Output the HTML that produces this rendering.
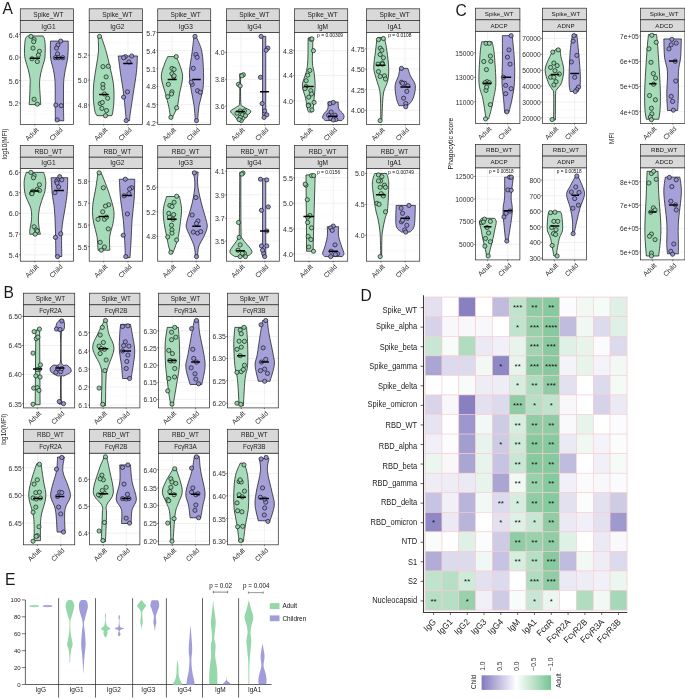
<!DOCTYPE html><html><head><meta charset="utf-8"><style>html,body{margin:0;padding:0;background:#fff;overflow:hidden}svg{display:block}</style></head><body>
<svg width="685" height="699" viewBox="0 0 685 699" font-family='"Liberation Sans", Arial, sans-serif'>
<rect width="685" height="699" fill="#fff"/>
<clipPath id="a1"><rect x="20.3" y="32.5" width="53.3" height="91.9"/></clipPath>
<rect x="20.3" y="32.5" width="53.3" height="91.9" fill="#fff"/>
<g clip-path="url(#a1)">
<line x1="20.3" x2="73.6" y1="45.98" y2="45.98" stroke="#f5f5f5" stroke-width="0.5"/>
<line x1="20.3" x2="73.6" y1="68.9" y2="68.9" stroke="#f5f5f5" stroke-width="0.5"/>
<line x1="20.3" x2="73.6" y1="91.81" y2="91.81" stroke="#f5f5f5" stroke-width="0.5"/>
<line x1="20.3" x2="73.6" y1="114.4" y2="114.4" stroke="#f5f5f5" stroke-width="0.5"/>
<line x1="20.3" x2="73.6" y1="34.69" y2="34.69" stroke="#ebebeb" stroke-width="0.7"/>
<line x1="20.3" x2="73.6" y1="57.28" y2="57.28" stroke="#ebebeb" stroke-width="0.7"/>
<line x1="20.3" x2="73.6" y1="80.51" y2="80.51" stroke="#ebebeb" stroke-width="0.7"/>
<line x1="20.3" x2="73.6" y1="103.1" y2="103.1" stroke="#ebebeb" stroke-width="0.7"/>
<line x1="34.84" x2="34.84" y1="32.5" y2="124.4" stroke="#ebebeb" stroke-width="0.7"/>
<line x1="59.06" x2="59.06" y1="32.5" y2="124.4" stroke="#ebebeb" stroke-width="0.7"/>
<path d="M43.05,35.97C43.27,36.39 43.98,37.1 44.33,38.53C44.69,39.95 45.04,42.01 45.18,44.49C45.33,46.98 45.29,50.85 45.18,53.44C45.08,56.04 45.11,57.42 44.54,60.05C43.98,62.68 42.55,66.13 41.77,69.22C40.99,72.31 40.21,75.79 39.86,78.59C39.5,81.4 39.57,82.96 39.64,86.05C39.71,89.14 40.1,94.05 40.28,97.14C40.46,100.23 40.64,103.35 40.71,104.6L29.2,104.6C29.27,103.35 29.48,100.23 29.62,97.14C29.77,94.05 29.98,89.14 30.05,86.05C30.12,82.96 30.37,81.4 30.05,78.59C29.73,75.79 28.91,72.31 28.13,69.22C27.35,66.13 25.97,62.68 25.36,60.05C24.76,57.42 24.62,56.04 24.51,53.44C24.4,50.85 24.55,46.98 24.72,44.49C24.9,42.01 25.11,39.95 25.58,38.53C26.04,37.1 27.17,36.39 27.49,35.97Z" fill="#a6dcb9" stroke="#1a1a1a" stroke-width="0.75"/>
<path d="M68.2,41.08C68.2,42.79 68.34,48.15 68.2,51.31C68.06,54.47 67.81,57.07 67.35,60.05C66.89,63.03 66,66.13 65.43,69.22C64.86,72.31 64.26,75.47 63.94,78.59C63.62,81.72 63.58,83.32 63.51,87.97C63.44,92.62 63.48,101.04 63.51,106.51C63.55,111.98 63.69,118.41 63.73,120.79L55.41,120.79C55.38,118.41 55.24,111.98 55.2,106.51C55.16,101.04 55.27,92.62 55.2,87.97C55.13,83.32 55.09,81.72 54.77,78.59C54.45,75.47 53.92,72.31 53.28,69.22C52.64,66.13 51.44,63.03 50.94,60.05C50.44,57.07 50.37,54.47 50.3,51.31C50.23,48.15 50.48,42.79 50.51,41.08Z" fill="#a5a1d8" stroke="#1a1a1a" stroke-width="0.75"/>
<circle cx="30.9" cy="36.39" r="2.1" fill="#8ed3a4" stroke="#1a1a1a" stroke-width="0.7"/>
<circle cx="34.1" cy="39.59" r="2.1" fill="#8ed3a4" stroke="#1a1a1a" stroke-width="0.7"/>
<circle cx="33.67" cy="41.72" r="2.1" fill="#8ed3a4" stroke="#1a1a1a" stroke-width="0.7"/>
<circle cx="33.03" cy="48.12" r="2.1" fill="#8ed3a4" stroke="#1a1a1a" stroke-width="0.7"/>
<circle cx="39.43" cy="51.31" r="2.1" fill="#8ed3a4" stroke="#1a1a1a" stroke-width="0.7"/>
<circle cx="38.36" cy="55.15" r="2.1" fill="#8ed3a4" stroke="#1a1a1a" stroke-width="0.7"/>
<circle cx="31.97" cy="58.77" r="2.1" fill="#8ed3a4" stroke="#1a1a1a" stroke-width="0.7"/>
<circle cx="37.3" cy="61.54" r="2.1" fill="#8ed3a4" stroke="#1a1a1a" stroke-width="0.7"/>
<circle cx="34.1" cy="99.27" r="2.1" fill="#8ed3a4" stroke="#1a1a1a" stroke-width="0.7"/>
<circle cx="37.3" cy="104.17" r="2.1" fill="#8ed3a4" stroke="#1a1a1a" stroke-width="0.7"/>
<circle cx="60.74" cy="41.08" r="2.1" fill="#9690d4" stroke="#1a1a1a" stroke-width="0.7"/>
<circle cx="57.97" cy="44.92" r="2.1" fill="#9690d4" stroke="#1a1a1a" stroke-width="0.7"/>
<circle cx="56.48" cy="48.12" r="2.1" fill="#9690d4" stroke="#1a1a1a" stroke-width="0.7"/>
<circle cx="57.54" cy="53.87" r="2.1" fill="#9690d4" stroke="#1a1a1a" stroke-width="0.7"/>
<circle cx="55.41" cy="57.71" r="2.1" fill="#9690d4" stroke="#1a1a1a" stroke-width="0.7"/>
<circle cx="58.61" cy="57.71" r="2.1" fill="#9690d4" stroke="#1a1a1a" stroke-width="0.7"/>
<circle cx="62.87" cy="57.71" r="2.1" fill="#9690d4" stroke="#1a1a1a" stroke-width="0.7"/>
<circle cx="55.84" cy="105.02" r="2.1" fill="#9690d4" stroke="#1a1a1a" stroke-width="0.7"/>
<circle cx="61.17" cy="105.66" r="2.1" fill="#9690d4" stroke="#1a1a1a" stroke-width="0.7"/>
<circle cx="57.12" cy="119.94" r="2.1" fill="#9690d4" stroke="#1a1a1a" stroke-width="0.7"/>
<line x1="29.84" x2="40.07" y1="58.13" y2="58.13" stroke="#000" stroke-width="1.5"/>
<line x1="54.35" x2="63.94" y1="57.71" y2="57.71" stroke="#000" stroke-width="1.5"/>
</g>
<rect x="20.3" y="32.5" width="53.3" height="91.9" fill="none" stroke="#333333" stroke-width="0.75"/>
<rect x="20.3" y="8.8" width="53.3" height="11.7" fill="#d9d9d9" stroke="#333333" stroke-width="0.75"/>
<text x="48.45" y="16.85" font-size="6.55" fill="#1a1a1a" text-anchor="middle">Spike_WT</text>
<rect x="20.3" y="20.5" width="53.3" height="12" fill="#d9d9d9" stroke="#333333" stroke-width="0.75"/>
<text x="48.45" y="28.7" font-size="6.55" fill="#1a1a1a" text-anchor="middle">IgG1</text>
<line x1="19" x2="20.3" y1="34.69" y2="34.69" stroke="#333333" stroke-width="0.6"/>
<text x="18.6" y="37.69" font-size="7.5" fill="#2e2e2e" text-anchor="end" textLength="9.73" lengthAdjust="spacingAndGlyphs">6.4</text>
<line x1="19" x2="20.3" y1="57.28" y2="57.28" stroke="#333333" stroke-width="0.6"/>
<text x="18.6" y="60.28" font-size="7.5" fill="#2e2e2e" text-anchor="end" textLength="9.73" lengthAdjust="spacingAndGlyphs">6.0</text>
<line x1="19" x2="20.3" y1="80.51" y2="80.51" stroke="#333333" stroke-width="0.6"/>
<text x="18.6" y="83.51" font-size="7.5" fill="#2e2e2e" text-anchor="end" textLength="9.73" lengthAdjust="spacingAndGlyphs">5.6</text>
<line x1="19" x2="20.3" y1="103.1" y2="103.1" stroke="#333333" stroke-width="0.6"/>
<text x="18.6" y="106.1" font-size="7.5" fill="#2e2e2e" text-anchor="end" textLength="9.73" lengthAdjust="spacingAndGlyphs">5.2</text>
<line x1="34.84" x2="34.84" y1="124.4" y2="125.7" stroke="#333333" stroke-width="0.6"/>
<text x="35.64" y="127" font-size="6.8" fill="#2e2e2e" text-anchor="end" dominant-baseline="hanging" transform="rotate(-45 35.64 127)">Adult</text>
<line x1="59.06" x2="59.06" y1="124.4" y2="125.7" stroke="#333333" stroke-width="0.6"/>
<text x="59.86" y="127" font-size="6.8" fill="#2e2e2e" text-anchor="end" dominant-baseline="hanging" transform="rotate(-45 59.86 127)">Child</text>
<clipPath id="a2"><rect x="89.2" y="32.5" width="53.3" height="91.9"/></clipPath>
<rect x="89.2" y="32.5" width="53.3" height="91.9" fill="#fff"/>
<g clip-path="url(#a2)">
<line x1="89.2" x2="142.5" y1="42.68" y2="42.68" stroke="#f5f5f5" stroke-width="0.5"/>
<line x1="89.2" x2="142.5" y1="67.62" y2="67.62" stroke="#f5f5f5" stroke-width="0.5"/>
<line x1="89.2" x2="142.5" y1="92.55" y2="92.55" stroke="#f5f5f5" stroke-width="0.5"/>
<line x1="89.2" x2="142.5" y1="117.49" y2="117.49" stroke="#f5f5f5" stroke-width="0.5"/>
<line x1="89.2" x2="142.5" y1="55.15" y2="55.15" stroke="#ebebeb" stroke-width="0.7"/>
<line x1="89.2" x2="142.5" y1="80.09" y2="80.09" stroke="#ebebeb" stroke-width="0.7"/>
<line x1="89.2" x2="142.5" y1="105.02" y2="105.02" stroke="#ebebeb" stroke-width="0.7"/>
<line x1="103.74" x2="103.74" y1="32.5" y2="124.4" stroke="#ebebeb" stroke-width="0.7"/>
<line x1="127.96" x2="127.96" y1="32.5" y2="124.4" stroke="#ebebeb" stroke-width="0.7"/>
<path d="M101.02,35.97C101.88,38.53 104.68,46.27 106.14,51.31C107.59,56.36 108.55,60.9 109.76,66.23C110.97,71.56 112.67,77.95 113.38,83.28C114.09,88.61 114.09,93.58 114.02,98.2C113.95,102.82 113.31,108.08 112.96,110.99C112.6,113.9 112.07,114.9 111.89,115.68L96.97,115.68C96.62,114.9 95.45,113.9 94.84,110.99C94.24,108.08 93.53,102.82 93.35,98.2C93.17,93.58 93.28,88.61 93.78,83.28C94.27,77.95 95.55,71.56 96.33,66.23C97.12,60.9 98.18,56.36 98.47,51.31C98.75,46.27 98.11,38.53 98.04,35.97Z" fill="#a6dcb9" stroke="#1a1a1a" stroke-width="0.75"/>
<path d="M137.47,56C137.29,58.77 137.11,66.3 136.4,72.63C135.69,78.95 134.27,86.83 133.21,93.94C132.14,101.04 130.61,110.81 130.01,115.25C129.4,119.69 129.65,119.69 129.58,120.58L126.17,120.58C126.1,119.69 126.17,119.69 125.75,115.25C125.32,110.81 124.5,101.04 123.61,93.94C122.73,86.83 121.31,78.95 120.42,72.63C119.53,66.3 118.64,58.77 118.29,56Z" fill="#a5a1d8" stroke="#1a1a1a" stroke-width="0.75"/>
<circle cx="99.53" cy="36.39" r="2.1" fill="#8ed3a4" stroke="#1a1a1a" stroke-width="0.7"/>
<circle cx="102.94" cy="66.66" r="2.1" fill="#8ed3a4" stroke="#1a1a1a" stroke-width="0.7"/>
<circle cx="108.27" cy="66.23" r="2.1" fill="#8ed3a4" stroke="#1a1a1a" stroke-width="0.7"/>
<circle cx="106.14" cy="76.89" r="2.1" fill="#8ed3a4" stroke="#1a1a1a" stroke-width="0.7"/>
<circle cx="102.94" cy="84.35" r="2.1" fill="#8ed3a4" stroke="#1a1a1a" stroke-width="0.7"/>
<circle cx="102.94" cy="87.97" r="2.1" fill="#8ed3a4" stroke="#1a1a1a" stroke-width="0.7"/>
<circle cx="104.43" cy="93.94" r="2.1" fill="#8ed3a4" stroke="#1a1a1a" stroke-width="0.7"/>
<circle cx="107.63" cy="98.2" r="2.1" fill="#8ed3a4" stroke="#1a1a1a" stroke-width="0.7"/>
<circle cx="100.17" cy="103.53" r="2.1" fill="#8ed3a4" stroke="#1a1a1a" stroke-width="0.7"/>
<circle cx="101.88" cy="108.43" r="2.1" fill="#8ed3a4" stroke="#1a1a1a" stroke-width="0.7"/>
<circle cx="106.56" cy="110.56" r="2.1" fill="#8ed3a4" stroke="#1a1a1a" stroke-width="0.7"/>
<circle cx="105.5" cy="115.68" r="2.1" fill="#8ed3a4" stroke="#1a1a1a" stroke-width="0.7"/>
<circle cx="102.3" cy="102.46" r="2.1" fill="#8ed3a4" stroke="#1a1a1a" stroke-width="0.7"/>
<circle cx="125.32" cy="56.64" r="2.1" fill="#9690d4" stroke="#1a1a1a" stroke-width="0.7"/>
<circle cx="131.71" cy="56" r="2.1" fill="#9690d4" stroke="#1a1a1a" stroke-width="0.7"/>
<circle cx="123.61" cy="57.71" r="2.1" fill="#9690d4" stroke="#1a1a1a" stroke-width="0.7"/>
<circle cx="128.94" cy="61.97" r="2.1" fill="#9690d4" stroke="#1a1a1a" stroke-width="0.7"/>
<circle cx="127.45" cy="91.81" r="2.1" fill="#9690d4" stroke="#1a1a1a" stroke-width="0.7"/>
<circle cx="123.61" cy="97.14" r="2.1" fill="#9690d4" stroke="#1a1a1a" stroke-width="0.7"/>
<circle cx="126.17" cy="120.58" r="2.1" fill="#9690d4" stroke="#1a1a1a" stroke-width="0.7"/>
<line x1="99.1" x2="108.7" y1="94.58" y2="94.58" stroke="#000" stroke-width="1.5"/>
<line x1="123.19" x2="132.57" y1="63.46" y2="63.46" stroke="#000" stroke-width="1.5"/>
</g>
<rect x="89.2" y="32.5" width="53.3" height="91.9" fill="none" stroke="#333333" stroke-width="0.75"/>
<rect x="89.2" y="8.8" width="53.3" height="11.7" fill="#d9d9d9" stroke="#333333" stroke-width="0.75"/>
<text x="117.35" y="16.85" font-size="6.55" fill="#1a1a1a" text-anchor="middle">Spike_WT</text>
<rect x="89.2" y="20.5" width="53.3" height="12" fill="#d9d9d9" stroke="#333333" stroke-width="0.75"/>
<text x="117.35" y="28.7" font-size="6.55" fill="#1a1a1a" text-anchor="middle">IgG2</text>
<line x1="87.9" x2="89.2" y1="55.15" y2="55.15" stroke="#333333" stroke-width="0.6"/>
<text x="87.5" y="58.15" font-size="7.5" fill="#2e2e2e" text-anchor="end" textLength="9.73" lengthAdjust="spacingAndGlyphs">5.2</text>
<line x1="87.9" x2="89.2" y1="80.09" y2="80.09" stroke="#333333" stroke-width="0.6"/>
<text x="87.5" y="83.09" font-size="7.5" fill="#2e2e2e" text-anchor="end" textLength="9.73" lengthAdjust="spacingAndGlyphs">5.0</text>
<line x1="87.9" x2="89.2" y1="105.02" y2="105.02" stroke="#333333" stroke-width="0.6"/>
<text x="87.5" y="108.02" font-size="7.5" fill="#2e2e2e" text-anchor="end" textLength="9.73" lengthAdjust="spacingAndGlyphs">4.8</text>
<line x1="103.74" x2="103.74" y1="124.4" y2="125.7" stroke="#333333" stroke-width="0.6"/>
<text x="104.54" y="127" font-size="6.8" fill="#2e2e2e" text-anchor="end" dominant-baseline="hanging" transform="rotate(-45 104.54 127)">Adult</text>
<line x1="127.96" x2="127.96" y1="124.4" y2="125.7" stroke="#333333" stroke-width="0.6"/>
<text x="128.76" y="127" font-size="6.8" fill="#2e2e2e" text-anchor="end" dominant-baseline="hanging" transform="rotate(-45 128.76 127)">Child</text>
<clipPath id="a3"><rect x="157.7" y="32.5" width="53" height="91.9"/></clipPath>
<rect x="157.7" y="32.5" width="53" height="91.9" fill="#fff"/>
<g clip-path="url(#a3)">
<line x1="157.7" x2="210.7" y1="41.62" y2="41.62" stroke="#f5f5f5" stroke-width="0.5"/>
<line x1="157.7" x2="210.7" y1="59.73" y2="59.73" stroke="#f5f5f5" stroke-width="0.5"/>
<line x1="157.7" x2="210.7" y1="77.63" y2="77.63" stroke="#f5f5f5" stroke-width="0.5"/>
<line x1="157.7" x2="210.7" y1="95.54" y2="95.54" stroke="#f5f5f5" stroke-width="0.5"/>
<line x1="157.7" x2="210.7" y1="113.65" y2="113.65" stroke="#f5f5f5" stroke-width="0.5"/>
<line x1="157.7" x2="210.7" y1="32.56" y2="32.56" stroke="#ebebeb" stroke-width="0.7"/>
<line x1="157.7" x2="210.7" y1="50.67" y2="50.67" stroke="#ebebeb" stroke-width="0.7"/>
<line x1="157.7" x2="210.7" y1="68.79" y2="68.79" stroke="#ebebeb" stroke-width="0.7"/>
<line x1="157.7" x2="210.7" y1="86.48" y2="86.48" stroke="#ebebeb" stroke-width="0.7"/>
<line x1="157.7" x2="210.7" y1="104.6" y2="104.6" stroke="#ebebeb" stroke-width="0.7"/>
<line x1="157.7" x2="210.7" y1="122.71" y2="122.71" stroke="#ebebeb" stroke-width="0.7"/>
<line x1="172.15" x2="172.15" y1="32.5" y2="124.4" stroke="#ebebeb" stroke-width="0.7"/>
<line x1="196.25" x2="196.25" y1="32.5" y2="124.4" stroke="#ebebeb" stroke-width="0.7"/>
<path d="M175.81,56.64C176.41,57.88 178.29,60.73 179.43,64.1C180.57,67.48 182.63,71.92 182.63,76.89C182.63,81.86 180.32,88.97 179.43,93.94C178.54,98.91 178.47,102.82 177.3,106.73C176.13,110.63 173.21,115.61 172.4,117.38L170.48,117.38C170.19,115.61 169.59,110.63 168.77,106.73C167.96,102.82 166.82,98.91 165.58,93.94C164.33,88.97 161.49,81.86 161.31,76.89C161.14,71.92 163.44,67.48 164.51,64.1C165.58,60.73 167.17,57.88 167.71,56.64Z" fill="#a6dcb9" stroke="#1a1a1a" stroke-width="0.75"/>
<path d="M196.05,36.39C197.01,38.88 200.56,45.27 201.81,51.31C203.05,57.35 203.33,66.23 203.51,72.63C203.69,79.02 203.58,84.35 202.87,89.68C202.16,95 200.14,99.44 199.25,104.6C198.36,109.75 197.83,117.92 197.54,120.58L195.41,120.58C195.16,117.92 194.63,109.75 193.92,104.6C193.21,99.44 191.9,95 191.15,89.68C190.4,84.35 189.27,79.02 189.45,72.63C189.62,66.23 191.47,57.35 192.22,51.31C192.96,45.27 193.64,38.88 193.92,36.39Z" fill="#a5a1d8" stroke="#1a1a1a" stroke-width="0.75"/>
<circle cx="176.23" cy="56.64" r="2.1" fill="#8ed3a4" stroke="#1a1a1a" stroke-width="0.7"/>
<circle cx="171.97" cy="68.36" r="2.1" fill="#8ed3a4" stroke="#1a1a1a" stroke-width="0.7"/>
<circle cx="174.1" cy="69.43" r="2.1" fill="#8ed3a4" stroke="#1a1a1a" stroke-width="0.7"/>
<circle cx="171.97" cy="73.69" r="2.1" fill="#8ed3a4" stroke="#1a1a1a" stroke-width="0.7"/>
<circle cx="173.67" cy="76.89" r="2.1" fill="#8ed3a4" stroke="#1a1a1a" stroke-width="0.7"/>
<circle cx="168.35" cy="84.35" r="2.1" fill="#8ed3a4" stroke="#1a1a1a" stroke-width="0.7"/>
<circle cx="171.97" cy="91.81" r="2.1" fill="#8ed3a4" stroke="#1a1a1a" stroke-width="0.7"/>
<circle cx="171.54" cy="93.94" r="2.1" fill="#8ed3a4" stroke="#1a1a1a" stroke-width="0.7"/>
<circle cx="167.71" cy="96.71" r="2.1" fill="#8ed3a4" stroke="#1a1a1a" stroke-width="0.7"/>
<circle cx="176.66" cy="107.79" r="2.1" fill="#8ed3a4" stroke="#1a1a1a" stroke-width="0.7"/>
<circle cx="170.9" cy="117.38" r="2.1" fill="#8ed3a4" stroke="#1a1a1a" stroke-width="0.7"/>
<circle cx="174.1" cy="75.82" r="2.1" fill="#8ed3a4" stroke="#1a1a1a" stroke-width="0.7"/>
<circle cx="194.99" cy="36.39" r="2.1" fill="#9690d4" stroke="#1a1a1a" stroke-width="0.7"/>
<circle cx="195.84" cy="54.51" r="2.1" fill="#9690d4" stroke="#1a1a1a" stroke-width="0.7"/>
<circle cx="197.12" cy="57.28" r="2.1" fill="#9690d4" stroke="#1a1a1a" stroke-width="0.7"/>
<circle cx="193.28" cy="68.36" r="2.1" fill="#9690d4" stroke="#1a1a1a" stroke-width="0.7"/>
<circle cx="192.22" cy="84.35" r="2.1" fill="#9690d4" stroke="#1a1a1a" stroke-width="0.7"/>
<circle cx="197.54" cy="90.74" r="2.1" fill="#9690d4" stroke="#1a1a1a" stroke-width="0.7"/>
<circle cx="200.32" cy="92.23" r="2.1" fill="#9690d4" stroke="#1a1a1a" stroke-width="0.7"/>
<circle cx="196.48" cy="120.58" r="2.1" fill="#9690d4" stroke="#1a1a1a" stroke-width="0.7"/>
<circle cx="191.15" cy="82.22" r="2.1" fill="#9690d4" stroke="#1a1a1a" stroke-width="0.7"/>
<line x1="167.71" x2="176.66" y1="79.45" y2="79.45" stroke="#000" stroke-width="1.5"/>
<line x1="192.22" x2="200.74" y1="79.45" y2="79.45" stroke="#000" stroke-width="1.5"/>
</g>
<rect x="157.7" y="32.5" width="53" height="91.9" fill="none" stroke="#333333" stroke-width="0.75"/>
<rect x="157.7" y="8.8" width="53" height="11.7" fill="#d9d9d9" stroke="#333333" stroke-width="0.75"/>
<text x="185.7" y="16.85" font-size="6.55" fill="#1a1a1a" text-anchor="middle">Spike_WT</text>
<rect x="157.7" y="20.5" width="53" height="12" fill="#d9d9d9" stroke="#333333" stroke-width="0.75"/>
<text x="185.7" y="28.7" font-size="6.55" fill="#1a1a1a" text-anchor="middle">IgG3</text>
<line x1="156.4" x2="157.7" y1="32.56" y2="32.56" stroke="#333333" stroke-width="0.6"/>
<text x="156" y="35.56" font-size="7.5" fill="#2e2e2e" text-anchor="end" textLength="9.73" lengthAdjust="spacingAndGlyphs">5.7</text>
<line x1="156.4" x2="157.7" y1="50.67" y2="50.67" stroke="#333333" stroke-width="0.6"/>
<text x="156" y="53.67" font-size="7.5" fill="#2e2e2e" text-anchor="end" textLength="9.73" lengthAdjust="spacingAndGlyphs">5.4</text>
<line x1="156.4" x2="157.7" y1="68.79" y2="68.79" stroke="#333333" stroke-width="0.6"/>
<text x="156" y="71.79" font-size="7.5" fill="#2e2e2e" text-anchor="end" textLength="9.73" lengthAdjust="spacingAndGlyphs">5.1</text>
<line x1="156.4" x2="157.7" y1="86.48" y2="86.48" stroke="#333333" stroke-width="0.6"/>
<text x="156" y="89.48" font-size="7.5" fill="#2e2e2e" text-anchor="end" textLength="9.73" lengthAdjust="spacingAndGlyphs">4.8</text>
<line x1="156.4" x2="157.7" y1="104.6" y2="104.6" stroke="#333333" stroke-width="0.6"/>
<text x="156" y="107.6" font-size="7.5" fill="#2e2e2e" text-anchor="end" textLength="9.73" lengthAdjust="spacingAndGlyphs">4.5</text>
<line x1="156.4" x2="157.7" y1="122.71" y2="122.71" stroke="#333333" stroke-width="0.6"/>
<text x="156" y="125.71" font-size="7.5" fill="#2e2e2e" text-anchor="end" textLength="9.73" lengthAdjust="spacingAndGlyphs">4.2</text>
<line x1="172.15" x2="172.15" y1="124.4" y2="125.7" stroke="#333333" stroke-width="0.6"/>
<text x="172.95" y="127" font-size="6.8" fill="#2e2e2e" text-anchor="end" dominant-baseline="hanging" transform="rotate(-45 172.95 127)">Adult</text>
<line x1="196.25" x2="196.25" y1="124.4" y2="125.7" stroke="#333333" stroke-width="0.6"/>
<text x="197.05" y="127" font-size="6.8" fill="#2e2e2e" text-anchor="end" dominant-baseline="hanging" transform="rotate(-45 197.05 127)">Child</text>
<clipPath id="a4"><rect x="226.4" y="32.5" width="52.9" height="91.9"/></clipPath>
<rect x="226.4" y="32.5" width="52.9" height="91.9" fill="#fff"/>
<g clip-path="url(#a4)">
<line x1="226.4" x2="279.3" y1="38.84" y2="38.84" stroke="#f5f5f5" stroke-width="0.5"/>
<line x1="226.4" x2="279.3" y1="65.91" y2="65.91" stroke="#f5f5f5" stroke-width="0.5"/>
<line x1="226.4" x2="279.3" y1="92.77" y2="92.77" stroke="#f5f5f5" stroke-width="0.5"/>
<line x1="226.4" x2="279.3" y1="119.62" y2="119.62" stroke="#f5f5f5" stroke-width="0.5"/>
<line x1="226.4" x2="279.3" y1="52.38" y2="52.38" stroke="#ebebeb" stroke-width="0.7"/>
<line x1="226.4" x2="279.3" y1="79.45" y2="79.45" stroke="#ebebeb" stroke-width="0.7"/>
<line x1="226.4" x2="279.3" y1="106.09" y2="106.09" stroke="#ebebeb" stroke-width="0.7"/>
<line x1="240.83" x2="240.83" y1="32.5" y2="124.4" stroke="#ebebeb" stroke-width="0.7"/>
<line x1="264.87" x2="264.87" y1="32.5" y2="124.4" stroke="#ebebeb" stroke-width="0.7"/>
<path d="M240.6,73.69C240.63,78.49 240.35,96.96 240.81,102.46C241.27,107.97 241.7,105.31 243.37,106.73C245.04,108.15 250.12,109.57 250.83,110.99C251.54,112.41 248.87,113.65 247.63,115.25C246.39,116.85 244.08,119.69 243.37,120.58L238.04,120.58C237.33,119.69 235.02,116.85 233.78,115.25C232.53,113.65 230.05,112.41 230.58,110.99C231.11,109.57 235.48,108.15 236.97,106.73C238.47,105.31 239.07,107.97 239.53,102.46C239.99,96.96 239.71,78.49 239.74,73.69Z" fill="#a6dcb9" stroke="#1a1a1a" stroke-width="0.75"/>
<path d="M265.75,36.39L265.75,115.25L262.55,115.25L262.55,36.39Z" fill="#a5a1d8" stroke="#1a1a1a" stroke-width="0.75"/>
<circle cx="243.37" cy="74.76" r="2.1" fill="#8ed3a4" stroke="#1a1a1a" stroke-width="0.7"/>
<circle cx="241.88" cy="75.82" r="2.1" fill="#8ed3a4" stroke="#1a1a1a" stroke-width="0.7"/>
<circle cx="238.47" cy="84.35" r="2.1" fill="#8ed3a4" stroke="#1a1a1a" stroke-width="0.7"/>
<circle cx="240.17" cy="85.84" r="2.1" fill="#8ed3a4" stroke="#1a1a1a" stroke-width="0.7"/>
<circle cx="240.17" cy="110.99" r="2.1" fill="#8ed3a4" stroke="#1a1a1a" stroke-width="0.7"/>
<circle cx="244.43" cy="110.99" r="2.1" fill="#8ed3a4" stroke="#1a1a1a" stroke-width="0.7"/>
<circle cx="236.97" cy="113.12" r="2.1" fill="#8ed3a4" stroke="#1a1a1a" stroke-width="0.7"/>
<circle cx="242.3" cy="114.83" r="2.1" fill="#8ed3a4" stroke="#1a1a1a" stroke-width="0.7"/>
<circle cx="245.5" cy="115.68" r="2.1" fill="#8ed3a4" stroke="#1a1a1a" stroke-width="0.7"/>
<circle cx="240.17" cy="117.38" r="2.1" fill="#8ed3a4" stroke="#1a1a1a" stroke-width="0.7"/>
<circle cx="241.24" cy="120.58" r="2.1" fill="#8ed3a4" stroke="#1a1a1a" stroke-width="0.7"/>
<circle cx="239.1" cy="119.51" r="2.1" fill="#8ed3a4" stroke="#1a1a1a" stroke-width="0.7"/>
<circle cx="261.06" cy="36.39" r="2.1" fill="#9690d4" stroke="#1a1a1a" stroke-width="0.7"/>
<circle cx="267.88" cy="48.12" r="2.1" fill="#9690d4" stroke="#1a1a1a" stroke-width="0.7"/>
<circle cx="266.17" cy="50.25" r="2.1" fill="#9690d4" stroke="#1a1a1a" stroke-width="0.7"/>
<circle cx="260.42" cy="77.31" r="2.1" fill="#9690d4" stroke="#1a1a1a" stroke-width="0.7"/>
<circle cx="262.12" cy="103.53" r="2.1" fill="#9690d4" stroke="#1a1a1a" stroke-width="0.7"/>
<circle cx="264.68" cy="110.99" r="2.1" fill="#9690d4" stroke="#1a1a1a" stroke-width="0.7"/>
<circle cx="266.81" cy="114.83" r="2.1" fill="#9690d4" stroke="#1a1a1a" stroke-width="0.7"/>
<circle cx="264.04" cy="117.38" r="2.1" fill="#9690d4" stroke="#1a1a1a" stroke-width="0.7"/>
<line x1="235.91" x2="244.86" y1="111.42" y2="111.42" stroke="#000" stroke-width="1.5"/>
<line x1="259.99" x2="268.94" y1="91.81" y2="91.81" stroke="#000" stroke-width="1.5"/>
</g>
<rect x="226.4" y="32.5" width="52.9" height="91.9" fill="none" stroke="#333333" stroke-width="0.75"/>
<rect x="226.4" y="8.8" width="52.9" height="11.7" fill="#d9d9d9" stroke="#333333" stroke-width="0.75"/>
<text x="254.35" y="16.85" font-size="6.55" fill="#1a1a1a" text-anchor="middle">Spike_WT</text>
<rect x="226.4" y="20.5" width="52.9" height="12" fill="#d9d9d9" stroke="#333333" stroke-width="0.75"/>
<text x="254.35" y="28.7" font-size="6.55" fill="#1a1a1a" text-anchor="middle">IgG4</text>
<line x1="225.1" x2="226.4" y1="52.38" y2="52.38" stroke="#333333" stroke-width="0.6"/>
<text x="224.7" y="55.38" font-size="7.5" fill="#2e2e2e" text-anchor="end" textLength="9.73" lengthAdjust="spacingAndGlyphs">4.0</text>
<line x1="225.1" x2="226.4" y1="79.45" y2="79.45" stroke="#333333" stroke-width="0.6"/>
<text x="224.7" y="82.45" font-size="7.5" fill="#2e2e2e" text-anchor="end" textLength="9.73" lengthAdjust="spacingAndGlyphs">3.8</text>
<line x1="225.1" x2="226.4" y1="106.09" y2="106.09" stroke="#333333" stroke-width="0.6"/>
<text x="224.7" y="109.09" font-size="7.5" fill="#2e2e2e" text-anchor="end" textLength="9.73" lengthAdjust="spacingAndGlyphs">3.6</text>
<line x1="240.83" x2="240.83" y1="124.4" y2="125.7" stroke="#333333" stroke-width="0.6"/>
<text x="241.63" y="127" font-size="6.8" fill="#2e2e2e" text-anchor="end" dominant-baseline="hanging" transform="rotate(-45 241.63 127)">Adult</text>
<line x1="264.87" x2="264.87" y1="124.4" y2="125.7" stroke="#333333" stroke-width="0.6"/>
<text x="265.67" y="127" font-size="6.8" fill="#2e2e2e" text-anchor="end" dominant-baseline="hanging" transform="rotate(-45 265.67 127)">Child</text>
<clipPath id="a5"><rect x="294.5" y="32.5" width="53.2" height="91.9"/></clipPath>
<rect x="294.5" y="32.5" width="53.2" height="91.9" fill="#fff"/>
<g clip-path="url(#a5)">
<line x1="294.5" x2="347.7" y1="38.31" y2="38.31" stroke="#f5f5f5" stroke-width="0.5"/>
<line x1="294.5" x2="347.7" y1="63.03" y2="63.03" stroke="#f5f5f5" stroke-width="0.5"/>
<line x1="294.5" x2="347.7" y1="88.18" y2="88.18" stroke="#f5f5f5" stroke-width="0.5"/>
<line x1="294.5" x2="347.7" y1="113.33" y2="113.33" stroke="#f5f5f5" stroke-width="0.5"/>
<line x1="294.5" x2="347.7" y1="50.67" y2="50.67" stroke="#ebebeb" stroke-width="0.7"/>
<line x1="294.5" x2="347.7" y1="75.4" y2="75.4" stroke="#ebebeb" stroke-width="0.7"/>
<line x1="294.5" x2="347.7" y1="100.97" y2="100.97" stroke="#ebebeb" stroke-width="0.7"/>
<line x1="309.01" x2="309.01" y1="32.5" y2="124.4" stroke="#ebebeb" stroke-width="0.7"/>
<line x1="333.19" x2="333.19" y1="32.5" y2="124.4" stroke="#ebebeb" stroke-width="0.7"/>
<path d="M313.03,38.1C312.93,42.08 312.22,56.21 312.4,61.97C312.57,67.72 313.64,68.72 314.1,72.63C314.56,76.53 315.17,81.15 315.17,85.41C315.17,89.68 314.46,94.12 314.1,98.2C313.75,102.29 313.39,107.61 313.03,109.92C312.68,112.23 312.15,111.7 311.97,112.05L308.77,112.05C308.59,111.7 308.24,112.23 307.71,109.92C307.17,107.61 306.46,102.29 305.58,98.2C304.69,94.12 302.31,89.68 302.38,85.41C302.45,81.15 305.11,76.53 306,72.63C306.89,68.72 307.35,67.72 307.71,61.97C308.06,56.21 308.06,42.08 308.13,38.1Z" fill="#a6dcb9" stroke="#1a1a1a" stroke-width="0.75"/>
<path d="M338.18,102.04C338.29,103.17 337.97,106.83 338.82,108.86C339.68,110.88 342.45,112.69 343.3,114.19C344.15,115.68 344.19,116.74 343.94,117.81C343.69,118.87 342.16,120.12 341.81,120.58L325.18,120.58C324.76,120.12 322.87,118.87 322.63,117.81C322.38,116.74 322.84,115.68 323.69,114.19C324.54,112.69 327.03,110.88 327.74,108.86C328.45,106.83 327.92,103.17 327.95,102.04Z" fill="#a5a1d8" stroke="#1a1a1a" stroke-width="0.75"/>
<circle cx="310.9" cy="39.16" r="2.1" fill="#8ed3a4" stroke="#1a1a1a" stroke-width="0.7"/>
<circle cx="311.97" cy="38.95" r="2.1" fill="#8ed3a4" stroke="#1a1a1a" stroke-width="0.7"/>
<circle cx="313.46" cy="50.67" r="2.1" fill="#8ed3a4" stroke="#1a1a1a" stroke-width="0.7"/>
<circle cx="309.84" cy="70.49" r="2.1" fill="#8ed3a4" stroke="#1a1a1a" stroke-width="0.7"/>
<circle cx="307.71" cy="75.18" r="2.1" fill="#8ed3a4" stroke="#1a1a1a" stroke-width="0.7"/>
<circle cx="306.21" cy="80.72" r="2.1" fill="#8ed3a4" stroke="#1a1a1a" stroke-width="0.7"/>
<circle cx="306" cy="86.48" r="2.1" fill="#8ed3a4" stroke="#1a1a1a" stroke-width="0.7"/>
<circle cx="304.94" cy="88.61" r="2.1" fill="#8ed3a4" stroke="#1a1a1a" stroke-width="0.7"/>
<circle cx="310.9" cy="90.74" r="2.1" fill="#8ed3a4" stroke="#1a1a1a" stroke-width="0.7"/>
<circle cx="308.77" cy="97.14" r="2.1" fill="#8ed3a4" stroke="#1a1a1a" stroke-width="0.7"/>
<circle cx="311.54" cy="93.94" r="2.1" fill="#8ed3a4" stroke="#1a1a1a" stroke-width="0.7"/>
<circle cx="314.1" cy="102.46" r="2.1" fill="#8ed3a4" stroke="#1a1a1a" stroke-width="0.7"/>
<circle cx="308.77" cy="105.02" r="2.1" fill="#8ed3a4" stroke="#1a1a1a" stroke-width="0.7"/>
<circle cx="311.97" cy="109.92" r="2.1" fill="#8ed3a4" stroke="#1a1a1a" stroke-width="0.7"/>
<circle cx="308.35" cy="105.66" r="2.1" fill="#8ed3a4" stroke="#1a1a1a" stroke-width="0.7"/>
<circle cx="330.09" cy="103.53" r="2.1" fill="#9690d4" stroke="#1a1a1a" stroke-width="0.7"/>
<circle cx="333.28" cy="102.46" r="2.1" fill="#9690d4" stroke="#1a1a1a" stroke-width="0.7"/>
<circle cx="331.15" cy="112.05" r="2.1" fill="#9690d4" stroke="#1a1a1a" stroke-width="0.7"/>
<circle cx="328.59" cy="115.25" r="2.1" fill="#9690d4" stroke="#1a1a1a" stroke-width="0.7"/>
<circle cx="334.99" cy="115.25" r="2.1" fill="#9690d4" stroke="#1a1a1a" stroke-width="0.7"/>
<circle cx="330.72" cy="118.45" r="2.1" fill="#9690d4" stroke="#1a1a1a" stroke-width="0.7"/>
<circle cx="335.84" cy="119.51" r="2.1" fill="#9690d4" stroke="#1a1a1a" stroke-width="0.7"/>
<circle cx="333.28" cy="119.94" r="2.1" fill="#9690d4" stroke="#1a1a1a" stroke-width="0.7"/>
<line x1="304.08" x2="313.67" y1="86.48" y2="86.48" stroke="#000" stroke-width="1.5"/>
<line x1="327.95" x2="337.54" y1="116.32" y2="116.32" stroke="#000" stroke-width="1.5"/>
</g>
<text x="330.09" y="37.03" font-size="4.9" fill="#111" text-anchor="middle">p = 0.00309</text>
<rect x="294.5" y="32.5" width="53.2" height="91.9" fill="none" stroke="#333333" stroke-width="0.75"/>
<rect x="294.5" y="8.8" width="53.2" height="11.7" fill="#d9d9d9" stroke="#333333" stroke-width="0.75"/>
<text x="322.6" y="16.85" font-size="6.55" fill="#1a1a1a" text-anchor="middle">Spike_WT</text>
<rect x="294.5" y="20.5" width="53.2" height="12" fill="#d9d9d9" stroke="#333333" stroke-width="0.75"/>
<text x="322.6" y="28.7" font-size="6.55" fill="#1a1a1a" text-anchor="middle">IgM</text>
<line x1="293.2" x2="294.5" y1="50.67" y2="50.67" stroke="#333333" stroke-width="0.6"/>
<text x="292.8" y="53.67" font-size="7.5" fill="#2e2e2e" text-anchor="end" textLength="9.73" lengthAdjust="spacingAndGlyphs">4.8</text>
<line x1="293.2" x2="294.5" y1="75.4" y2="75.4" stroke="#333333" stroke-width="0.6"/>
<text x="292.8" y="78.4" font-size="7.5" fill="#2e2e2e" text-anchor="end" textLength="9.73" lengthAdjust="spacingAndGlyphs">4.4</text>
<line x1="293.2" x2="294.5" y1="100.97" y2="100.97" stroke="#333333" stroke-width="0.6"/>
<text x="292.8" y="103.97" font-size="7.5" fill="#2e2e2e" text-anchor="end" textLength="9.73" lengthAdjust="spacingAndGlyphs">4.0</text>
<line x1="309.01" x2="309.01" y1="124.4" y2="125.7" stroke="#333333" stroke-width="0.6"/>
<text x="309.81" y="127" font-size="6.8" fill="#2e2e2e" text-anchor="end" dominant-baseline="hanging" transform="rotate(-45 309.81 127)">Adult</text>
<line x1="333.19" x2="333.19" y1="124.4" y2="125.7" stroke="#333333" stroke-width="0.6"/>
<text x="333.99" y="127" font-size="6.8" fill="#2e2e2e" text-anchor="end" dominant-baseline="hanging" transform="rotate(-45 333.99 127)">Child</text>
<clipPath id="a6"><rect x="366.4" y="32.5" width="53.3" height="91.9"/></clipPath>
<rect x="366.4" y="32.5" width="53.3" height="91.9" fill="#fff"/>
<g clip-path="url(#a6)">
<line x1="366.4" x2="419.7" y1="38.63" y2="38.63" stroke="#f5f5f5" stroke-width="0.5"/>
<line x1="366.4" x2="419.7" y1="58.88" y2="58.88" stroke="#f5f5f5" stroke-width="0.5"/>
<line x1="366.4" x2="419.7" y1="79.34" y2="79.34" stroke="#f5f5f5" stroke-width="0.5"/>
<line x1="366.4" x2="419.7" y1="100.01" y2="100.01" stroke="#f5f5f5" stroke-width="0.5"/>
<line x1="366.4" x2="419.7" y1="120.47" y2="120.47" stroke="#f5f5f5" stroke-width="0.5"/>
<line x1="366.4" x2="419.7" y1="48.76" y2="48.76" stroke="#ebebeb" stroke-width="0.7"/>
<line x1="366.4" x2="419.7" y1="69" y2="69" stroke="#ebebeb" stroke-width="0.7"/>
<line x1="366.4" x2="419.7" y1="89.68" y2="89.68" stroke="#ebebeb" stroke-width="0.7"/>
<line x1="366.4" x2="419.7" y1="110.35" y2="110.35" stroke="#ebebeb" stroke-width="0.7"/>
<line x1="380.94" x2="380.94" y1="32.5" y2="124.4" stroke="#ebebeb" stroke-width="0.7"/>
<line x1="405.16" x2="405.16" y1="32.5" y2="124.4" stroke="#ebebeb" stroke-width="0.7"/>
<path d="M384.43,37.46C384.5,37.81 384.43,37.28 384.86,39.59C385.29,41.9 386.35,46.52 386.99,51.31C387.63,56.11 388.59,63.39 388.7,68.36C388.8,73.34 388.52,76.89 387.63,81.15C386.74,85.41 384.33,87.54 383.37,93.94C382.41,100.33 382.12,115.25 381.88,119.51L380.81,119.51C380.7,115.25 380.81,100.33 380.17,93.94C379.53,87.54 378.04,85.41 376.97,81.15C375.91,76.89 374.03,73.34 373.78,68.36C373.53,63.39 374.95,56.11 375.48,51.31C376.01,46.52 376.55,41.9 376.97,39.59C377.4,37.28 377.86,37.81 378.04,37.46Z" fill="#a6dcb9" stroke="#1a1a1a" stroke-width="0.75"/>
<path d="M407.88,68.36C408.3,69.61 409.19,72.98 410.43,75.82C411.68,78.66 414.87,81.68 415.34,85.41C415.8,89.14 414.45,94.83 413.21,98.2C411.96,101.58 408.77,104.42 407.88,105.66L398.93,105.66C398.5,104.42 397.01,101.58 396.37,98.2C395.73,94.83 394.73,89.14 395.09,85.41C395.44,81.68 397.72,78.66 398.5,75.82C399.28,72.98 399.57,69.61 399.78,68.36Z" fill="#a5a1d8" stroke="#1a1a1a" stroke-width="0.75"/>
<circle cx="378.47" cy="39.59" r="2.1" fill="#8ed3a4" stroke="#1a1a1a" stroke-width="0.7"/>
<circle cx="383.37" cy="38.53" r="2.1" fill="#8ed3a4" stroke="#1a1a1a" stroke-width="0.7"/>
<circle cx="380.17" cy="48.12" r="2.1" fill="#8ed3a4" stroke="#1a1a1a" stroke-width="0.7"/>
<circle cx="381.88" cy="50.25" r="2.1" fill="#8ed3a4" stroke="#1a1a1a" stroke-width="0.7"/>
<circle cx="380.17" cy="54.51" r="2.1" fill="#8ed3a4" stroke="#1a1a1a" stroke-width="0.7"/>
<circle cx="383.37" cy="57.71" r="2.1" fill="#8ed3a4" stroke="#1a1a1a" stroke-width="0.7"/>
<circle cx="382.3" cy="63.03" r="2.1" fill="#8ed3a4" stroke="#1a1a1a" stroke-width="0.7"/>
<circle cx="378.04" cy="64.1" r="2.1" fill="#8ed3a4" stroke="#1a1a1a" stroke-width="0.7"/>
<circle cx="382.3" cy="64.1" r="2.1" fill="#8ed3a4" stroke="#1a1a1a" stroke-width="0.7"/>
<circle cx="378.47" cy="71.56" r="2.1" fill="#8ed3a4" stroke="#1a1a1a" stroke-width="0.7"/>
<circle cx="384.43" cy="75.82" r="2.1" fill="#8ed3a4" stroke="#1a1a1a" stroke-width="0.7"/>
<circle cx="380.17" cy="76.46" r="2.1" fill="#8ed3a4" stroke="#1a1a1a" stroke-width="0.7"/>
<circle cx="385.5" cy="79.02" r="2.1" fill="#8ed3a4" stroke="#1a1a1a" stroke-width="0.7"/>
<circle cx="380.17" cy="120.58" r="2.1" fill="#8ed3a4" stroke="#1a1a1a" stroke-width="0.7"/>
<circle cx="401.48" cy="68.36" r="2.1" fill="#9690d4" stroke="#1a1a1a" stroke-width="0.7"/>
<circle cx="401.48" cy="82.22" r="2.1" fill="#9690d4" stroke="#1a1a1a" stroke-width="0.7"/>
<circle cx="404.68" cy="83.28" r="2.1" fill="#9690d4" stroke="#1a1a1a" stroke-width="0.7"/>
<circle cx="407.88" cy="85.84" r="2.1" fill="#9690d4" stroke="#1a1a1a" stroke-width="0.7"/>
<circle cx="406.81" cy="91.38" r="2.1" fill="#9690d4" stroke="#1a1a1a" stroke-width="0.7"/>
<circle cx="403.61" cy="98.2" r="2.1" fill="#9690d4" stroke="#1a1a1a" stroke-width="0.7"/>
<circle cx="405.75" cy="103.53" r="2.1" fill="#9690d4" stroke="#1a1a1a" stroke-width="0.7"/>
<circle cx="405.75" cy="106.73" r="2.1" fill="#9690d4" stroke="#1a1a1a" stroke-width="0.7"/>
<circle cx="402.55" cy="83.28" r="2.1" fill="#9690d4" stroke="#1a1a1a" stroke-width="0.7"/>
<line x1="375.91" x2="385.5" y1="65.17" y2="65.17" stroke="#000" stroke-width="1.5"/>
<line x1="400.42" x2="410.43" y1="87.12" y2="87.12" stroke="#000" stroke-width="1.5"/>
</g>
<text x="399.78" y="37.03" font-size="4.9" fill="#111" text-anchor="middle">p = 0.0108</text>
<rect x="366.4" y="32.5" width="53.3" height="91.9" fill="none" stroke="#333333" stroke-width="0.75"/>
<rect x="366.4" y="8.8" width="53.3" height="11.7" fill="#d9d9d9" stroke="#333333" stroke-width="0.75"/>
<text x="394.55" y="16.85" font-size="6.55" fill="#1a1a1a" text-anchor="middle">Spike_WT</text>
<rect x="366.4" y="20.5" width="53.3" height="12" fill="#d9d9d9" stroke="#333333" stroke-width="0.75"/>
<text x="394.55" y="28.7" font-size="6.55" fill="#1a1a1a" text-anchor="middle">IgA1</text>
<line x1="365.1" x2="366.4" y1="48.76" y2="48.76" stroke="#333333" stroke-width="0.6"/>
<text x="364.7" y="51.76" font-size="7.5" fill="#2e2e2e" text-anchor="end" textLength="13.62" lengthAdjust="spacingAndGlyphs">4.75</text>
<line x1="365.1" x2="366.4" y1="69" y2="69" stroke="#333333" stroke-width="0.6"/>
<text x="364.7" y="72" font-size="7.5" fill="#2e2e2e" text-anchor="end" textLength="13.62" lengthAdjust="spacingAndGlyphs">4.50</text>
<line x1="365.1" x2="366.4" y1="89.68" y2="89.68" stroke="#333333" stroke-width="0.6"/>
<text x="364.7" y="92.68" font-size="7.5" fill="#2e2e2e" text-anchor="end" textLength="13.62" lengthAdjust="spacingAndGlyphs">4.25</text>
<line x1="365.1" x2="366.4" y1="110.35" y2="110.35" stroke="#333333" stroke-width="0.6"/>
<text x="364.7" y="113.35" font-size="7.5" fill="#2e2e2e" text-anchor="end" textLength="13.62" lengthAdjust="spacingAndGlyphs">4.00</text>
<line x1="380.94" x2="380.94" y1="124.4" y2="125.7" stroke="#333333" stroke-width="0.6"/>
<text x="381.74" y="127" font-size="6.8" fill="#2e2e2e" text-anchor="end" dominant-baseline="hanging" transform="rotate(-45 381.74 127)">Adult</text>
<line x1="405.16" x2="405.16" y1="124.4" y2="125.7" stroke="#333333" stroke-width="0.6"/>
<text x="405.96" y="127" font-size="6.8" fill="#2e2e2e" text-anchor="end" dominant-baseline="hanging" transform="rotate(-45 405.96 127)">Child</text>
<clipPath id="a7"><rect x="20.3" y="168.6" width="53.3" height="92.6"/></clipPath>
<rect x="20.3" y="168.6" width="53.3" height="92.6" fill="#fff"/>
<g clip-path="url(#a7)">
<line x1="20.3" x2="73.6" y1="182.52" y2="182.52" stroke="#f5f5f5" stroke-width="0.5"/>
<line x1="20.3" x2="73.6" y1="202.98" y2="202.98" stroke="#f5f5f5" stroke-width="0.5"/>
<line x1="20.3" x2="73.6" y1="223.76" y2="223.76" stroke="#f5f5f5" stroke-width="0.5"/>
<line x1="20.3" x2="73.6" y1="244.54" y2="244.54" stroke="#f5f5f5" stroke-width="0.5"/>
<line x1="20.3" x2="73.6" y1="172.39" y2="172.39" stroke="#ebebeb" stroke-width="0.7"/>
<line x1="20.3" x2="73.6" y1="192.64" y2="192.64" stroke="#ebebeb" stroke-width="0.7"/>
<line x1="20.3" x2="73.6" y1="213.31" y2="213.31" stroke="#ebebeb" stroke-width="0.7"/>
<line x1="20.3" x2="73.6" y1="234.2" y2="234.2" stroke="#ebebeb" stroke-width="0.7"/>
<line x1="20.3" x2="73.6" y1="254.87" y2="254.87" stroke="#ebebeb" stroke-width="0.7"/>
<line x1="34.84" x2="34.84" y1="168.6" y2="261.2" stroke="#ebebeb" stroke-width="0.7"/>
<line x1="59.06" x2="59.06" y1="168.6" y2="261.2" stroke="#ebebeb" stroke-width="0.7"/>
<path d="M43.69,172.39C43.94,173.25 44.83,175.66 45.18,177.51C45.54,179.36 45.89,181.06 45.82,183.48C45.75,185.89 45.29,189.59 44.76,192C44.22,194.42 43.51,195.2 42.63,197.97C41.74,200.74 40.14,205.07 39.43,208.63C38.72,212.18 38.36,215.73 38.36,219.28C38.36,222.83 39.07,227.45 39.43,229.94C39.78,232.43 40.32,233.49 40.49,234.2L29.84,234.2C29.84,233.49 29.55,232.43 29.84,229.94C30.12,227.45 31.37,222.83 31.54,219.28C31.72,215.73 31.76,212.18 30.9,208.63C30.05,205.07 27.46,200.74 26.43,197.97C25.4,195.2 25.11,194.42 24.72,192C24.33,189.59 24.08,185.89 24.08,183.48C24.08,181.06 24.37,179.36 24.72,177.51C25.08,175.66 25.97,173.25 26.21,172.39Z" fill="#a6dcb9" stroke="#1a1a1a" stroke-width="0.75"/>
<path d="M67.77,177.72C67.67,180.39 67.6,188.56 67.14,193.71C66.67,198.86 65.89,202.59 65,208.63C64.12,214.66 62.34,221.95 61.81,229.94C61.27,237.93 61.81,252.14 61.81,256.58L55.84,256.58C55.77,252.14 55.66,237.93 55.41,229.94C55.16,221.95 54.88,214.66 54.35,208.63C53.82,202.59 52.75,198.86 52.22,193.71C51.68,188.56 51.33,180.39 51.15,177.72Z" fill="#a5a1d8" stroke="#1a1a1a" stroke-width="0.75"/>
<circle cx="30.9" cy="172.39" r="2.1" fill="#8ed3a4" stroke="#1a1a1a" stroke-width="0.7"/>
<circle cx="34.1" cy="175.59" r="2.1" fill="#8ed3a4" stroke="#1a1a1a" stroke-width="0.7"/>
<circle cx="33.46" cy="177.72" r="2.1" fill="#8ed3a4" stroke="#1a1a1a" stroke-width="0.7"/>
<circle cx="39.43" cy="184.76" r="2.1" fill="#8ed3a4" stroke="#1a1a1a" stroke-width="0.7"/>
<circle cx="37.3" cy="189.44" r="2.1" fill="#8ed3a4" stroke="#1a1a1a" stroke-width="0.7"/>
<circle cx="31.54" cy="193.28" r="2.1" fill="#8ed3a4" stroke="#1a1a1a" stroke-width="0.7"/>
<circle cx="33.03" cy="191.15" r="2.1" fill="#8ed3a4" stroke="#1a1a1a" stroke-width="0.7"/>
<circle cx="39.43" cy="190.51" r="2.1" fill="#8ed3a4" stroke="#1a1a1a" stroke-width="0.7"/>
<circle cx="34.1" cy="226.74" r="2.1" fill="#8ed3a4" stroke="#1a1a1a" stroke-width="0.7"/>
<circle cx="36.23" cy="229.94" r="2.1" fill="#8ed3a4" stroke="#1a1a1a" stroke-width="0.7"/>
<circle cx="37.3" cy="231" r="2.1" fill="#8ed3a4" stroke="#1a1a1a" stroke-width="0.7"/>
<circle cx="35.17" cy="234.2" r="2.1" fill="#8ed3a4" stroke="#1a1a1a" stroke-width="0.7"/>
<circle cx="31.97" cy="193.71" r="2.1" fill="#8ed3a4" stroke="#1a1a1a" stroke-width="0.7"/>
<circle cx="59.68" cy="176.66" r="2.1" fill="#9690d4" stroke="#1a1a1a" stroke-width="0.7"/>
<circle cx="57.54" cy="179.85" r="2.1" fill="#9690d4" stroke="#1a1a1a" stroke-width="0.7"/>
<circle cx="61.81" cy="179.85" r="2.1" fill="#9690d4" stroke="#1a1a1a" stroke-width="0.7"/>
<circle cx="56.48" cy="181.35" r="2.1" fill="#9690d4" stroke="#1a1a1a" stroke-width="0.7"/>
<circle cx="58.61" cy="186.89" r="2.1" fill="#9690d4" stroke="#1a1a1a" stroke-width="0.7"/>
<circle cx="54.99" cy="192.64" r="2.1" fill="#9690d4" stroke="#1a1a1a" stroke-width="0.7"/>
<circle cx="55.41" cy="237.4" r="2.1" fill="#9690d4" stroke="#1a1a1a" stroke-width="0.7"/>
<circle cx="60.74" cy="233.77" r="2.1" fill="#9690d4" stroke="#1a1a1a" stroke-width="0.7"/>
<circle cx="57.54" cy="256.58" r="2.1" fill="#9690d4" stroke="#1a1a1a" stroke-width="0.7"/>
<circle cx="57.12" cy="183.05" r="2.1" fill="#9690d4" stroke="#1a1a1a" stroke-width="0.7"/>
<line x1="30.26" x2="39.43" y1="190.94" y2="190.94" stroke="#000" stroke-width="1.5"/>
<line x1="54.35" x2="63.94" y1="190.51" y2="190.51" stroke="#000" stroke-width="1.5"/>
</g>
<rect x="20.3" y="168.6" width="53.3" height="92.6" fill="none" stroke="#333333" stroke-width="0.75"/>
<rect x="20.3" y="145.5" width="53.3" height="11.7" fill="#d9d9d9" stroke="#333333" stroke-width="0.75"/>
<text x="48.45" y="153.55" font-size="6.55" fill="#1a1a1a" text-anchor="middle">RBD_WT</text>
<rect x="20.3" y="157.2" width="53.3" height="11.4" fill="#d9d9d9" stroke="#333333" stroke-width="0.75"/>
<text x="48.45" y="165.1" font-size="6.55" fill="#1a1a1a" text-anchor="middle">IgG1</text>
<line x1="19" x2="20.3" y1="172.39" y2="172.39" stroke="#333333" stroke-width="0.6"/>
<text x="18.6" y="175.39" font-size="7.5" fill="#2e2e2e" text-anchor="end" textLength="9.73" lengthAdjust="spacingAndGlyphs">6.6</text>
<line x1="19" x2="20.3" y1="192.64" y2="192.64" stroke="#333333" stroke-width="0.6"/>
<text x="18.6" y="195.64" font-size="7.5" fill="#2e2e2e" text-anchor="end" textLength="9.73" lengthAdjust="spacingAndGlyphs">6.3</text>
<line x1="19" x2="20.3" y1="213.31" y2="213.31" stroke="#333333" stroke-width="0.6"/>
<text x="18.6" y="216.31" font-size="7.5" fill="#2e2e2e" text-anchor="end" textLength="9.73" lengthAdjust="spacingAndGlyphs">6.0</text>
<line x1="19" x2="20.3" y1="234.2" y2="234.2" stroke="#333333" stroke-width="0.6"/>
<text x="18.6" y="237.2" font-size="7.5" fill="#2e2e2e" text-anchor="end" textLength="9.73" lengthAdjust="spacingAndGlyphs">5.7</text>
<line x1="19" x2="20.3" y1="254.87" y2="254.87" stroke="#333333" stroke-width="0.6"/>
<text x="18.6" y="257.87" font-size="7.5" fill="#2e2e2e" text-anchor="end" textLength="9.73" lengthAdjust="spacingAndGlyphs">5.4</text>
<line x1="34.84" x2="34.84" y1="261.2" y2="262.5" stroke="#333333" stroke-width="0.6"/>
<text x="35.64" y="263.8" font-size="6.8" fill="#2e2e2e" text-anchor="end" dominant-baseline="hanging" transform="rotate(-45 35.64 263.8)">Adult</text>
<line x1="59.06" x2="59.06" y1="261.2" y2="262.5" stroke="#333333" stroke-width="0.6"/>
<text x="59.86" y="263.8" font-size="6.8" fill="#2e2e2e" text-anchor="end" dominant-baseline="hanging" transform="rotate(-45 59.86 263.8)">Child</text>
<clipPath id="a8"><rect x="89.2" y="168.6" width="53.3" height="92.6"/></clipPath>
<rect x="89.2" y="168.6" width="53.3" height="92.6" fill="#fff"/>
<g clip-path="url(#a8)">
<line x1="89.2" x2="142.5" y1="170.37" y2="170.37" stroke="#f5f5f5" stroke-width="0.5"/>
<line x1="89.2" x2="142.5" y1="192.32" y2="192.32" stroke="#f5f5f5" stroke-width="0.5"/>
<line x1="89.2" x2="142.5" y1="214.17" y2="214.17" stroke="#f5f5f5" stroke-width="0.5"/>
<line x1="89.2" x2="142.5" y1="235.8" y2="235.8" stroke="#f5f5f5" stroke-width="0.5"/>
<line x1="89.2" x2="142.5" y1="257.54" y2="257.54" stroke="#f5f5f5" stroke-width="0.5"/>
<line x1="89.2" x2="142.5" y1="181.35" y2="181.35" stroke="#ebebeb" stroke-width="0.7"/>
<line x1="89.2" x2="142.5" y1="203.3" y2="203.3" stroke="#ebebeb" stroke-width="0.7"/>
<line x1="89.2" x2="142.5" y1="225.04" y2="225.04" stroke="#ebebeb" stroke-width="0.7"/>
<line x1="89.2" x2="142.5" y1="246.56" y2="246.56" stroke="#ebebeb" stroke-width="0.7"/>
<line x1="103.74" x2="103.74" y1="168.6" y2="261.2" stroke="#ebebeb" stroke-width="0.7"/>
<line x1="127.96" x2="127.96" y1="168.6" y2="261.2" stroke="#ebebeb" stroke-width="0.7"/>
<path d="M101.02,172.39C102.02,174.88 105.18,182.34 106.99,187.31C108.8,192.29 110.72,197.97 111.89,202.23C113.06,206.49 113.85,209.34 114.02,212.89C114.2,216.44 113.67,219.64 112.96,223.54C112.25,227.45 110.29,231.89 109.76,236.33C109.23,240.77 109.76,247.88 109.76,250.19L98.04,250.19C97.86,247.88 97.68,240.77 96.97,236.33C96.26,231.89 94.52,227.45 93.78,223.54C93.03,219.64 92.6,216.44 92.5,212.89C92.39,209.34 92.57,206.49 93.14,202.23C93.71,197.97 95.09,192.29 95.91,187.31C96.72,182.34 97.68,174.88 98.04,172.39Z" fill="#a6dcb9" stroke="#1a1a1a" stroke-width="0.75"/>
<path d="M134.7,179.21C134.63,182.34 134.7,191.29 134.27,197.97C133.84,204.65 132.67,212.18 132.14,219.28C131.61,226.39 131.43,234.2 131.07,240.6C130.72,246.99 130.19,254.8 130.01,257.65L125.32,257.65C125.21,254.8 125.04,246.99 124.68,240.6C124.33,234.2 123.9,226.39 123.19,219.28C122.48,212.18 121.06,204.65 120.42,197.97C119.78,191.29 119.53,182.34 119.35,179.21Z" fill="#a5a1d8" stroke="#1a1a1a" stroke-width="0.75"/>
<circle cx="99.1" cy="172.82" r="2.1" fill="#8ed3a4" stroke="#1a1a1a" stroke-width="0.7"/>
<circle cx="103.37" cy="187.74" r="2.1" fill="#8ed3a4" stroke="#1a1a1a" stroke-width="0.7"/>
<circle cx="108.7" cy="204.79" r="2.1" fill="#8ed3a4" stroke="#1a1a1a" stroke-width="0.7"/>
<circle cx="105.5" cy="206.07" r="2.1" fill="#8ed3a4" stroke="#1a1a1a" stroke-width="0.7"/>
<circle cx="102.73" cy="211.82" r="2.1" fill="#8ed3a4" stroke="#1a1a1a" stroke-width="0.7"/>
<circle cx="104.43" cy="219.28" r="2.1" fill="#8ed3a4" stroke="#1a1a1a" stroke-width="0.7"/>
<circle cx="98.04" cy="219.28" r="2.1" fill="#8ed3a4" stroke="#1a1a1a" stroke-width="0.7"/>
<circle cx="108.27" cy="228.87" r="2.1" fill="#8ed3a4" stroke="#1a1a1a" stroke-width="0.7"/>
<circle cx="100.17" cy="242.3" r="2.1" fill="#8ed3a4" stroke="#1a1a1a" stroke-width="0.7"/>
<circle cx="104.43" cy="246.99" r="2.1" fill="#8ed3a4" stroke="#1a1a1a" stroke-width="0.7"/>
<circle cx="101.24" cy="250.19" r="2.1" fill="#8ed3a4" stroke="#1a1a1a" stroke-width="0.7"/>
<circle cx="106.56" cy="217.15" r="2.1" fill="#8ed3a4" stroke="#1a1a1a" stroke-width="0.7"/>
<circle cx="125.32" cy="179.21" r="2.1" fill="#9690d4" stroke="#1a1a1a" stroke-width="0.7"/>
<circle cx="131.71" cy="187.74" r="2.1" fill="#9690d4" stroke="#1a1a1a" stroke-width="0.7"/>
<circle cx="129.58" cy="189.02" r="2.1" fill="#9690d4" stroke="#1a1a1a" stroke-width="0.7"/>
<circle cx="124.04" cy="195.84" r="2.1" fill="#9690d4" stroke="#1a1a1a" stroke-width="0.7"/>
<circle cx="127.45" cy="213.95" r="2.1" fill="#9690d4" stroke="#1a1a1a" stroke-width="0.7"/>
<circle cx="123.19" cy="235.27" r="2.1" fill="#9690d4" stroke="#1a1a1a" stroke-width="0.7"/>
<circle cx="125.75" cy="256.58" r="2.1" fill="#9690d4" stroke="#1a1a1a" stroke-width="0.7"/>
<circle cx="128.94" cy="193.71" r="2.1" fill="#9690d4" stroke="#1a1a1a" stroke-width="0.7"/>
<line x1="98.47" x2="108.27" y1="216.51" y2="216.51" stroke="#000" stroke-width="1.5"/>
<line x1="122.55" x2="132.14" y1="195.41" y2="195.41" stroke="#000" stroke-width="1.5"/>
</g>
<rect x="89.2" y="168.6" width="53.3" height="92.6" fill="none" stroke="#333333" stroke-width="0.75"/>
<rect x="89.2" y="145.5" width="53.3" height="11.7" fill="#d9d9d9" stroke="#333333" stroke-width="0.75"/>
<text x="117.35" y="153.55" font-size="6.55" fill="#1a1a1a" text-anchor="middle">RBD_WT</text>
<rect x="89.2" y="157.2" width="53.3" height="11.4" fill="#d9d9d9" stroke="#333333" stroke-width="0.75"/>
<text x="117.35" y="165.1" font-size="6.55" fill="#1a1a1a" text-anchor="middle">IgG2</text>
<line x1="87.9" x2="89.2" y1="181.35" y2="181.35" stroke="#333333" stroke-width="0.6"/>
<text x="87.5" y="184.35" font-size="7.5" fill="#2e2e2e" text-anchor="end" textLength="9.73" lengthAdjust="spacingAndGlyphs">5.8</text>
<line x1="87.9" x2="89.2" y1="203.3" y2="203.3" stroke="#333333" stroke-width="0.6"/>
<text x="87.5" y="206.3" font-size="7.5" fill="#2e2e2e" text-anchor="end" textLength="9.73" lengthAdjust="spacingAndGlyphs">5.7</text>
<line x1="87.9" x2="89.2" y1="225.04" y2="225.04" stroke="#333333" stroke-width="0.6"/>
<text x="87.5" y="228.04" font-size="7.5" fill="#2e2e2e" text-anchor="end" textLength="9.73" lengthAdjust="spacingAndGlyphs">5.6</text>
<line x1="87.9" x2="89.2" y1="246.56" y2="246.56" stroke="#333333" stroke-width="0.6"/>
<text x="87.5" y="249.56" font-size="7.5" fill="#2e2e2e" text-anchor="end" textLength="9.73" lengthAdjust="spacingAndGlyphs">5.5</text>
<line x1="103.74" x2="103.74" y1="261.2" y2="262.5" stroke="#333333" stroke-width="0.6"/>
<text x="104.54" y="263.8" font-size="6.8" fill="#2e2e2e" text-anchor="end" dominant-baseline="hanging" transform="rotate(-45 104.54 263.8)">Adult</text>
<line x1="127.96" x2="127.96" y1="261.2" y2="262.5" stroke="#333333" stroke-width="0.6"/>
<text x="128.76" y="263.8" font-size="6.8" fill="#2e2e2e" text-anchor="end" dominant-baseline="hanging" transform="rotate(-45 128.76 263.8)">Child</text>
<clipPath id="a9"><rect x="157.7" y="168.6" width="53" height="92.6"/></clipPath>
<rect x="157.7" y="168.6" width="53" height="92.6" fill="#fff"/>
<g clip-path="url(#a9)">
<line x1="157.7" x2="210.7" y1="175.06" y2="175.06" stroke="#f5f5f5" stroke-width="0.5"/>
<line x1="157.7" x2="210.7" y1="199.57" y2="199.57" stroke="#f5f5f5" stroke-width="0.5"/>
<line x1="157.7" x2="210.7" y1="224.08" y2="224.08" stroke="#f5f5f5" stroke-width="0.5"/>
<line x1="157.7" x2="210.7" y1="248.59" y2="248.59" stroke="#f5f5f5" stroke-width="0.5"/>
<line x1="157.7" x2="210.7" y1="187.31" y2="187.31" stroke="#ebebeb" stroke-width="0.7"/>
<line x1="157.7" x2="210.7" y1="211.82" y2="211.82" stroke="#ebebeb" stroke-width="0.7"/>
<line x1="157.7" x2="210.7" y1="236.33" y2="236.33" stroke="#ebebeb" stroke-width="0.7"/>
<line x1="172.15" x2="172.15" y1="168.6" y2="261.2" stroke="#ebebeb" stroke-width="0.7"/>
<line x1="196.25" x2="196.25" y1="168.6" y2="261.2" stroke="#ebebeb" stroke-width="0.7"/>
<path d="M179.43,196.48C179.78,198.5 181.38,204.47 181.56,208.63C181.74,212.78 181.03,216.8 180.49,221.41C179.96,226.03 179.25,232.07 178.36,236.33C177.48,240.6 176.16,244.15 175.17,246.99C174.17,249.83 172.86,252.32 172.4,253.38L170.9,253.38C170.55,252.32 169.48,249.83 168.77,246.99C168.06,244.15 167.46,240.6 166.64,236.33C165.82,232.07 164.4,226.03 163.87,221.41C163.34,216.8 162.98,212.78 163.44,208.63C163.91,204.47 166.11,198.5 166.64,196.48Z" fill="#a6dcb9" stroke="#1a1a1a" stroke-width="0.75"/>
<path d="M198.18,171.97C198.08,173.1 197.58,176.23 197.54,178.79C197.51,181.35 197.54,184.12 197.97,187.31C198.4,190.51 199.29,194.42 200.1,197.97C200.92,201.52 201.81,204.72 202.87,208.63C203.94,212.53 205.79,218.22 206.5,221.41C207.21,224.61 207.56,225.32 207.14,227.81C206.71,230.29 205.36,233.14 203.94,236.33C202.52,239.53 199.68,243.44 198.61,246.99C197.54,250.54 197.72,255.87 197.54,257.65L195.41,257.65C195.24,255.87 195.24,250.54 194.35,246.99C193.46,243.44 191.4,239.53 190.09,236.33C188.77,233.14 186.99,230.29 186.46,227.81C185.93,225.32 186.18,224.61 186.89,221.41C187.6,218.22 189.66,212.53 190.72,208.63C191.79,204.72 192.61,201.52 193.28,197.97C193.96,194.42 194.56,190.51 194.77,187.31C194.99,184.12 194.88,181.35 194.56,178.79C194.24,176.23 193.14,173.1 192.86,171.97Z" fill="#a5a1d8" stroke="#1a1a1a" stroke-width="0.75"/>
<circle cx="176.66" cy="196.26" r="2.1" fill="#8ed3a4" stroke="#1a1a1a" stroke-width="0.7"/>
<circle cx="174.1" cy="202.23" r="2.1" fill="#8ed3a4" stroke="#1a1a1a" stroke-width="0.7"/>
<circle cx="169.84" cy="205.43" r="2.1" fill="#8ed3a4" stroke="#1a1a1a" stroke-width="0.7"/>
<circle cx="171.97" cy="206.49" r="2.1" fill="#8ed3a4" stroke="#1a1a1a" stroke-width="0.7"/>
<circle cx="173.67" cy="214.59" r="2.1" fill="#8ed3a4" stroke="#1a1a1a" stroke-width="0.7"/>
<circle cx="169.41" cy="217.15" r="2.1" fill="#8ed3a4" stroke="#1a1a1a" stroke-width="0.7"/>
<circle cx="173.03" cy="219.28" r="2.1" fill="#8ed3a4" stroke="#1a1a1a" stroke-width="0.7"/>
<circle cx="171.54" cy="225.25" r="2.1" fill="#8ed3a4" stroke="#1a1a1a" stroke-width="0.7"/>
<circle cx="171.97" cy="229.94" r="2.1" fill="#8ed3a4" stroke="#1a1a1a" stroke-width="0.7"/>
<circle cx="171.97" cy="233.14" r="2.1" fill="#8ed3a4" stroke="#1a1a1a" stroke-width="0.7"/>
<circle cx="167.71" cy="236.97" r="2.1" fill="#8ed3a4" stroke="#1a1a1a" stroke-width="0.7"/>
<circle cx="176.66" cy="239.96" r="2.1" fill="#8ed3a4" stroke="#1a1a1a" stroke-width="0.7"/>
<circle cx="170.9" cy="252.32" r="2.1" fill="#8ed3a4" stroke="#1a1a1a" stroke-width="0.7"/>
<circle cx="168.77" cy="213.31" r="2.1" fill="#8ed3a4" stroke="#1a1a1a" stroke-width="0.7"/>
<circle cx="194.35" cy="172.82" r="2.1" fill="#9690d4" stroke="#1a1a1a" stroke-width="0.7"/>
<circle cx="195.84" cy="197.54" r="2.1" fill="#9690d4" stroke="#1a1a1a" stroke-width="0.7"/>
<circle cx="192.22" cy="215.02" r="2.1" fill="#9690d4" stroke="#1a1a1a" stroke-width="0.7"/>
<circle cx="197.97" cy="220.99" r="2.1" fill="#9690d4" stroke="#1a1a1a" stroke-width="0.7"/>
<circle cx="196.48" cy="223.54" r="2.1" fill="#9690d4" stroke="#1a1a1a" stroke-width="0.7"/>
<circle cx="193.28" cy="232.07" r="2.1" fill="#9690d4" stroke="#1a1a1a" stroke-width="0.7"/>
<circle cx="197.54" cy="233.14" r="2.1" fill="#9690d4" stroke="#1a1a1a" stroke-width="0.7"/>
<circle cx="200.74" cy="231.64" r="2.1" fill="#9690d4" stroke="#1a1a1a" stroke-width="0.7"/>
<circle cx="196.48" cy="256.58" r="2.1" fill="#9690d4" stroke="#1a1a1a" stroke-width="0.7"/>
<line x1="167.28" x2="176.66" y1="219.28" y2="219.28" stroke="#000" stroke-width="1.5"/>
<line x1="192.22" x2="200.74" y1="226.32" y2="226.32" stroke="#000" stroke-width="1.5"/>
</g>
<rect x="157.7" y="168.6" width="53" height="92.6" fill="none" stroke="#333333" stroke-width="0.75"/>
<rect x="157.7" y="145.5" width="53" height="11.7" fill="#d9d9d9" stroke="#333333" stroke-width="0.75"/>
<text x="185.7" y="153.55" font-size="6.55" fill="#1a1a1a" text-anchor="middle">RBD_WT</text>
<rect x="157.7" y="157.2" width="53" height="11.4" fill="#d9d9d9" stroke="#333333" stroke-width="0.75"/>
<text x="185.7" y="165.1" font-size="6.55" fill="#1a1a1a" text-anchor="middle">IgG3</text>
<line x1="156.4" x2="157.7" y1="187.31" y2="187.31" stroke="#333333" stroke-width="0.6"/>
<text x="156" y="190.31" font-size="7.5" fill="#2e2e2e" text-anchor="end" textLength="9.73" lengthAdjust="spacingAndGlyphs">5.6</text>
<line x1="156.4" x2="157.7" y1="211.82" y2="211.82" stroke="#333333" stroke-width="0.6"/>
<text x="156" y="214.82" font-size="7.5" fill="#2e2e2e" text-anchor="end" textLength="9.73" lengthAdjust="spacingAndGlyphs">5.2</text>
<line x1="156.4" x2="157.7" y1="236.33" y2="236.33" stroke="#333333" stroke-width="0.6"/>
<text x="156" y="239.33" font-size="7.5" fill="#2e2e2e" text-anchor="end" textLength="9.73" lengthAdjust="spacingAndGlyphs">4.8</text>
<line x1="172.15" x2="172.15" y1="261.2" y2="262.5" stroke="#333333" stroke-width="0.6"/>
<text x="172.95" y="263.8" font-size="6.8" fill="#2e2e2e" text-anchor="end" dominant-baseline="hanging" transform="rotate(-45 172.95 263.8)">Adult</text>
<line x1="196.25" x2="196.25" y1="261.2" y2="262.5" stroke="#333333" stroke-width="0.6"/>
<text x="197.05" y="263.8" font-size="6.8" fill="#2e2e2e" text-anchor="end" dominant-baseline="hanging" transform="rotate(-45 197.05 263.8)">Child</text>
<clipPath id="a10"><rect x="226.4" y="168.6" width="52.9" height="92.6"/></clipPath>
<rect x="226.4" y="168.6" width="52.9" height="92.6" fill="#fff"/>
<g clip-path="url(#a10)">
<line x1="226.4" x2="279.3" y1="183.05" y2="183.05" stroke="#f5f5f5" stroke-width="0.5"/>
<line x1="226.4" x2="279.3" y1="206.49" y2="206.49" stroke="#f5f5f5" stroke-width="0.5"/>
<line x1="226.4" x2="279.3" y1="229.62" y2="229.62" stroke="#f5f5f5" stroke-width="0.5"/>
<line x1="226.4" x2="279.3" y1="252.74" y2="252.74" stroke="#f5f5f5" stroke-width="0.5"/>
<line x1="226.4" x2="279.3" y1="171.33" y2="171.33" stroke="#ebebeb" stroke-width="0.7"/>
<line x1="226.4" x2="279.3" y1="194.77" y2="194.77" stroke="#ebebeb" stroke-width="0.7"/>
<line x1="226.4" x2="279.3" y1="218.22" y2="218.22" stroke="#ebebeb" stroke-width="0.7"/>
<line x1="226.4" x2="279.3" y1="241.02" y2="241.02" stroke="#ebebeb" stroke-width="0.7"/>
<line x1="240.83" x2="240.83" y1="168.6" y2="261.2" stroke="#ebebeb" stroke-width="0.7"/>
<line x1="264.87" x2="264.87" y1="168.6" y2="261.2" stroke="#ebebeb" stroke-width="0.7"/>
<path d="M240.81,172.39C240.85,181.98 240.77,218.93 241.02,229.94C241.27,240.95 240.49,234.91 242.3,238.46C244.11,242.02 251.18,248.23 251.89,251.25C252.6,254.27 247.45,255.69 246.56,256.58L234.84,256.58C234.03,255.69 229.41,254.27 229.94,251.25C230.47,248.23 236.48,242.02 238.04,238.46C239.6,234.91 239.03,240.95 239.32,229.94C239.6,218.93 239.67,181.98 239.74,172.39Z" fill="#a6dcb9" stroke="#1a1a1a" stroke-width="0.75"/>
<path d="M265.75,178.79L265.75,256.58L262.55,256.58L262.55,178.79Z" fill="#a5a1d8" stroke="#1a1a1a" stroke-width="0.75"/>
<circle cx="242.94" cy="173.03" r="2.1" fill="#8ed3a4" stroke="#1a1a1a" stroke-width="0.7"/>
<circle cx="241.88" cy="174.1" r="2.1" fill="#8ed3a4" stroke="#1a1a1a" stroke-width="0.7"/>
<circle cx="238.47" cy="222.48" r="2.1" fill="#8ed3a4" stroke="#1a1a1a" stroke-width="0.7"/>
<circle cx="239.1" cy="237.4" r="2.1" fill="#8ed3a4" stroke="#1a1a1a" stroke-width="0.7"/>
<circle cx="240.17" cy="244.86" r="2.1" fill="#8ed3a4" stroke="#1a1a1a" stroke-width="0.7"/>
<circle cx="238.04" cy="250.19" r="2.1" fill="#8ed3a4" stroke="#1a1a1a" stroke-width="0.7"/>
<circle cx="244.43" cy="253.38" r="2.1" fill="#8ed3a4" stroke="#1a1a1a" stroke-width="0.7"/>
<circle cx="240.17" cy="256.58" r="2.1" fill="#8ed3a4" stroke="#1a1a1a" stroke-width="0.7"/>
<circle cx="245.5" cy="256.58" r="2.1" fill="#8ed3a4" stroke="#1a1a1a" stroke-width="0.7"/>
<circle cx="242.3" cy="253.38" r="2.1" fill="#8ed3a4" stroke="#1a1a1a" stroke-width="0.7"/>
<circle cx="260.42" cy="179.21" r="2.1" fill="#9690d4" stroke="#1a1a1a" stroke-width="0.7"/>
<circle cx="266.81" cy="179.85" r="2.1" fill="#9690d4" stroke="#1a1a1a" stroke-width="0.7"/>
<circle cx="261.48" cy="210.33" r="2.1" fill="#9690d4" stroke="#1a1a1a" stroke-width="0.7"/>
<circle cx="268.3" cy="206.92" r="2.1" fill="#9690d4" stroke="#1a1a1a" stroke-width="0.7"/>
<circle cx="266.81" cy="231" r="2.1" fill="#9690d4" stroke="#1a1a1a" stroke-width="0.7"/>
<circle cx="261.48" cy="245.92" r="2.1" fill="#9690d4" stroke="#1a1a1a" stroke-width="0.7"/>
<circle cx="266.81" cy="245.92" r="2.1" fill="#9690d4" stroke="#1a1a1a" stroke-width="0.7"/>
<circle cx="263.61" cy="253.38" r="2.1" fill="#9690d4" stroke="#1a1a1a" stroke-width="0.7"/>
<circle cx="264.68" cy="256.58" r="2.1" fill="#9690d4" stroke="#1a1a1a" stroke-width="0.7"/>
<circle cx="262.55" cy="250.19" r="2.1" fill="#9690d4" stroke="#1a1a1a" stroke-width="0.7"/>
<line x1="235.91" x2="244.86" y1="250.83" y2="250.83" stroke="#000" stroke-width="1.5"/>
<line x1="259.99" x2="268.94" y1="231" y2="231" stroke="#000" stroke-width="1.5"/>
</g>
<rect x="226.4" y="168.6" width="52.9" height="92.6" fill="none" stroke="#333333" stroke-width="0.75"/>
<rect x="226.4" y="145.5" width="52.9" height="11.7" fill="#d9d9d9" stroke="#333333" stroke-width="0.75"/>
<text x="254.35" y="153.55" font-size="6.55" fill="#1a1a1a" text-anchor="middle">RBD_WT</text>
<rect x="226.4" y="157.2" width="52.9" height="11.4" fill="#d9d9d9" stroke="#333333" stroke-width="0.75"/>
<text x="254.35" y="165.1" font-size="6.55" fill="#1a1a1a" text-anchor="middle">IgG4</text>
<line x1="225.1" x2="226.4" y1="171.33" y2="171.33" stroke="#333333" stroke-width="0.6"/>
<text x="224.7" y="174.33" font-size="7.5" fill="#2e2e2e" text-anchor="end" textLength="9.73" lengthAdjust="spacingAndGlyphs">4.1</text>
<line x1="225.1" x2="226.4" y1="194.77" y2="194.77" stroke="#333333" stroke-width="0.6"/>
<text x="224.7" y="197.77" font-size="7.5" fill="#2e2e2e" text-anchor="end" textLength="9.73" lengthAdjust="spacingAndGlyphs">3.9</text>
<line x1="225.1" x2="226.4" y1="218.22" y2="218.22" stroke="#333333" stroke-width="0.6"/>
<text x="224.7" y="221.22" font-size="7.5" fill="#2e2e2e" text-anchor="end" textLength="9.73" lengthAdjust="spacingAndGlyphs">3.7</text>
<line x1="225.1" x2="226.4" y1="241.02" y2="241.02" stroke="#333333" stroke-width="0.6"/>
<text x="224.7" y="244.02" font-size="7.5" fill="#2e2e2e" text-anchor="end" textLength="9.73" lengthAdjust="spacingAndGlyphs">3.5</text>
<line x1="240.83" x2="240.83" y1="261.2" y2="262.5" stroke="#333333" stroke-width="0.6"/>
<text x="241.63" y="263.8" font-size="6.8" fill="#2e2e2e" text-anchor="end" dominant-baseline="hanging" transform="rotate(-45 241.63 263.8)">Adult</text>
<line x1="264.87" x2="264.87" y1="261.2" y2="262.5" stroke="#333333" stroke-width="0.6"/>
<text x="265.67" y="263.8" font-size="6.8" fill="#2e2e2e" text-anchor="end" dominant-baseline="hanging" transform="rotate(-45 265.67 263.8)">Child</text>
<clipPath id="a11"><rect x="294.5" y="168.6" width="53.2" height="92.6"/></clipPath>
<rect x="294.5" y="168.6" width="53.2" height="92.6" fill="#fff"/>
<g clip-path="url(#a11)">
<line x1="294.5" x2="347.7" y1="190.51" y2="190.51" stroke="#f5f5f5" stroke-width="0.5"/>
<line x1="294.5" x2="347.7" y1="216.09" y2="216.09" stroke="#f5f5f5" stroke-width="0.5"/>
<line x1="294.5" x2="347.7" y1="241.45" y2="241.45" stroke="#f5f5f5" stroke-width="0.5"/>
<line x1="294.5" x2="347.7" y1="177.72" y2="177.72" stroke="#ebebeb" stroke-width="0.7"/>
<line x1="294.5" x2="347.7" y1="203.3" y2="203.3" stroke="#ebebeb" stroke-width="0.7"/>
<line x1="294.5" x2="347.7" y1="228.87" y2="228.87" stroke="#ebebeb" stroke-width="0.7"/>
<line x1="294.5" x2="347.7" y1="254.02" y2="254.02" stroke="#ebebeb" stroke-width="0.7"/>
<line x1="309.01" x2="309.01" y1="168.6" y2="261.2" stroke="#ebebeb" stroke-width="0.7"/>
<line x1="333.19" x2="333.19" y1="168.6" y2="261.2" stroke="#ebebeb" stroke-width="0.7"/>
<path d="M315.17,174.95L313.03,251.25L306.64,251.25L306,174.95Z" fill="#a6dcb9" stroke="#1a1a1a" stroke-width="0.75"/>
<path d="M338.61,226.74C338.61,228.34 338.08,232.96 338.61,236.33C339.14,239.71 340.92,244.15 341.81,246.99C342.7,249.83 343.87,251.78 343.94,253.38C344.01,254.98 342.52,256.05 342.23,256.58L324.76,256.58C324.4,256.05 322.63,254.98 322.63,253.38C322.63,251.78 323.98,249.83 324.76,246.99C325.54,244.15 326.89,239.71 327.31,236.33C327.74,232.96 327.31,228.34 327.31,226.74Z" fill="#a5a1d8" stroke="#1a1a1a" stroke-width="0.75"/>
<circle cx="311.54" cy="175.59" r="2.1" fill="#8ed3a4" stroke="#1a1a1a" stroke-width="0.7"/>
<circle cx="313.67" cy="175.59" r="2.1" fill="#8ed3a4" stroke="#1a1a1a" stroke-width="0.7"/>
<circle cx="306" cy="185.18" r="2.1" fill="#8ed3a4" stroke="#1a1a1a" stroke-width="0.7"/>
<circle cx="305.15" cy="184.12" r="2.1" fill="#8ed3a4" stroke="#1a1a1a" stroke-width="0.7"/>
<circle cx="307.28" cy="199.67" r="2.1" fill="#8ed3a4" stroke="#1a1a1a" stroke-width="0.7"/>
<circle cx="309.84" cy="215.45" r="2.1" fill="#8ed3a4" stroke="#1a1a1a" stroke-width="0.7"/>
<circle cx="307.71" cy="217.15" r="2.1" fill="#8ed3a4" stroke="#1a1a1a" stroke-width="0.7"/>
<circle cx="311.54" cy="227.81" r="2.1" fill="#8ed3a4" stroke="#1a1a1a" stroke-width="0.7"/>
<circle cx="308.13" cy="236.33" r="2.1" fill="#8ed3a4" stroke="#1a1a1a" stroke-width="0.7"/>
<circle cx="310.9" cy="239.53" r="2.1" fill="#8ed3a4" stroke="#1a1a1a" stroke-width="0.7"/>
<circle cx="308.77" cy="246.99" r="2.1" fill="#8ed3a4" stroke="#1a1a1a" stroke-width="0.7"/>
<circle cx="313.46" cy="251.25" r="2.1" fill="#8ed3a4" stroke="#1a1a1a" stroke-width="0.7"/>
<circle cx="307.71" cy="222.48" r="2.1" fill="#8ed3a4" stroke="#1a1a1a" stroke-width="0.7"/>
<circle cx="333.28" cy="226.1" r="2.1" fill="#9690d4" stroke="#1a1a1a" stroke-width="0.7"/>
<circle cx="330.72" cy="227.81" r="2.1" fill="#9690d4" stroke="#1a1a1a" stroke-width="0.7"/>
<circle cx="332.22" cy="230.36" r="2.1" fill="#9690d4" stroke="#1a1a1a" stroke-width="0.7"/>
<circle cx="334.99" cy="244.86" r="2.1" fill="#9690d4" stroke="#1a1a1a" stroke-width="0.7"/>
<circle cx="331.15" cy="251.25" r="2.1" fill="#9690d4" stroke="#1a1a1a" stroke-width="0.7"/>
<circle cx="337.54" cy="253.81" r="2.1" fill="#9690d4" stroke="#1a1a1a" stroke-width="0.7"/>
<circle cx="330.72" cy="256.58" r="2.1" fill="#9690d4" stroke="#1a1a1a" stroke-width="0.7"/>
<circle cx="335.41" cy="254.45" r="2.1" fill="#9690d4" stroke="#1a1a1a" stroke-width="0.7"/>
<line x1="303.44" x2="314.1" y1="216.51" y2="216.51" stroke="#000" stroke-width="1.5"/>
<line x1="328.59" x2="337.97" y1="251.25" y2="251.25" stroke="#000" stroke-width="1.5"/>
</g>
<text x="328.59" y="173.67" font-size="4.9" fill="#111" text-anchor="middle">p = 0.0156</text>
<rect x="294.5" y="168.6" width="53.2" height="92.6" fill="none" stroke="#333333" stroke-width="0.75"/>
<rect x="294.5" y="145.5" width="53.2" height="11.7" fill="#d9d9d9" stroke="#333333" stroke-width="0.75"/>
<text x="322.6" y="153.55" font-size="6.55" fill="#1a1a1a" text-anchor="middle">RBD_WT</text>
<rect x="294.5" y="157.2" width="53.2" height="11.4" fill="#d9d9d9" stroke="#333333" stroke-width="0.75"/>
<text x="322.6" y="165.1" font-size="6.55" fill="#1a1a1a" text-anchor="middle">IgM</text>
<line x1="293.2" x2="294.5" y1="177.72" y2="177.72" stroke="#333333" stroke-width="0.6"/>
<text x="292.8" y="180.72" font-size="7.5" fill="#2e2e2e" text-anchor="end" textLength="9.73" lengthAdjust="spacingAndGlyphs">5.5</text>
<line x1="293.2" x2="294.5" y1="203.3" y2="203.3" stroke="#333333" stroke-width="0.6"/>
<text x="292.8" y="206.3" font-size="7.5" fill="#2e2e2e" text-anchor="end" textLength="9.73" lengthAdjust="spacingAndGlyphs">5.0</text>
<line x1="293.2" x2="294.5" y1="228.87" y2="228.87" stroke="#333333" stroke-width="0.6"/>
<text x="292.8" y="231.87" font-size="7.5" fill="#2e2e2e" text-anchor="end" textLength="9.73" lengthAdjust="spacingAndGlyphs">4.5</text>
<line x1="293.2" x2="294.5" y1="254.02" y2="254.02" stroke="#333333" stroke-width="0.6"/>
<text x="292.8" y="257.02" font-size="7.5" fill="#2e2e2e" text-anchor="end" textLength="9.73" lengthAdjust="spacingAndGlyphs">4.0</text>
<line x1="309.01" x2="309.01" y1="261.2" y2="262.5" stroke="#333333" stroke-width="0.6"/>
<text x="309.81" y="263.8" font-size="6.8" fill="#2e2e2e" text-anchor="end" dominant-baseline="hanging" transform="rotate(-45 309.81 263.8)">Adult</text>
<line x1="333.19" x2="333.19" y1="261.2" y2="262.5" stroke="#333333" stroke-width="0.6"/>
<text x="333.99" y="263.8" font-size="6.8" fill="#2e2e2e" text-anchor="end" dominant-baseline="hanging" transform="rotate(-45 333.99 263.8)">Child</text>
<clipPath id="a12"><rect x="366.4" y="168.6" width="53.3" height="92.6"/></clipPath>
<rect x="366.4" y="168.6" width="53.3" height="92.6" fill="#fff"/>
<g clip-path="url(#a12)">
<line x1="366.4" x2="419.7" y1="188.91" y2="188.91" stroke="#f5f5f5" stroke-width="0.5"/>
<line x1="366.4" x2="419.7" y1="219.82" y2="219.82" stroke="#f5f5f5" stroke-width="0.5"/>
<line x1="366.4" x2="419.7" y1="250.72" y2="250.72" stroke="#f5f5f5" stroke-width="0.5"/>
<line x1="366.4" x2="419.7" y1="173.46" y2="173.46" stroke="#ebebeb" stroke-width="0.7"/>
<line x1="366.4" x2="419.7" y1="204.36" y2="204.36" stroke="#ebebeb" stroke-width="0.7"/>
<line x1="366.4" x2="419.7" y1="235.27" y2="235.27" stroke="#ebebeb" stroke-width="0.7"/>
<line x1="380.94" x2="380.94" y1="168.6" y2="261.2" stroke="#ebebeb" stroke-width="0.7"/>
<line x1="405.16" x2="405.16" y1="168.6" y2="261.2" stroke="#ebebeb" stroke-width="0.7"/>
<path d="M386.56,173.46C386.85,174.35 387.91,176.48 388.27,178.79C388.62,181.1 388.8,182.34 388.7,187.31C388.59,192.29 388.27,203.3 387.63,208.63C386.99,213.95 385.68,215.73 384.86,219.28C384.04,222.83 383.23,226.74 382.73,229.94C382.23,233.14 382.05,234.02 381.88,238.46C381.7,242.9 381.7,253.56 381.66,256.58L380.81,256.58C380.74,253.56 380.56,242.9 380.38,238.46C380.21,234.02 380.13,233.14 379.74,229.94C379.35,226.74 378.75,222.83 378.04,219.28C377.33,215.73 376.41,213.95 375.48,208.63C374.56,203.3 372.92,192.29 372.5,187.31C372.07,182.34 372.53,181.1 372.92,178.79C373.31,176.48 374.52,174.35 374.84,173.46Z" fill="#a6dcb9" stroke="#1a1a1a" stroke-width="0.75"/>
<path d="M415.34,205.43C415.16,208.8 415.16,221.24 414.27,225.68C413.38,230.12 410.72,231 410.01,232.07L401.48,232.07C400.6,231 397.04,230.12 396.16,225.68C395.27,221.24 396.16,208.8 396.16,205.43Z" fill="#a5a1d8" stroke="#1a1a1a" stroke-width="0.75"/>
<circle cx="378.47" cy="174.95" r="2.1" fill="#8ed3a4" stroke="#1a1a1a" stroke-width="0.7"/>
<circle cx="381.88" cy="176.66" r="2.1" fill="#8ed3a4" stroke="#1a1a1a" stroke-width="0.7"/>
<circle cx="380.6" cy="180.92" r="2.1" fill="#8ed3a4" stroke="#1a1a1a" stroke-width="0.7"/>
<circle cx="384.43" cy="185.18" r="2.1" fill="#8ed3a4" stroke="#1a1a1a" stroke-width="0.7"/>
<circle cx="380.17" cy="187.31" r="2.1" fill="#8ed3a4" stroke="#1a1a1a" stroke-width="0.7"/>
<circle cx="385.5" cy="187.31" r="2.1" fill="#8ed3a4" stroke="#1a1a1a" stroke-width="0.7"/>
<circle cx="381.24" cy="193.71" r="2.1" fill="#8ed3a4" stroke="#1a1a1a" stroke-width="0.7"/>
<circle cx="383.37" cy="195.84" r="2.1" fill="#8ed3a4" stroke="#1a1a1a" stroke-width="0.7"/>
<circle cx="376.97" cy="203.3" r="2.1" fill="#8ed3a4" stroke="#1a1a1a" stroke-width="0.7"/>
<circle cx="379.1" cy="204.36" r="2.1" fill="#8ed3a4" stroke="#1a1a1a" stroke-width="0.7"/>
<circle cx="385.5" cy="211.82" r="2.1" fill="#8ed3a4" stroke="#1a1a1a" stroke-width="0.7"/>
<circle cx="380.17" cy="256.58" r="2.1" fill="#8ed3a4" stroke="#1a1a1a" stroke-width="0.7"/>
<circle cx="378.47" cy="180.92" r="2.1" fill="#8ed3a4" stroke="#1a1a1a" stroke-width="0.7"/>
<circle cx="401.06" cy="208.2" r="2.1" fill="#9690d4" stroke="#1a1a1a" stroke-width="0.7"/>
<circle cx="408.94" cy="205.43" r="2.1" fill="#9690d4" stroke="#1a1a1a" stroke-width="0.7"/>
<circle cx="402.55" cy="213.31" r="2.1" fill="#9690d4" stroke="#1a1a1a" stroke-width="0.7"/>
<circle cx="407.45" cy="218.22" r="2.1" fill="#9690d4" stroke="#1a1a1a" stroke-width="0.7"/>
<circle cx="401.48" cy="221.84" r="2.1" fill="#9690d4" stroke="#1a1a1a" stroke-width="0.7"/>
<circle cx="406.81" cy="225.25" r="2.1" fill="#9690d4" stroke="#1a1a1a" stroke-width="0.7"/>
<circle cx="404.68" cy="229.94" r="2.1" fill="#9690d4" stroke="#1a1a1a" stroke-width="0.7"/>
<circle cx="405.75" cy="232.07" r="2.1" fill="#9690d4" stroke="#1a1a1a" stroke-width="0.7"/>
<circle cx="402.55" cy="220.35" r="2.1" fill="#9690d4" stroke="#1a1a1a" stroke-width="0.7"/>
<line x1="375.91" x2="385.5" y1="194.77" y2="194.77" stroke="#000" stroke-width="1.5"/>
<line x1="400.42" x2="410.01" y1="218.22" y2="218.22" stroke="#000" stroke-width="1.5"/>
</g>
<text x="401.06" y="174.09" font-size="4.9" fill="#111" text-anchor="middle">p = 0.00749</text>
<rect x="366.4" y="168.6" width="53.3" height="92.6" fill="none" stroke="#333333" stroke-width="0.75"/>
<rect x="366.4" y="145.5" width="53.3" height="11.7" fill="#d9d9d9" stroke="#333333" stroke-width="0.75"/>
<text x="394.55" y="153.55" font-size="6.55" fill="#1a1a1a" text-anchor="middle">RBD_WT</text>
<rect x="366.4" y="157.2" width="53.3" height="11.4" fill="#d9d9d9" stroke="#333333" stroke-width="0.75"/>
<text x="394.55" y="165.1" font-size="6.55" fill="#1a1a1a" text-anchor="middle">IgA1</text>
<line x1="365.1" x2="366.4" y1="173.46" y2="173.46" stroke="#333333" stroke-width="0.6"/>
<text x="364.7" y="176.46" font-size="7.5" fill="#2e2e2e" text-anchor="end" textLength="9.73" lengthAdjust="spacingAndGlyphs">5.0</text>
<line x1="365.1" x2="366.4" y1="204.36" y2="204.36" stroke="#333333" stroke-width="0.6"/>
<text x="364.7" y="207.36" font-size="7.5" fill="#2e2e2e" text-anchor="end" textLength="9.73" lengthAdjust="spacingAndGlyphs">4.5</text>
<line x1="365.1" x2="366.4" y1="235.27" y2="235.27" stroke="#333333" stroke-width="0.6"/>
<text x="364.7" y="238.27" font-size="7.5" fill="#2e2e2e" text-anchor="end" textLength="9.73" lengthAdjust="spacingAndGlyphs">4.0</text>
<line x1="380.94" x2="380.94" y1="261.2" y2="262.5" stroke="#333333" stroke-width="0.6"/>
<text x="381.74" y="263.8" font-size="6.8" fill="#2e2e2e" text-anchor="end" dominant-baseline="hanging" transform="rotate(-45 381.74 263.8)">Adult</text>
<line x1="405.16" x2="405.16" y1="261.2" y2="262.5" stroke="#333333" stroke-width="0.6"/>
<text x="405.96" y="263.8" font-size="6.8" fill="#2e2e2e" text-anchor="end" dominant-baseline="hanging" transform="rotate(-45 405.96 263.8)">Child</text>
<clipPath id="b1"><rect x="23.4" y="316.4" width="51.3" height="91.5"/></clipPath>
<rect x="23.4" y="316.4" width="51.3" height="91.5" fill="#fff"/>
<g clip-path="url(#b1)">
<line x1="23.4" x2="74.7" y1="330.86" y2="330.86" stroke="#f5f5f5" stroke-width="0.5"/>
<line x1="23.4" x2="74.7" y1="359.95" y2="359.95" stroke="#f5f5f5" stroke-width="0.5"/>
<line x1="23.4" x2="74.7" y1="389.05" y2="389.05" stroke="#f5f5f5" stroke-width="0.5"/>
<line x1="23.4" x2="74.7" y1="316.26" y2="316.26" stroke="#ebebeb" stroke-width="0.7"/>
<line x1="23.4" x2="74.7" y1="345.46" y2="345.46" stroke="#ebebeb" stroke-width="0.7"/>
<line x1="23.4" x2="74.7" y1="374.45" y2="374.45" stroke="#ebebeb" stroke-width="0.7"/>
<line x1="23.4" x2="74.7" y1="403.65" y2="403.65" stroke="#ebebeb" stroke-width="0.7"/>
<line x1="37.39" x2="37.39" y1="316.4" y2="407.9" stroke="#ebebeb" stroke-width="0.7"/>
<line x1="60.71" x2="60.71" y1="316.4" y2="407.9" stroke="#ebebeb" stroke-width="0.7"/>
<path d="M39.64,330.12L40.07,404.71L35.17,404.71L35.81,330.12Z" fill="#a6dcb9" stroke="#1a1a1a" stroke-width="0.75"/>
<path d="M63.09,319.67C63.3,320.17 64.15,321.27 64.36,322.66C64.58,324.04 64.58,326.63 64.36,327.98C64.15,329.33 63.58,329.87 63.09,330.76C62.59,331.64 61.67,328.09 61.38,333.31C61.1,338.53 60.42,356.76 61.38,362.09C62.34,367.41 65.64,364.29 67.14,365.28C68.63,366.28 69.73,366.92 70.33,368.05C70.94,369.19 71.82,370.79 70.76,372.1C69.69,373.42 65.5,375.09 63.94,375.94C62.38,376.79 61.81,373.13 61.38,377.22C60.95,381.3 61.24,396.11 61.38,400.45C61.52,404.78 61.95,402.62 62.23,403.22C62.52,403.82 62.94,403.93 63.09,404.07L59.25,404.07C59.18,403.93 58.65,403.82 58.82,403.22C59,402.62 60.07,404.78 60.32,400.45C60.56,396.11 60.78,381.3 60.32,377.22C59.85,373.13 59.07,376.79 57.54,375.94C56.02,375.09 52.36,373.42 51.15,372.1C49.94,370.79 49.94,369.19 50.3,368.05C50.65,366.92 51.61,366.28 53.28,365.28C54.95,364.29 59.14,367.41 60.32,362.09C61.49,356.76 60.71,338.53 60.32,333.31C59.92,328.09 58.72,331.64 57.97,330.76C57.23,329.87 55.98,329.33 55.84,327.98C55.7,326.63 56.41,324.04 57.12,322.66C57.83,321.27 59.61,320.17 60.1,319.67Z" fill="#a5a1d8" stroke="#1a1a1a" stroke-width="0.75"/>
<circle cx="34.1" cy="331.61" r="2.1" fill="#8ed3a4" stroke="#1a1a1a" stroke-width="0.7"/>
<circle cx="39.43" cy="329.05" r="2.1" fill="#8ed3a4" stroke="#1a1a1a" stroke-width="0.7"/>
<circle cx="36.23" cy="338.64" r="2.1" fill="#8ed3a4" stroke="#1a1a1a" stroke-width="0.7"/>
<circle cx="37.94" cy="337.15" r="2.1" fill="#8ed3a4" stroke="#1a1a1a" stroke-width="0.7"/>
<circle cx="33.03" cy="353.13" r="2.1" fill="#8ed3a4" stroke="#1a1a1a" stroke-width="0.7"/>
<circle cx="40.49" cy="364.86" r="2.1" fill="#8ed3a4" stroke="#1a1a1a" stroke-width="0.7"/>
<circle cx="39.43" cy="369.12" r="2.1" fill="#8ed3a4" stroke="#1a1a1a" stroke-width="0.7"/>
<circle cx="35.81" cy="375.94" r="2.1" fill="#8ed3a4" stroke="#1a1a1a" stroke-width="0.7"/>
<circle cx="40.07" cy="377" r="2.1" fill="#8ed3a4" stroke="#1a1a1a" stroke-width="0.7"/>
<circle cx="33.67" cy="388.09" r="2.1" fill="#8ed3a4" stroke="#1a1a1a" stroke-width="0.7"/>
<circle cx="37.3" cy="387.66" r="2.1" fill="#8ed3a4" stroke="#1a1a1a" stroke-width="0.7"/>
<circle cx="39" cy="390.43" r="2.1" fill="#8ed3a4" stroke="#1a1a1a" stroke-width="0.7"/>
<circle cx="33.03" cy="404.28" r="2.1" fill="#8ed3a4" stroke="#1a1a1a" stroke-width="0.7"/>
<circle cx="37.3" cy="369.54" r="2.1" fill="#8ed3a4" stroke="#1a1a1a" stroke-width="0.7"/>
<circle cx="61.81" cy="320.95" r="2.1" fill="#9690d4" stroke="#1a1a1a" stroke-width="0.7"/>
<circle cx="56.48" cy="329.05" r="2.1" fill="#9690d4" stroke="#1a1a1a" stroke-width="0.7"/>
<circle cx="60.1" cy="329.48" r="2.1" fill="#9690d4" stroke="#1a1a1a" stroke-width="0.7"/>
<circle cx="55.84" cy="372.32" r="2.1" fill="#9690d4" stroke="#1a1a1a" stroke-width="0.7"/>
<circle cx="60.74" cy="371.68" r="2.1" fill="#9690d4" stroke="#1a1a1a" stroke-width="0.7"/>
<circle cx="61.81" cy="368.48" r="2.1" fill="#9690d4" stroke="#1a1a1a" stroke-width="0.7"/>
<circle cx="57.54" cy="368.48" r="2.1" fill="#9690d4" stroke="#1a1a1a" stroke-width="0.7"/>
<circle cx="59.25" cy="401.51" r="2.1" fill="#9690d4" stroke="#1a1a1a" stroke-width="0.7"/>
<circle cx="63.51" cy="403.65" r="2.1" fill="#9690d4" stroke="#1a1a1a" stroke-width="0.7"/>
<line x1="33.03" x2="42.2" y1="368.91" y2="368.91" stroke="#000" stroke-width="1.5"/>
<line x1="55.84" x2="64.36" y1="368.05" y2="368.05" stroke="#000" stroke-width="1.5"/>
</g>
<rect x="23.4" y="316.4" width="51.3" height="91.5" fill="none" stroke="#333333" stroke-width="0.75"/>
<rect x="23.4" y="293.2" width="51.3" height="11.6" fill="#d9d9d9" stroke="#333333" stroke-width="0.75"/>
<text x="50.5" y="301.13" font-size="6.35" fill="#1a1a1a" text-anchor="middle">Spike_WT</text>
<rect x="23.4" y="304.8" width="51.3" height="11.6" fill="#d9d9d9" stroke="#333333" stroke-width="0.75"/>
<text x="50.5" y="312.73" font-size="6.35" fill="#1a1a1a" text-anchor="middle">FcγR2A</text>
<line x1="22.1" x2="23.4" y1="316.26" y2="316.26" stroke="#333333" stroke-width="0.6"/>
<text x="21.7" y="319.17" font-size="7.27" fill="#2e2e2e" text-anchor="end" textLength="13.22" lengthAdjust="spacingAndGlyphs">6.50</text>
<line x1="22.1" x2="23.4" y1="345.46" y2="345.46" stroke="#333333" stroke-width="0.6"/>
<text x="21.7" y="348.37" font-size="7.27" fill="#2e2e2e" text-anchor="end" textLength="13.22" lengthAdjust="spacingAndGlyphs">6.45</text>
<line x1="22.1" x2="23.4" y1="374.45" y2="374.45" stroke="#333333" stroke-width="0.6"/>
<text x="21.7" y="377.36" font-size="7.27" fill="#2e2e2e" text-anchor="end" textLength="13.22" lengthAdjust="spacingAndGlyphs">6.40</text>
<line x1="22.1" x2="23.4" y1="403.65" y2="403.65" stroke="#333333" stroke-width="0.6"/>
<text x="21.7" y="406.56" font-size="7.27" fill="#2e2e2e" text-anchor="end" textLength="13.22" lengthAdjust="spacingAndGlyphs">6.35</text>
<line x1="37.39" x2="37.39" y1="407.9" y2="409.2" stroke="#333333" stroke-width="0.6"/>
<text x="38.19" y="410.5" font-size="6.8" fill="#2e2e2e" text-anchor="end" dominant-baseline="hanging" transform="rotate(-45 38.19 410.5)">Adult</text>
<line x1="60.71" x2="60.71" y1="407.9" y2="409.2" stroke="#333333" stroke-width="0.6"/>
<text x="61.51" y="410.5" font-size="6.8" fill="#2e2e2e" text-anchor="end" dominant-baseline="hanging" transform="rotate(-45 61.51 410.5)">Child</text>
<clipPath id="b2"><rect x="89.5" y="316.4" width="50.4" height="91.5"/></clipPath>
<rect x="89.5" y="316.4" width="50.4" height="91.5" fill="#fff"/>
<g clip-path="url(#b2)">
<line x1="89.5" x2="139.9" y1="323.51" y2="323.51" stroke="#f5f5f5" stroke-width="0.5"/>
<line x1="89.5" x2="139.9" y1="341.84" y2="341.84" stroke="#f5f5f5" stroke-width="0.5"/>
<line x1="89.5" x2="139.9" y1="360.06" y2="360.06" stroke="#f5f5f5" stroke-width="0.5"/>
<line x1="89.5" x2="139.9" y1="378.07" y2="378.07" stroke="#f5f5f5" stroke-width="0.5"/>
<line x1="89.5" x2="139.9" y1="396.08" y2="396.08" stroke="#f5f5f5" stroke-width="0.5"/>
<line x1="89.5" x2="139.9" y1="332.67" y2="332.67" stroke="#ebebeb" stroke-width="0.7"/>
<line x1="89.5" x2="139.9" y1="351" y2="351" stroke="#ebebeb" stroke-width="0.7"/>
<line x1="89.5" x2="139.9" y1="369.12" y2="369.12" stroke="#ebebeb" stroke-width="0.7"/>
<line x1="89.5" x2="139.9" y1="387.02" y2="387.02" stroke="#ebebeb" stroke-width="0.7"/>
<line x1="89.5" x2="139.9" y1="405.14" y2="405.14" stroke="#ebebeb" stroke-width="0.7"/>
<line x1="103.25" x2="103.25" y1="316.4" y2="407.9" stroke="#ebebeb" stroke-width="0.7"/>
<line x1="126.15" x2="126.15" y1="316.4" y2="407.9" stroke="#ebebeb" stroke-width="0.7"/>
<path d="M106.56,320.53C106.92,322.66 107.45,328.7 108.7,333.31C109.94,337.93 114.02,342.9 114.02,348.23C114.02,353.56 110.01,360.66 108.7,365.28C107.38,369.9 106.67,369.19 106.14,375.94C105.61,382.69 105.61,400.8 105.5,405.78L101.24,405.78C101.34,400.8 102.05,382.69 101.88,375.94C101.7,369.19 101.7,369.9 100.17,365.28C98.64,360.66 93.07,353.56 92.71,348.23C92.36,342.9 96.09,337.93 98.04,333.31C99.99,328.7 103.37,322.66 104.43,320.53Z" fill="#a6dcb9" stroke="#1a1a1a" stroke-width="0.75"/>
<path d="M130.43,324.36C130.72,325.85 131.43,328.98 132.14,333.31C132.85,337.65 134.52,345.03 134.7,350.36C134.87,355.69 133.81,360.59 133.21,365.28C132.6,369.97 131.43,376.29 131.07,378.5L122.55,378.5C122.37,376.29 122.02,369.97 121.48,365.28C120.95,360.59 119.64,355.69 119.35,350.36C119.07,345.03 119.57,337.65 119.78,333.31C119.99,328.98 120.49,325.85 120.63,324.36Z" fill="#a5a1d8" stroke="#1a1a1a" stroke-width="0.75"/>
<circle cx="105.5" cy="320.53" r="2.1" fill="#8ed3a4" stroke="#1a1a1a" stroke-width="0.7"/>
<circle cx="102.3" cy="327.35" r="2.1" fill="#8ed3a4" stroke="#1a1a1a" stroke-width="0.7"/>
<circle cx="100.17" cy="335.02" r="2.1" fill="#8ed3a4" stroke="#1a1a1a" stroke-width="0.7"/>
<circle cx="103.37" cy="342.48" r="2.1" fill="#8ed3a4" stroke="#1a1a1a" stroke-width="0.7"/>
<circle cx="99.1" cy="346.1" r="2.1" fill="#8ed3a4" stroke="#1a1a1a" stroke-width="0.7"/>
<circle cx="100.17" cy="353.56" r="2.1" fill="#8ed3a4" stroke="#1a1a1a" stroke-width="0.7"/>
<circle cx="106.14" cy="359.95" r="2.1" fill="#8ed3a4" stroke="#1a1a1a" stroke-width="0.7"/>
<circle cx="104.86" cy="370.61" r="2.1" fill="#8ed3a4" stroke="#1a1a1a" stroke-width="0.7"/>
<circle cx="99.1" cy="388.09" r="2.1" fill="#8ed3a4" stroke="#1a1a1a" stroke-width="0.7"/>
<circle cx="102.73" cy="404.28" r="2.1" fill="#8ed3a4" stroke="#1a1a1a" stroke-width="0.7"/>
<circle cx="104.43" cy="349.3" r="2.1" fill="#8ed3a4" stroke="#1a1a1a" stroke-width="0.7"/>
<circle cx="101.24" cy="348.66" r="2.1" fill="#8ed3a4" stroke="#1a1a1a" stroke-width="0.7"/>
<circle cx="122.55" cy="326.49" r="2.1" fill="#9690d4" stroke="#1a1a1a" stroke-width="0.7"/>
<circle cx="127.88" cy="325.85" r="2.1" fill="#9690d4" stroke="#1a1a1a" stroke-width="0.7"/>
<circle cx="125.32" cy="341.84" r="2.1" fill="#9690d4" stroke="#1a1a1a" stroke-width="0.7"/>
<circle cx="123.61" cy="345.67" r="2.1" fill="#9690d4" stroke="#1a1a1a" stroke-width="0.7"/>
<circle cx="128.94" cy="346.1" r="2.1" fill="#9690d4" stroke="#1a1a1a" stroke-width="0.7"/>
<circle cx="122.55" cy="351" r="2.1" fill="#9690d4" stroke="#1a1a1a" stroke-width="0.7"/>
<circle cx="127.88" cy="355.05" r="2.1" fill="#9690d4" stroke="#1a1a1a" stroke-width="0.7"/>
<circle cx="126.81" cy="361.45" r="2.1" fill="#9690d4" stroke="#1a1a1a" stroke-width="0.7"/>
<circle cx="126.17" cy="368.48" r="2.1" fill="#9690d4" stroke="#1a1a1a" stroke-width="0.7"/>
<circle cx="129.58" cy="378.5" r="2.1" fill="#9690d4" stroke="#1a1a1a" stroke-width="0.7"/>
<line x1="98.04" x2="108.27" y1="348.66" y2="348.66" stroke="#000" stroke-width="1.5"/>
<line x1="121.48" x2="131.07" y1="351" y2="351" stroke="#000" stroke-width="1.5"/>
</g>
<rect x="89.5" y="316.4" width="50.4" height="91.5" fill="none" stroke="#333333" stroke-width="0.75"/>
<rect x="89.5" y="293.2" width="50.4" height="11.6" fill="#d9d9d9" stroke="#333333" stroke-width="0.75"/>
<text x="116.16" y="301.13" font-size="6.35" fill="#1a1a1a" text-anchor="middle">Spike_WT</text>
<rect x="89.5" y="304.8" width="50.4" height="11.6" fill="#d9d9d9" stroke="#333333" stroke-width="0.75"/>
<text x="116.16" y="312.73" font-size="6.35" fill="#1a1a1a" text-anchor="middle">FcγR2B</text>
<line x1="88.2" x2="89.5" y1="332.67" y2="332.67" stroke="#333333" stroke-width="0.6"/>
<text x="87.8" y="335.58" font-size="7.27" fill="#2e2e2e" text-anchor="end" textLength="9.44" lengthAdjust="spacingAndGlyphs">6.5</text>
<line x1="88.2" x2="89.5" y1="351" y2="351" stroke="#333333" stroke-width="0.6"/>
<text x="87.8" y="353.91" font-size="7.27" fill="#2e2e2e" text-anchor="end" textLength="9.44" lengthAdjust="spacingAndGlyphs">6.4</text>
<line x1="88.2" x2="89.5" y1="369.12" y2="369.12" stroke="#333333" stroke-width="0.6"/>
<text x="87.8" y="372.03" font-size="7.27" fill="#2e2e2e" text-anchor="end" textLength="9.44" lengthAdjust="spacingAndGlyphs">6.3</text>
<line x1="88.2" x2="89.5" y1="387.02" y2="387.02" stroke="#333333" stroke-width="0.6"/>
<text x="87.8" y="389.93" font-size="7.27" fill="#2e2e2e" text-anchor="end" textLength="9.44" lengthAdjust="spacingAndGlyphs">6.2</text>
<line x1="88.2" x2="89.5" y1="405.14" y2="405.14" stroke="#333333" stroke-width="0.6"/>
<text x="87.8" y="408.05" font-size="7.27" fill="#2e2e2e" text-anchor="end" textLength="9.44" lengthAdjust="spacingAndGlyphs">6.1</text>
<line x1="103.25" x2="103.25" y1="407.9" y2="409.2" stroke="#333333" stroke-width="0.6"/>
<text x="104.05" y="410.5" font-size="6.8" fill="#2e2e2e" text-anchor="end" dominant-baseline="hanging" transform="rotate(-45 104.05 410.5)">Adult</text>
<line x1="126.15" x2="126.15" y1="407.9" y2="409.2" stroke="#333333" stroke-width="0.6"/>
<text x="126.95" y="410.5" font-size="6.8" fill="#2e2e2e" text-anchor="end" dominant-baseline="hanging" transform="rotate(-45 126.95 410.5)">Child</text>
<clipPath id="b3"><rect x="158.5" y="316.4" width="50.9" height="91.5"/></clipPath>
<rect x="158.5" y="316.4" width="50.9" height="91.5" fill="#fff"/>
<g clip-path="url(#b3)">
<line x1="158.5" x2="209.4" y1="322.23" y2="322.23" stroke="#f5f5f5" stroke-width="0.5"/>
<line x1="158.5" x2="209.4" y1="339.28" y2="339.28" stroke="#f5f5f5" stroke-width="0.5"/>
<line x1="158.5" x2="209.4" y1="356.54" y2="356.54" stroke="#f5f5f5" stroke-width="0.5"/>
<line x1="158.5" x2="209.4" y1="373.81" y2="373.81" stroke="#f5f5f5" stroke-width="0.5"/>
<line x1="158.5" x2="209.4" y1="390.86" y2="390.86" stroke="#f5f5f5" stroke-width="0.5"/>
<line x1="158.5" x2="209.4" y1="330.76" y2="330.76" stroke="#ebebeb" stroke-width="0.7"/>
<line x1="158.5" x2="209.4" y1="347.81" y2="347.81" stroke="#ebebeb" stroke-width="0.7"/>
<line x1="158.5" x2="209.4" y1="365.28" y2="365.28" stroke="#ebebeb" stroke-width="0.7"/>
<line x1="158.5" x2="209.4" y1="382.33" y2="382.33" stroke="#ebebeb" stroke-width="0.7"/>
<line x1="158.5" x2="209.4" y1="399.38" y2="399.38" stroke="#ebebeb" stroke-width="0.7"/>
<line x1="172.38" x2="172.38" y1="316.4" y2="407.9" stroke="#ebebeb" stroke-width="0.7"/>
<line x1="195.52" x2="195.52" y1="316.4" y2="407.9" stroke="#ebebeb" stroke-width="0.7"/>
<path d="M178.36,327.35C178.54,330.12 179.25,337.65 179.43,343.97C179.61,350.29 179.78,359.24 179.43,365.28C179.07,371.32 178.01,375.58 177.3,380.2C176.59,384.82 175.88,388.73 175.17,392.99C174.46,397.25 173.39,403.65 173.03,405.78L170.9,405.78C170.55,403.65 169.38,397.25 168.77,392.99C168.17,388.73 167.81,384.82 167.28,380.2C166.75,375.58 165.93,371.32 165.58,365.28C165.22,359.24 164.87,350.29 165.15,343.97C165.43,337.65 166.93,330.12 167.28,327.35Z" fill="#a6dcb9" stroke="#1a1a1a" stroke-width="0.75"/>
<path d="M198.61,320.53C198.79,322.66 198.79,327.63 199.68,333.31C200.56,339 203.05,348.94 203.94,354.63C204.83,360.31 205.36,362.44 205,367.41C204.65,372.39 202.34,381.62 201.81,384.46L190.09,384.46C189.37,381.62 186.18,372.39 185.82,367.41C185.47,362.44 186.96,360.31 187.95,354.63C188.95,348.94 190.72,339 191.79,333.31C192.86,327.63 193.92,322.66 194.35,320.53Z" fill="#a5a1d8" stroke="#1a1a1a" stroke-width="0.75"/>
<circle cx="174.74" cy="327.35" r="2.1" fill="#8ed3a4" stroke="#1a1a1a" stroke-width="0.7"/>
<circle cx="171.54" cy="332.25" r="2.1" fill="#8ed3a4" stroke="#1a1a1a" stroke-width="0.7"/>
<circle cx="175.81" cy="337.15" r="2.1" fill="#8ed3a4" stroke="#1a1a1a" stroke-width="0.7"/>
<circle cx="171.54" cy="339.71" r="2.1" fill="#8ed3a4" stroke="#1a1a1a" stroke-width="0.7"/>
<circle cx="168.77" cy="350.36" r="2.1" fill="#8ed3a4" stroke="#1a1a1a" stroke-width="0.7"/>
<circle cx="172.4" cy="353.56" r="2.1" fill="#8ed3a4" stroke="#1a1a1a" stroke-width="0.7"/>
<circle cx="170.9" cy="361.02" r="2.1" fill="#8ed3a4" stroke="#1a1a1a" stroke-width="0.7"/>
<circle cx="174.74" cy="368.48" r="2.1" fill="#8ed3a4" stroke="#1a1a1a" stroke-width="0.7"/>
<circle cx="174.53" cy="377" r="2.1" fill="#8ed3a4" stroke="#1a1a1a" stroke-width="0.7"/>
<circle cx="168.77" cy="378.5" r="2.1" fill="#8ed3a4" stroke="#1a1a1a" stroke-width="0.7"/>
<circle cx="167.71" cy="390.86" r="2.1" fill="#8ed3a4" stroke="#1a1a1a" stroke-width="0.7"/>
<circle cx="171.97" cy="404.07" r="2.1" fill="#8ed3a4" stroke="#1a1a1a" stroke-width="0.7"/>
<circle cx="174.1" cy="361.02" r="2.1" fill="#8ed3a4" stroke="#1a1a1a" stroke-width="0.7"/>
<circle cx="169.84" cy="360.59" r="2.1" fill="#8ed3a4" stroke="#1a1a1a" stroke-width="0.7"/>
<circle cx="196.48" cy="320.53" r="2.1" fill="#9690d4" stroke="#1a1a1a" stroke-width="0.7"/>
<circle cx="191.58" cy="328.62" r="2.1" fill="#9690d4" stroke="#1a1a1a" stroke-width="0.7"/>
<circle cx="192.86" cy="349.3" r="2.1" fill="#9690d4" stroke="#1a1a1a" stroke-width="0.7"/>
<circle cx="193.71" cy="358.46" r="2.1" fill="#9690d4" stroke="#1a1a1a" stroke-width="0.7"/>
<circle cx="196.48" cy="362.09" r="2.1" fill="#9690d4" stroke="#1a1a1a" stroke-width="0.7"/>
<circle cx="191.15" cy="367.84" r="2.1" fill="#9690d4" stroke="#1a1a1a" stroke-width="0.7"/>
<circle cx="194.99" cy="373.81" r="2.1" fill="#9690d4" stroke="#1a1a1a" stroke-width="0.7"/>
<circle cx="195.84" cy="379.14" r="2.1" fill="#9690d4" stroke="#1a1a1a" stroke-width="0.7"/>
<circle cx="198.61" cy="383.82" r="2.1" fill="#9690d4" stroke="#1a1a1a" stroke-width="0.7"/>
<line x1="167.71" x2="176.66" y1="360.59" y2="360.59" stroke="#000" stroke-width="1.5"/>
<line x1="191.15" x2="200.1" y1="362.09" y2="362.09" stroke="#000" stroke-width="1.5"/>
</g>
<rect x="158.5" y="316.4" width="50.9" height="91.5" fill="none" stroke="#333333" stroke-width="0.75"/>
<rect x="158.5" y="293.2" width="50.9" height="11.6" fill="#d9d9d9" stroke="#333333" stroke-width="0.75"/>
<text x="185.41" y="301.13" font-size="6.35" fill="#1a1a1a" text-anchor="middle">Spike_WT</text>
<rect x="158.5" y="304.8" width="50.9" height="11.6" fill="#d9d9d9" stroke="#333333" stroke-width="0.75"/>
<text x="185.41" y="312.73" font-size="6.35" fill="#1a1a1a" text-anchor="middle">FcγR3A</text>
<line x1="157.2" x2="158.5" y1="330.76" y2="330.76" stroke="#333333" stroke-width="0.6"/>
<text x="156.8" y="333.67" font-size="7.27" fill="#2e2e2e" text-anchor="end" textLength="13.22" lengthAdjust="spacingAndGlyphs">6.30</text>
<line x1="157.2" x2="158.5" y1="347.81" y2="347.81" stroke="#333333" stroke-width="0.6"/>
<text x="156.8" y="350.72" font-size="7.27" fill="#2e2e2e" text-anchor="end" textLength="13.22" lengthAdjust="spacingAndGlyphs">6.25</text>
<line x1="157.2" x2="158.5" y1="365.28" y2="365.28" stroke="#333333" stroke-width="0.6"/>
<text x="156.8" y="368.19" font-size="7.27" fill="#2e2e2e" text-anchor="end" textLength="13.22" lengthAdjust="spacingAndGlyphs">6.20</text>
<line x1="157.2" x2="158.5" y1="382.33" y2="382.33" stroke="#333333" stroke-width="0.6"/>
<text x="156.8" y="385.24" font-size="7.27" fill="#2e2e2e" text-anchor="end" textLength="13.22" lengthAdjust="spacingAndGlyphs">6.15</text>
<line x1="157.2" x2="158.5" y1="399.38" y2="399.38" stroke="#333333" stroke-width="0.6"/>
<text x="156.8" y="402.29" font-size="7.27" fill="#2e2e2e" text-anchor="end" textLength="13.22" lengthAdjust="spacingAndGlyphs">6.10</text>
<line x1="172.38" x2="172.38" y1="407.9" y2="409.2" stroke="#333333" stroke-width="0.6"/>
<text x="173.18" y="410.5" font-size="6.8" fill="#2e2e2e" text-anchor="end" dominant-baseline="hanging" transform="rotate(-45 173.18 410.5)">Adult</text>
<line x1="195.52" x2="195.52" y1="407.9" y2="409.2" stroke="#333333" stroke-width="0.6"/>
<text x="196.32" y="410.5" font-size="6.8" fill="#2e2e2e" text-anchor="end" dominant-baseline="hanging" transform="rotate(-45 196.32 410.5)">Child</text>
<clipPath id="b4"><rect x="227.4" y="316.4" width="50.9" height="91.5"/></clipPath>
<rect x="227.4" y="316.4" width="50.9" height="91.5" fill="#fff"/>
<g clip-path="url(#b4)">
<line x1="227.4" x2="278.3" y1="325.53" y2="325.53" stroke="#f5f5f5" stroke-width="0.5"/>
<line x1="227.4" x2="278.3" y1="347.49" y2="347.49" stroke="#f5f5f5" stroke-width="0.5"/>
<line x1="227.4" x2="278.3" y1="369.54" y2="369.54" stroke="#f5f5f5" stroke-width="0.5"/>
<line x1="227.4" x2="278.3" y1="391.92" y2="391.92" stroke="#f5f5f5" stroke-width="0.5"/>
<line x1="227.4" x2="278.3" y1="336.51" y2="336.51" stroke="#ebebeb" stroke-width="0.7"/>
<line x1="227.4" x2="278.3" y1="358.46" y2="358.46" stroke="#ebebeb" stroke-width="0.7"/>
<line x1="227.4" x2="278.3" y1="380.63" y2="380.63" stroke="#ebebeb" stroke-width="0.7"/>
<line x1="227.4" x2="278.3" y1="403.22" y2="403.22" stroke="#ebebeb" stroke-width="0.7"/>
<line x1="241.28" x2="241.28" y1="316.4" y2="407.9" stroke="#ebebeb" stroke-width="0.7"/>
<line x1="264.42" x2="264.42" y1="316.4" y2="407.9" stroke="#ebebeb" stroke-width="0.7"/>
<path d="M246.56,327.35C246.74,330.12 247.45,337.65 247.63,343.97C247.81,350.29 247.99,359.95 247.63,365.28C247.27,370.61 246.03,372.39 245.5,375.94C244.97,379.49 244.79,381.62 244.43,386.6C244.08,391.57 243.55,402.58 243.37,405.78L239.1,405.78C238.93,402.58 238.39,391.57 238.04,386.6C237.68,381.62 237.51,379.49 236.97,375.94C236.44,372.39 235.38,370.61 234.84,365.28C234.31,359.95 233.78,350.29 233.78,343.97C233.78,337.65 234.66,330.12 234.84,327.35Z" fill="#a6dcb9" stroke="#1a1a1a" stroke-width="0.75"/>
<path d="M267.45,320.53C267.7,322.66 267.98,327.63 268.94,333.31C269.9,339 272.32,349.3 273.21,354.63C274.09,359.95 274.8,360.84 274.27,365.28C273.74,369.72 270.72,378.6 270.01,381.27L258.29,381.27C257.75,378.6 255.27,369.72 255.09,365.28C254.91,360.84 256.33,359.95 257.22,354.63C258.11,349.3 259.53,339 260.42,333.31C261.31,327.63 262.19,322.66 262.55,320.53Z" fill="#a5a1d8" stroke="#1a1a1a" stroke-width="0.75"/>
<circle cx="244.01" cy="327.35" r="2.1" fill="#8ed3a4" stroke="#1a1a1a" stroke-width="0.7"/>
<circle cx="240.17" cy="330.12" r="2.1" fill="#8ed3a4" stroke="#1a1a1a" stroke-width="0.7"/>
<circle cx="241.24" cy="333.74" r="2.1" fill="#8ed3a4" stroke="#1a1a1a" stroke-width="0.7"/>
<circle cx="244.43" cy="341.41" r="2.1" fill="#8ed3a4" stroke="#1a1a1a" stroke-width="0.7"/>
<circle cx="239.1" cy="341.2" r="2.1" fill="#8ed3a4" stroke="#1a1a1a" stroke-width="0.7"/>
<circle cx="236.97" cy="349.3" r="2.1" fill="#8ed3a4" stroke="#1a1a1a" stroke-width="0.7"/>
<circle cx="241.24" cy="347.17" r="2.1" fill="#8ed3a4" stroke="#1a1a1a" stroke-width="0.7"/>
<circle cx="240.17" cy="355.69" r="2.1" fill="#8ed3a4" stroke="#1a1a1a" stroke-width="0.7"/>
<circle cx="244.43" cy="365.28" r="2.1" fill="#8ed3a4" stroke="#1a1a1a" stroke-width="0.7"/>
<circle cx="236.97" cy="372.32" r="2.1" fill="#8ed3a4" stroke="#1a1a1a" stroke-width="0.7"/>
<circle cx="241.24" cy="371.68" r="2.1" fill="#8ed3a4" stroke="#1a1a1a" stroke-width="0.7"/>
<circle cx="243.37" cy="369.54" r="2.1" fill="#8ed3a4" stroke="#1a1a1a" stroke-width="0.7"/>
<circle cx="236.97" cy="403.22" r="2.1" fill="#8ed3a4" stroke="#1a1a1a" stroke-width="0.7"/>
<circle cx="240.81" cy="404.28" r="2.1" fill="#8ed3a4" stroke="#1a1a1a" stroke-width="0.7"/>
<circle cx="265.75" cy="320.53" r="2.1" fill="#9690d4" stroke="#1a1a1a" stroke-width="0.7"/>
<circle cx="261.06" cy="324.79" r="2.1" fill="#9690d4" stroke="#1a1a1a" stroke-width="0.7"/>
<circle cx="263.19" cy="347.81" r="2.1" fill="#9690d4" stroke="#1a1a1a" stroke-width="0.7"/>
<circle cx="265.75" cy="359.31" r="2.1" fill="#9690d4" stroke="#1a1a1a" stroke-width="0.7"/>
<circle cx="261.48" cy="362.09" r="2.1" fill="#9690d4" stroke="#1a1a1a" stroke-width="0.7"/>
<circle cx="260.42" cy="370.61" r="2.1" fill="#9690d4" stroke="#1a1a1a" stroke-width="0.7"/>
<circle cx="264.68" cy="369.12" r="2.1" fill="#9690d4" stroke="#1a1a1a" stroke-width="0.7"/>
<circle cx="267.45" cy="373.38" r="2.1" fill="#9690d4" stroke="#1a1a1a" stroke-width="0.7"/>
<circle cx="264.68" cy="381.27" r="2.1" fill="#9690d4" stroke="#1a1a1a" stroke-width="0.7"/>
<line x1="236.97" x2="245.5" y1="355.69" y2="355.69" stroke="#000" stroke-width="1.5"/>
<line x1="260.42" x2="268.94" y1="362.09" y2="362.09" stroke="#000" stroke-width="1.5"/>
</g>
<rect x="227.4" y="316.4" width="50.9" height="91.5" fill="none" stroke="#333333" stroke-width="0.75"/>
<rect x="227.4" y="293.2" width="50.9" height="11.6" fill="#d9d9d9" stroke="#333333" stroke-width="0.75"/>
<text x="254.31" y="301.13" font-size="6.35" fill="#1a1a1a" text-anchor="middle">Spike_WT</text>
<rect x="227.4" y="304.8" width="50.9" height="11.6" fill="#d9d9d9" stroke="#333333" stroke-width="0.75"/>
<text x="254.31" y="312.73" font-size="6.35" fill="#1a1a1a" text-anchor="middle">FcγR3B</text>
<line x1="226.1" x2="227.4" y1="336.51" y2="336.51" stroke="#333333" stroke-width="0.6"/>
<text x="225.7" y="339.42" font-size="7.27" fill="#2e2e2e" text-anchor="end" textLength="13.22" lengthAdjust="spacingAndGlyphs">6.35</text>
<line x1="226.1" x2="227.4" y1="358.46" y2="358.46" stroke="#333333" stroke-width="0.6"/>
<text x="225.7" y="361.37" font-size="7.27" fill="#2e2e2e" text-anchor="end" textLength="13.22" lengthAdjust="spacingAndGlyphs">6.30</text>
<line x1="226.1" x2="227.4" y1="380.63" y2="380.63" stroke="#333333" stroke-width="0.6"/>
<text x="225.7" y="383.54" font-size="7.27" fill="#2e2e2e" text-anchor="end" textLength="13.22" lengthAdjust="spacingAndGlyphs">6.25</text>
<line x1="226.1" x2="227.4" y1="403.22" y2="403.22" stroke="#333333" stroke-width="0.6"/>
<text x="225.7" y="406.13" font-size="7.27" fill="#2e2e2e" text-anchor="end" textLength="13.22" lengthAdjust="spacingAndGlyphs">6.20</text>
<line x1="241.28" x2="241.28" y1="407.9" y2="409.2" stroke="#333333" stroke-width="0.6"/>
<text x="242.08" y="410.5" font-size="6.8" fill="#2e2e2e" text-anchor="end" dominant-baseline="hanging" transform="rotate(-45 242.08 410.5)">Adult</text>
<line x1="264.42" x2="264.42" y1="407.9" y2="409.2" stroke="#333333" stroke-width="0.6"/>
<text x="265.22" y="410.5" font-size="6.8" fill="#2e2e2e" text-anchor="end" dominant-baseline="hanging" transform="rotate(-45 265.22 410.5)">Child</text>
<clipPath id="b5"><rect x="23.4" y="453.2" width="51.3" height="91.6"/></clipPath>
<rect x="23.4" y="453.2" width="51.3" height="91.6" fill="#fff"/>
<g clip-path="url(#b5)">
<line x1="23.4" x2="74.7" y1="453.84" y2="453.84" stroke="#f5f5f5" stroke-width="0.5"/>
<line x1="23.4" x2="74.7" y1="481.54" y2="481.54" stroke="#f5f5f5" stroke-width="0.5"/>
<line x1="23.4" x2="74.7" y1="509.25" y2="509.25" stroke="#f5f5f5" stroke-width="0.5"/>
<line x1="23.4" x2="74.7" y1="536.96" y2="536.96" stroke="#f5f5f5" stroke-width="0.5"/>
<line x1="23.4" x2="74.7" y1="467.69" y2="467.69" stroke="#ebebeb" stroke-width="0.7"/>
<line x1="23.4" x2="74.7" y1="495.4" y2="495.4" stroke="#ebebeb" stroke-width="0.7"/>
<line x1="23.4" x2="74.7" y1="523.1" y2="523.1" stroke="#ebebeb" stroke-width="0.7"/>
<line x1="37.39" x2="37.39" y1="453.2" y2="544.8" stroke="#ebebeb" stroke-width="0.7"/>
<line x1="60.71" x2="60.71" y1="453.2" y2="544.8" stroke="#ebebeb" stroke-width="0.7"/>
<path d="M40.92,463.85C41.38,466.87 42.87,476.46 43.69,481.97C44.51,487.48 46.18,491.56 45.82,496.89C45.47,502.22 42.45,509.32 41.56,513.94C40.67,518.56 40.67,520.15 40.49,524.6C40.32,529.04 40.49,537.92 40.49,540.58L34.1,540.58C34.1,537.92 34.28,529.04 34.1,524.6C33.92,520.15 33.92,518.56 33.03,513.94C32.15,509.32 29.13,502.22 28.77,496.89C28.42,491.56 29.59,487.48 30.9,481.97C32.22,476.46 35.7,466.87 36.66,463.85Z" fill="#a6dcb9" stroke="#1a1a1a" stroke-width="0.75"/>
<path d="M64.36,457.03C64.12,459.41 62.23,466.45 62.87,471.31C63.51,476.18 66.96,481.97 68.2,486.23C69.44,490.49 70.87,492.98 70.33,496.89C69.8,500.8 65.89,503.82 65,509.68C64.12,515.54 65,528.32 65,532.05L57.12,532.05C56.83,528.32 56.48,515.54 55.41,509.68C54.35,503.82 51.26,500.8 50.72,496.89C50.19,492.98 51.26,490.49 52.22,486.23C53.18,481.97 55.59,476.18 56.48,471.31C57.37,466.45 57.37,459.41 57.54,457.03Z" fill="#a5a1d8" stroke="#1a1a1a" stroke-width="0.75"/>
<circle cx="39.43" cy="464.28" r="2.1" fill="#8ed3a4" stroke="#1a1a1a" stroke-width="0.7"/>
<circle cx="37.3" cy="479.84" r="2.1" fill="#8ed3a4" stroke="#1a1a1a" stroke-width="0.7"/>
<circle cx="34.1" cy="484.1" r="2.1" fill="#8ed3a4" stroke="#1a1a1a" stroke-width="0.7"/>
<circle cx="35.81" cy="492.63" r="2.1" fill="#8ed3a4" stroke="#1a1a1a" stroke-width="0.7"/>
<circle cx="39.43" cy="492.2" r="2.1" fill="#8ed3a4" stroke="#1a1a1a" stroke-width="0.7"/>
<circle cx="33.03" cy="497.95" r="2.1" fill="#8ed3a4" stroke="#1a1a1a" stroke-width="0.7"/>
<circle cx="36.23" cy="499.02" r="2.1" fill="#8ed3a4" stroke="#1a1a1a" stroke-width="0.7"/>
<circle cx="40.49" cy="497.95" r="2.1" fill="#8ed3a4" stroke="#1a1a1a" stroke-width="0.7"/>
<circle cx="35.81" cy="507.12" r="2.1" fill="#8ed3a4" stroke="#1a1a1a" stroke-width="0.7"/>
<circle cx="33.03" cy="512.23" r="2.1" fill="#8ed3a4" stroke="#1a1a1a" stroke-width="0.7"/>
<circle cx="39" cy="526.73" r="2.1" fill="#8ed3a4" stroke="#1a1a1a" stroke-width="0.7"/>
<circle cx="37.3" cy="535.68" r="2.1" fill="#8ed3a4" stroke="#1a1a1a" stroke-width="0.7"/>
<circle cx="36.23" cy="536.32" r="2.1" fill="#8ed3a4" stroke="#1a1a1a" stroke-width="0.7"/>
<circle cx="33.03" cy="541.22" r="2.1" fill="#8ed3a4" stroke="#1a1a1a" stroke-width="0.7"/>
<circle cx="61.81" cy="457.46" r="2.1" fill="#9690d4" stroke="#1a1a1a" stroke-width="0.7"/>
<circle cx="56.48" cy="469.18" r="2.1" fill="#9690d4" stroke="#1a1a1a" stroke-width="0.7"/>
<circle cx="59.68" cy="492.2" r="2.1" fill="#9690d4" stroke="#1a1a1a" stroke-width="0.7"/>
<circle cx="61.81" cy="492.63" r="2.1" fill="#9690d4" stroke="#1a1a1a" stroke-width="0.7"/>
<circle cx="57.54" cy="496.46" r="2.1" fill="#9690d4" stroke="#1a1a1a" stroke-width="0.7"/>
<circle cx="58.61" cy="507.12" r="2.1" fill="#9690d4" stroke="#1a1a1a" stroke-width="0.7"/>
<circle cx="60.74" cy="513.94" r="2.1" fill="#9690d4" stroke="#1a1a1a" stroke-width="0.7"/>
<circle cx="63.51" cy="532.05" r="2.1" fill="#9690d4" stroke="#1a1a1a" stroke-width="0.7"/>
<line x1="33.03" x2="42.2" y1="498.59" y2="498.59" stroke="#000" stroke-width="1.5"/>
<line x1="55.84" x2="64.36" y1="496.46" y2="496.46" stroke="#000" stroke-width="1.5"/>
</g>
<rect x="23.4" y="453.2" width="51.3" height="91.6" fill="none" stroke="#333333" stroke-width="0.75"/>
<rect x="23.4" y="429.3" width="51.3" height="12.1" fill="#d9d9d9" stroke="#333333" stroke-width="0.75"/>
<text x="50.5" y="437.48" font-size="6.35" fill="#1a1a1a" text-anchor="middle">RBD_WT</text>
<rect x="23.4" y="441.4" width="51.3" height="11.8" fill="#d9d9d9" stroke="#333333" stroke-width="0.75"/>
<text x="50.5" y="449.43" font-size="6.35" fill="#1a1a1a" text-anchor="middle">FcγR2A</text>
<line x1="22.1" x2="23.4" y1="467.69" y2="467.69" stroke="#333333" stroke-width="0.6"/>
<text x="21.7" y="470.6" font-size="7.27" fill="#2e2e2e" text-anchor="end" textLength="13.22" lengthAdjust="spacingAndGlyphs">6.55</text>
<line x1="22.1" x2="23.4" y1="495.4" y2="495.4" stroke="#333333" stroke-width="0.6"/>
<text x="21.7" y="498.31" font-size="7.27" fill="#2e2e2e" text-anchor="end" textLength="13.22" lengthAdjust="spacingAndGlyphs">6.50</text>
<line x1="22.1" x2="23.4" y1="523.1" y2="523.1" stroke="#333333" stroke-width="0.6"/>
<text x="21.7" y="526.01" font-size="7.27" fill="#2e2e2e" text-anchor="end" textLength="13.22" lengthAdjust="spacingAndGlyphs">6.45</text>
<line x1="37.39" x2="37.39" y1="544.8" y2="546.1" stroke="#333333" stroke-width="0.6"/>
<text x="38.19" y="547.4" font-size="6.8" fill="#2e2e2e" text-anchor="end" dominant-baseline="hanging" transform="rotate(-45 38.19 547.4)">Adult</text>
<line x1="60.71" x2="60.71" y1="544.8" y2="546.1" stroke="#333333" stroke-width="0.6"/>
<text x="61.51" y="547.4" font-size="6.8" fill="#2e2e2e" text-anchor="end" dominant-baseline="hanging" transform="rotate(-45 61.51 547.4)">Child</text>
<clipPath id="b6"><rect x="89.5" y="453.2" width="50.4" height="91.6"/></clipPath>
<rect x="89.5" y="453.2" width="50.4" height="91.6" fill="#fff"/>
<g clip-path="url(#b6)">
<line x1="89.5" x2="139.9" y1="465.88" y2="465.88" stroke="#f5f5f5" stroke-width="0.5"/>
<line x1="89.5" x2="139.9" y1="492.95" y2="492.95" stroke="#f5f5f5" stroke-width="0.5"/>
<line x1="89.5" x2="139.9" y1="519.8" y2="519.8" stroke="#f5f5f5" stroke-width="0.5"/>
<line x1="89.5" x2="139.9" y1="479.41" y2="479.41" stroke="#ebebeb" stroke-width="0.7"/>
<line x1="89.5" x2="139.9" y1="506.48" y2="506.48" stroke="#ebebeb" stroke-width="0.7"/>
<line x1="89.5" x2="139.9" y1="533.12" y2="533.12" stroke="#ebebeb" stroke-width="0.7"/>
<line x1="103.25" x2="103.25" y1="453.2" y2="544.8" stroke="#ebebeb" stroke-width="0.7"/>
<line x1="126.15" x2="126.15" y1="453.2" y2="544.8" stroke="#ebebeb" stroke-width="0.7"/>
<path d="M106.56,456.39C107.1,458.88 108.62,465.27 109.76,471.31C110.9,477.35 113.92,486.94 113.38,492.63C112.85,498.31 107.7,501.86 106.56,505.41C105.43,508.97 106.74,507.9 106.56,513.94C106.39,519.98 105.68,537.03 105.5,541.65L101.24,541.65C101.41,537.03 102.2,519.98 102.3,513.94C102.41,507.9 103.37,508.97 101.88,505.41C100.38,501.86 93.92,498.31 93.35,492.63C92.78,486.94 96.62,477.35 98.47,471.31C100.31,465.27 103.44,458.88 104.43,456.39Z" fill="#a6dcb9" stroke="#1a1a1a" stroke-width="0.75"/>
<path d="M130.43,464.92C130.72,467.76 131.15,476.29 132.14,481.97C133.13,487.65 136.4,494.4 136.4,499.02C136.4,503.64 133.03,505.59 132.14,509.68C131.25,513.76 131.25,521.22 131.07,523.53L121.48,523.53C121.48,521.22 122.37,513.76 121.48,509.68C120.6,505.59 116.44,503.64 116.16,499.02C115.87,494.4 119.17,487.65 119.78,481.97C120.38,476.29 119.78,467.76 119.78,464.92Z" fill="#a5a1d8" stroke="#1a1a1a" stroke-width="0.75"/>
<circle cx="105.5" cy="456.82" r="2.1" fill="#8ed3a4" stroke="#1a1a1a" stroke-width="0.7"/>
<circle cx="101.88" cy="475.15" r="2.1" fill="#8ed3a4" stroke="#1a1a1a" stroke-width="0.7"/>
<circle cx="103.37" cy="479.84" r="2.1" fill="#8ed3a4" stroke="#1a1a1a" stroke-width="0.7"/>
<circle cx="100.17" cy="478.77" r="2.1" fill="#8ed3a4" stroke="#1a1a1a" stroke-width="0.7"/>
<circle cx="106.14" cy="487.3" r="2.1" fill="#8ed3a4" stroke="#1a1a1a" stroke-width="0.7"/>
<circle cx="100.17" cy="495.82" r="2.1" fill="#8ed3a4" stroke="#1a1a1a" stroke-width="0.7"/>
<circle cx="104.01" cy="492.63" r="2.1" fill="#8ed3a4" stroke="#1a1a1a" stroke-width="0.7"/>
<circle cx="98.47" cy="494.76" r="2.1" fill="#8ed3a4" stroke="#1a1a1a" stroke-width="0.7"/>
<circle cx="104.43" cy="522.46" r="2.1" fill="#8ed3a4" stroke="#1a1a1a" stroke-width="0.7"/>
<circle cx="99.1" cy="530.99" r="2.1" fill="#8ed3a4" stroke="#1a1a1a" stroke-width="0.7"/>
<circle cx="102.94" cy="540.58" r="2.1" fill="#8ed3a4" stroke="#1a1a1a" stroke-width="0.7"/>
<circle cx="102.3" cy="490.49" r="2.1" fill="#8ed3a4" stroke="#1a1a1a" stroke-width="0.7"/>
<circle cx="122.55" cy="467.48" r="2.1" fill="#9690d4" stroke="#1a1a1a" stroke-width="0.7"/>
<circle cx="127.88" cy="464.92" r="2.1" fill="#9690d4" stroke="#1a1a1a" stroke-width="0.7"/>
<circle cx="124.04" cy="484.1" r="2.1" fill="#9690d4" stroke="#1a1a1a" stroke-width="0.7"/>
<circle cx="127.45" cy="494.33" r="2.1" fill="#9690d4" stroke="#1a1a1a" stroke-width="0.7"/>
<circle cx="122.55" cy="498.59" r="2.1" fill="#9690d4" stroke="#1a1a1a" stroke-width="0.7"/>
<circle cx="126.17" cy="499.02" r="2.1" fill="#9690d4" stroke="#1a1a1a" stroke-width="0.7"/>
<circle cx="128.94" cy="498.59" r="2.1" fill="#9690d4" stroke="#1a1a1a" stroke-width="0.7"/>
<circle cx="126.17" cy="518.2" r="2.1" fill="#9690d4" stroke="#1a1a1a" stroke-width="0.7"/>
<circle cx="129.58" cy="523.1" r="2.1" fill="#9690d4" stroke="#1a1a1a" stroke-width="0.7"/>
<line x1="98.47" x2="108.27" y1="493.69" y2="493.69" stroke="#000" stroke-width="1.5"/>
<line x1="121.48" x2="130.43" y1="498.59" y2="498.59" stroke="#000" stroke-width="1.5"/>
</g>
<rect x="89.5" y="453.2" width="50.4" height="91.6" fill="none" stroke="#333333" stroke-width="0.75"/>
<rect x="89.5" y="429.3" width="50.4" height="12.1" fill="#d9d9d9" stroke="#333333" stroke-width="0.75"/>
<text x="116.16" y="437.48" font-size="6.35" fill="#1a1a1a" text-anchor="middle">RBD_WT</text>
<rect x="89.5" y="441.4" width="50.4" height="11.8" fill="#d9d9d9" stroke="#333333" stroke-width="0.75"/>
<text x="116.16" y="449.43" font-size="6.35" fill="#1a1a1a" text-anchor="middle">FcγR2B</text>
<line x1="88.2" x2="89.5" y1="479.41" y2="479.41" stroke="#333333" stroke-width="0.6"/>
<text x="87.8" y="482.32" font-size="7.27" fill="#2e2e2e" text-anchor="end" textLength="9.44" lengthAdjust="spacingAndGlyphs">6.6</text>
<line x1="88.2" x2="89.5" y1="506.48" y2="506.48" stroke="#333333" stroke-width="0.6"/>
<text x="87.8" y="509.39" font-size="7.27" fill="#2e2e2e" text-anchor="end" textLength="9.44" lengthAdjust="spacingAndGlyphs">6.5</text>
<line x1="88.2" x2="89.5" y1="533.12" y2="533.12" stroke="#333333" stroke-width="0.6"/>
<text x="87.8" y="536.03" font-size="7.27" fill="#2e2e2e" text-anchor="end" textLength="9.44" lengthAdjust="spacingAndGlyphs">6.4</text>
<line x1="103.25" x2="103.25" y1="544.8" y2="546.1" stroke="#333333" stroke-width="0.6"/>
<text x="104.05" y="547.4" font-size="6.8" fill="#2e2e2e" text-anchor="end" dominant-baseline="hanging" transform="rotate(-45 104.05 547.4)">Adult</text>
<line x1="126.15" x2="126.15" y1="544.8" y2="546.1" stroke="#333333" stroke-width="0.6"/>
<text x="126.95" y="547.4" font-size="6.8" fill="#2e2e2e" text-anchor="end" dominant-baseline="hanging" transform="rotate(-45 126.95 547.4)">Child</text>
<clipPath id="b7"><rect x="158.5" y="453.2" width="50.9" height="91.6"/></clipPath>
<rect x="158.5" y="453.2" width="50.9" height="91.6" fill="#fff"/>
<g clip-path="url(#b7)">
<line x1="158.5" x2="209.4" y1="460.44" y2="460.44" stroke="#f5f5f5" stroke-width="0.5"/>
<line x1="158.5" x2="209.4" y1="478.77" y2="478.77" stroke="#f5f5f5" stroke-width="0.5"/>
<line x1="158.5" x2="209.4" y1="496.68" y2="496.68" stroke="#f5f5f5" stroke-width="0.5"/>
<line x1="158.5" x2="209.4" y1="514.47" y2="514.47" stroke="#f5f5f5" stroke-width="0.5"/>
<line x1="158.5" x2="209.4" y1="532.37" y2="532.37" stroke="#f5f5f5" stroke-width="0.5"/>
<line x1="158.5" x2="209.4" y1="469.61" y2="469.61" stroke="#ebebeb" stroke-width="0.7"/>
<line x1="158.5" x2="209.4" y1="487.94" y2="487.94" stroke="#ebebeb" stroke-width="0.7"/>
<line x1="158.5" x2="209.4" y1="505.41" y2="505.41" stroke="#ebebeb" stroke-width="0.7"/>
<line x1="158.5" x2="209.4" y1="523.53" y2="523.53" stroke="#ebebeb" stroke-width="0.7"/>
<line x1="158.5" x2="209.4" y1="541.22" y2="541.22" stroke="#ebebeb" stroke-width="0.7"/>
<line x1="172.38" x2="172.38" y1="453.2" y2="544.8" stroke="#ebebeb" stroke-width="0.7"/>
<line x1="195.52" x2="195.52" y1="453.2" y2="544.8" stroke="#ebebeb" stroke-width="0.7"/>
<path d="M175.81,468.12C176.59,470.42 179.43,477.88 180.49,481.97C181.56,486.05 182.55,489.07 182.2,492.63C181.84,496.18 179.54,499.73 178.36,503.28C177.19,506.83 176.05,507.54 175.17,513.94C174.28,520.33 173.39,537.03 173.03,541.65L170.9,541.65C170.73,537.03 170.55,520.33 169.84,513.94C169.13,507.54 167.88,506.83 166.64,503.28C165.4,499.73 162.56,496.18 162.38,492.63C162.2,489.07 163.69,486.05 165.58,481.97C167.46,477.88 172.32,470.42 173.67,468.12Z" fill="#a6dcb9" stroke="#1a1a1a" stroke-width="0.75"/>
<path d="M199.25,456.39C199.5,458.88 199.78,465.27 200.74,471.31C201.7,477.35 204.65,486.94 205,492.63C205.36,498.31 203.58,501.22 202.87,505.41C202.16,509.61 201.1,515.71 200.74,517.77L190.09,517.77C189.84,515.71 189.3,509.61 188.59,505.41C187.88,501.22 185.29,498.31 185.82,492.63C186.36,486.94 190.37,477.35 191.79,471.31C193.21,465.27 193.92,458.88 194.35,456.39Z" fill="#a5a1d8" stroke="#1a1a1a" stroke-width="0.75"/>
<circle cx="174.74" cy="468.76" r="2.1" fill="#8ed3a4" stroke="#1a1a1a" stroke-width="0.7"/>
<circle cx="170.9" cy="478.77" r="2.1" fill="#8ed3a4" stroke="#1a1a1a" stroke-width="0.7"/>
<circle cx="171.97" cy="481.97" r="2.1" fill="#8ed3a4" stroke="#1a1a1a" stroke-width="0.7"/>
<circle cx="175.81" cy="483.46" r="2.1" fill="#8ed3a4" stroke="#1a1a1a" stroke-width="0.7"/>
<circle cx="170.9" cy="487.3" r="2.1" fill="#8ed3a4" stroke="#1a1a1a" stroke-width="0.7"/>
<circle cx="169.84" cy="491.56" r="2.1" fill="#8ed3a4" stroke="#1a1a1a" stroke-width="0.7"/>
<circle cx="174.1" cy="494.76" r="2.1" fill="#8ed3a4" stroke="#1a1a1a" stroke-width="0.7"/>
<circle cx="167.71" cy="499.45" r="2.1" fill="#8ed3a4" stroke="#1a1a1a" stroke-width="0.7"/>
<circle cx="168.77" cy="500.72" r="2.1" fill="#8ed3a4" stroke="#1a1a1a" stroke-width="0.7"/>
<circle cx="174.1" cy="518.63" r="2.1" fill="#8ed3a4" stroke="#1a1a1a" stroke-width="0.7"/>
<circle cx="167.71" cy="523.1" r="2.1" fill="#8ed3a4" stroke="#1a1a1a" stroke-width="0.7"/>
<circle cx="171.97" cy="541.22" r="2.1" fill="#8ed3a4" stroke="#1a1a1a" stroke-width="0.7"/>
<circle cx="196.48" cy="456.82" r="2.1" fill="#9690d4" stroke="#1a1a1a" stroke-width="0.7"/>
<circle cx="191.58" cy="468.12" r="2.1" fill="#9690d4" stroke="#1a1a1a" stroke-width="0.7"/>
<circle cx="192.86" cy="487.94" r="2.1" fill="#9690d4" stroke="#1a1a1a" stroke-width="0.7"/>
<circle cx="191.58" cy="492.2" r="2.1" fill="#9690d4" stroke="#1a1a1a" stroke-width="0.7"/>
<circle cx="195.84" cy="494.76" r="2.1" fill="#9690d4" stroke="#1a1a1a" stroke-width="0.7"/>
<circle cx="197.97" cy="493.69" r="2.1" fill="#9690d4" stroke="#1a1a1a" stroke-width="0.7"/>
<circle cx="195.84" cy="504.99" r="2.1" fill="#9690d4" stroke="#1a1a1a" stroke-width="0.7"/>
<circle cx="194.99" cy="510.32" r="2.1" fill="#9690d4" stroke="#1a1a1a" stroke-width="0.7"/>
<circle cx="198.61" cy="517.77" r="2.1" fill="#9690d4" stroke="#1a1a1a" stroke-width="0.7"/>
<line x1="168.77" x2="176.66" y1="494.33" y2="494.33" stroke="#000" stroke-width="1.5"/>
<line x1="191.15" x2="199.68" y1="494.33" y2="494.33" stroke="#000" stroke-width="1.5"/>
</g>
<rect x="158.5" y="453.2" width="50.9" height="91.6" fill="none" stroke="#333333" stroke-width="0.75"/>
<rect x="158.5" y="429.3" width="50.9" height="12.1" fill="#d9d9d9" stroke="#333333" stroke-width="0.75"/>
<text x="185.41" y="437.48" font-size="6.35" fill="#1a1a1a" text-anchor="middle">RBD_WT</text>
<rect x="158.5" y="441.4" width="50.9" height="11.8" fill="#d9d9d9" stroke="#333333" stroke-width="0.75"/>
<text x="185.41" y="449.43" font-size="6.35" fill="#1a1a1a" text-anchor="middle">FcγR3A</text>
<line x1="157.2" x2="158.5" y1="469.61" y2="469.61" stroke="#333333" stroke-width="0.6"/>
<text x="156.8" y="472.52" font-size="7.27" fill="#2e2e2e" text-anchor="end" textLength="13.22" lengthAdjust="spacingAndGlyphs">6.40</text>
<line x1="157.2" x2="158.5" y1="487.94" y2="487.94" stroke="#333333" stroke-width="0.6"/>
<text x="156.8" y="490.85" font-size="7.27" fill="#2e2e2e" text-anchor="end" textLength="13.22" lengthAdjust="spacingAndGlyphs">6.35</text>
<line x1="157.2" x2="158.5" y1="505.41" y2="505.41" stroke="#333333" stroke-width="0.6"/>
<text x="156.8" y="508.32" font-size="7.27" fill="#2e2e2e" text-anchor="end" textLength="13.22" lengthAdjust="spacingAndGlyphs">6.30</text>
<line x1="157.2" x2="158.5" y1="523.53" y2="523.53" stroke="#333333" stroke-width="0.6"/>
<text x="156.8" y="526.44" font-size="7.27" fill="#2e2e2e" text-anchor="end" textLength="13.22" lengthAdjust="spacingAndGlyphs">6.25</text>
<line x1="157.2" x2="158.5" y1="541.22" y2="541.22" stroke="#333333" stroke-width="0.6"/>
<text x="156.8" y="544.13" font-size="7.27" fill="#2e2e2e" text-anchor="end" textLength="13.22" lengthAdjust="spacingAndGlyphs">6.20</text>
<line x1="172.38" x2="172.38" y1="544.8" y2="546.1" stroke="#333333" stroke-width="0.6"/>
<text x="173.18" y="547.4" font-size="6.8" fill="#2e2e2e" text-anchor="end" dominant-baseline="hanging" transform="rotate(-45 173.18 547.4)">Adult</text>
<line x1="195.52" x2="195.52" y1="544.8" y2="546.1" stroke="#333333" stroke-width="0.6"/>
<text x="196.32" y="547.4" font-size="6.8" fill="#2e2e2e" text-anchor="end" dominant-baseline="hanging" transform="rotate(-45 196.32 547.4)">Child</text>
<clipPath id="b8"><rect x="227.4" y="453.2" width="50.9" height="91.6"/></clipPath>
<rect x="227.4" y="453.2" width="50.9" height="91.6" fill="#fff"/>
<g clip-path="url(#b8)">
<line x1="227.4" x2="278.3" y1="462.25" y2="462.25" stroke="#f5f5f5" stroke-width="0.5"/>
<line x1="227.4" x2="278.3" y1="484.63" y2="484.63" stroke="#f5f5f5" stroke-width="0.5"/>
<line x1="227.4" x2="278.3" y1="507.23" y2="507.23" stroke="#f5f5f5" stroke-width="0.5"/>
<line x1="227.4" x2="278.3" y1="529.92" y2="529.92" stroke="#f5f5f5" stroke-width="0.5"/>
<line x1="227.4" x2="278.3" y1="473.44" y2="473.44" stroke="#ebebeb" stroke-width="0.7"/>
<line x1="227.4" x2="278.3" y1="495.82" y2="495.82" stroke="#ebebeb" stroke-width="0.7"/>
<line x1="227.4" x2="278.3" y1="518.63" y2="518.63" stroke="#ebebeb" stroke-width="0.7"/>
<line x1="227.4" x2="278.3" y1="541.22" y2="541.22" stroke="#ebebeb" stroke-width="0.7"/>
<line x1="241.28" x2="241.28" y1="453.2" y2="544.8" stroke="#ebebeb" stroke-width="0.7"/>
<line x1="264.42" x2="264.42" y1="453.2" y2="544.8" stroke="#ebebeb" stroke-width="0.7"/>
<path d="M244.43,463.21C244.97,465.27 246.92,470.67 247.63,475.58C248.34,480.48 248.59,486.94 248.7,492.63C248.8,498.31 248.8,504.35 248.27,509.68C247.74,515 246.32,519.27 245.5,524.6C244.68,529.92 243.72,538.8 243.37,541.65L239.1,541.65C238.75,538.8 237.79,529.92 236.97,524.6C236.16,519.27 234.74,515 234.2,509.68C233.67,504.35 233.56,498.31 233.78,492.63C233.99,486.94 234.42,480.48 235.48,475.58C236.55,470.67 239.39,465.27 240.17,463.21Z" fill="#a6dcb9" stroke="#1a1a1a" stroke-width="0.75"/>
<path d="M268.94,458.53C268.69,460.66 266.92,465.63 267.45,471.31C267.98,477 271,486.94 272.14,492.63C273.28,498.31 274.63,500.72 274.27,505.41C273.92,510.1 270.72,518.2 270.01,520.76L258.29,520.76C257.75,518.2 255.44,510.1 255.09,505.41C254.73,500.72 255.27,498.31 256.16,492.63C257.04,486.94 259.88,477 260.42,471.31C260.95,465.63 259.53,460.66 259.35,458.53Z" fill="#a5a1d8" stroke="#1a1a1a" stroke-width="0.75"/>
<circle cx="244.01" cy="464.92" r="2.1" fill="#8ed3a4" stroke="#1a1a1a" stroke-width="0.7"/>
<circle cx="239.1" cy="481.54" r="2.1" fill="#8ed3a4" stroke="#1a1a1a" stroke-width="0.7"/>
<circle cx="241.24" cy="481.97" r="2.1" fill="#8ed3a4" stroke="#1a1a1a" stroke-width="0.7"/>
<circle cx="240.17" cy="479.84" r="2.1" fill="#8ed3a4" stroke="#1a1a1a" stroke-width="0.7"/>
<circle cx="244.43" cy="491.13" r="2.1" fill="#8ed3a4" stroke="#1a1a1a" stroke-width="0.7"/>
<circle cx="239.1" cy="494.76" r="2.1" fill="#8ed3a4" stroke="#1a1a1a" stroke-width="0.7"/>
<circle cx="242.3" cy="496.89" r="2.1" fill="#8ed3a4" stroke="#1a1a1a" stroke-width="0.7"/>
<circle cx="236.97" cy="502.86" r="2.1" fill="#8ed3a4" stroke="#1a1a1a" stroke-width="0.7"/>
<circle cx="241.88" cy="511.81" r="2.1" fill="#8ed3a4" stroke="#1a1a1a" stroke-width="0.7"/>
<circle cx="237.61" cy="510.74" r="2.1" fill="#8ed3a4" stroke="#1a1a1a" stroke-width="0.7"/>
<circle cx="242.73" cy="526.3" r="2.1" fill="#8ed3a4" stroke="#1a1a1a" stroke-width="0.7"/>
<circle cx="237.61" cy="526.73" r="2.1" fill="#8ed3a4" stroke="#1a1a1a" stroke-width="0.7"/>
<circle cx="240.6" cy="540.58" r="2.1" fill="#8ed3a4" stroke="#1a1a1a" stroke-width="0.7"/>
<circle cx="261.06" cy="458.95" r="2.1" fill="#9690d4" stroke="#1a1a1a" stroke-width="0.7"/>
<circle cx="266.17" cy="457.46" r="2.1" fill="#9690d4" stroke="#1a1a1a" stroke-width="0.7"/>
<circle cx="262.55" cy="487.94" r="2.1" fill="#9690d4" stroke="#1a1a1a" stroke-width="0.7"/>
<circle cx="260.42" cy="497.31" r="2.1" fill="#9690d4" stroke="#1a1a1a" stroke-width="0.7"/>
<circle cx="265.75" cy="502.22" r="2.1" fill="#9690d4" stroke="#1a1a1a" stroke-width="0.7"/>
<circle cx="264.68" cy="507.97" r="2.1" fill="#9690d4" stroke="#1a1a1a" stroke-width="0.7"/>
<circle cx="264.25" cy="515" r="2.1" fill="#9690d4" stroke="#1a1a1a" stroke-width="0.7"/>
<circle cx="267.88" cy="521.4" r="2.1" fill="#9690d4" stroke="#1a1a1a" stroke-width="0.7"/>
<circle cx="264.68" cy="499.02" r="2.1" fill="#9690d4" stroke="#1a1a1a" stroke-width="0.7"/>
<line x1="236.97" x2="245.92" y1="497.31" y2="497.31" stroke="#000" stroke-width="1.5"/>
<line x1="259.35" x2="268.94" y1="498.59" y2="498.59" stroke="#000" stroke-width="1.5"/>
</g>
<rect x="227.4" y="453.2" width="50.9" height="91.6" fill="none" stroke="#333333" stroke-width="0.75"/>
<rect x="227.4" y="429.3" width="50.9" height="12.1" fill="#d9d9d9" stroke="#333333" stroke-width="0.75"/>
<text x="254.31" y="437.48" font-size="6.35" fill="#1a1a1a" text-anchor="middle">RBD_WT</text>
<rect x="227.4" y="441.4" width="50.9" height="11.8" fill="#d9d9d9" stroke="#333333" stroke-width="0.75"/>
<text x="254.31" y="449.43" font-size="6.35" fill="#1a1a1a" text-anchor="middle">FcγR3B</text>
<line x1="226.1" x2="227.4" y1="473.44" y2="473.44" stroke="#333333" stroke-width="0.6"/>
<text x="225.7" y="476.35" font-size="7.27" fill="#2e2e2e" text-anchor="end" textLength="13.22" lengthAdjust="spacingAndGlyphs">6.45</text>
<line x1="226.1" x2="227.4" y1="495.82" y2="495.82" stroke="#333333" stroke-width="0.6"/>
<text x="225.7" y="498.73" font-size="7.27" fill="#2e2e2e" text-anchor="end" textLength="13.22" lengthAdjust="spacingAndGlyphs">6.40</text>
<line x1="226.1" x2="227.4" y1="518.63" y2="518.63" stroke="#333333" stroke-width="0.6"/>
<text x="225.7" y="521.54" font-size="7.27" fill="#2e2e2e" text-anchor="end" textLength="13.22" lengthAdjust="spacingAndGlyphs">6.35</text>
<line x1="226.1" x2="227.4" y1="541.22" y2="541.22" stroke="#333333" stroke-width="0.6"/>
<text x="225.7" y="544.13" font-size="7.27" fill="#2e2e2e" text-anchor="end" textLength="13.22" lengthAdjust="spacingAndGlyphs">6.30</text>
<line x1="241.28" x2="241.28" y1="544.8" y2="546.1" stroke="#333333" stroke-width="0.6"/>
<text x="242.08" y="547.4" font-size="6.8" fill="#2e2e2e" text-anchor="end" dominant-baseline="hanging" transform="rotate(-45 242.08 547.4)">Adult</text>
<line x1="264.42" x2="264.42" y1="544.8" y2="546.1" stroke="#333333" stroke-width="0.6"/>
<text x="265.22" y="547.4" font-size="6.8" fill="#2e2e2e" text-anchor="end" dominant-baseline="hanging" transform="rotate(-45 265.22 547.4)">Child</text>
<clipPath id="c1"><rect x="475.5" y="31.3" width="44.4" height="92.1"/></clipPath>
<rect x="475.5" y="31.3" width="44.4" height="92.1" fill="#fff"/>
<g clip-path="url(#c1)">
<line x1="475.5" x2="519.9" y1="40.48" y2="40.48" stroke="#f5f5f5" stroke-width="0.5"/>
<line x1="475.5" x2="519.9" y1="65" y2="65" stroke="#f5f5f5" stroke-width="0.5"/>
<line x1="475.5" x2="519.9" y1="89.53" y2="89.53" stroke="#f5f5f5" stroke-width="0.5"/>
<line x1="475.5" x2="519.9" y1="114.05" y2="114.05" stroke="#f5f5f5" stroke-width="0.5"/>
<line x1="475.5" x2="519.9" y1="52.74" y2="52.74" stroke="#ebebeb" stroke-width="0.7"/>
<line x1="475.5" x2="519.9" y1="77.27" y2="77.27" stroke="#ebebeb" stroke-width="0.7"/>
<line x1="475.5" x2="519.9" y1="101.79" y2="101.79" stroke="#ebebeb" stroke-width="0.7"/>
<line x1="487.61" x2="487.61" y1="31.3" y2="123.4" stroke="#ebebeb" stroke-width="0.7"/>
<line x1="507.79" x2="507.79" y1="31.3" y2="123.4" stroke="#ebebeb" stroke-width="0.7"/>
<path d="M492.11,41.79C492.48,43.87 493.68,47.45 494.3,54.28C494.92,61.1 495.94,75.44 495.84,82.74C495.73,90.04 494.49,93.32 493.65,98.07C492.81,102.81 491.64,107.74 490.8,111.21C489.96,114.67 488.97,117.59 488.61,118.87L485.98,118.87C485.8,117.59 485.43,114.67 484.89,111.21C484.34,107.74 483.68,102.81 482.7,98.07C481.71,93.32 479.41,90.04 478.98,82.74C478.54,75.44 479.63,61.1 480.07,54.28C480.51,47.45 481.35,43.87 481.6,41.79Z" fill="#a6dcb9" stroke="#1a1a1a" stroke-width="0.75"/>
<path d="M512.26,35.66C512.62,39.86 514.08,53 514.45,60.84C514.81,68.69 514.81,76.54 514.45,82.74C514.08,88.94 513.17,93.14 512.26,98.07C511.35,102.99 509.52,109.93 508.97,112.3L504.59,112.3C504.41,109.93 503.94,102.99 503.5,98.07C503.06,93.14 502.15,88.94 501.97,82.74C501.78,76.54 502.33,68.69 502.4,60.84C502.48,53 502.4,39.86 502.4,35.66Z" fill="#a5a1d8" stroke="#1a1a1a" stroke-width="0.75"/>
<circle cx="485.98" cy="43.33" r="2.1" fill="#8ed3a4" stroke="#1a1a1a" stroke-width="0.7"/>
<circle cx="489.27" cy="43.33" r="2.1" fill="#8ed3a4" stroke="#1a1a1a" stroke-width="0.7"/>
<circle cx="490.36" cy="56.03" r="2.1" fill="#8ed3a4" stroke="#1a1a1a" stroke-width="0.7"/>
<circle cx="483.79" cy="61.5" r="2.1" fill="#8ed3a4" stroke="#1a1a1a" stroke-width="0.7"/>
<circle cx="490.8" cy="61.28" r="2.1" fill="#8ed3a4" stroke="#1a1a1a" stroke-width="0.7"/>
<circle cx="486.42" cy="69.6" r="2.1" fill="#8ed3a4" stroke="#1a1a1a" stroke-width="0.7"/>
<circle cx="487.08" cy="81.65" r="2.1" fill="#8ed3a4" stroke="#1a1a1a" stroke-width="0.7"/>
<circle cx="484.89" cy="82.74" r="2.1" fill="#8ed3a4" stroke="#1a1a1a" stroke-width="0.7"/>
<circle cx="489.27" cy="82.74" r="2.1" fill="#8ed3a4" stroke="#1a1a1a" stroke-width="0.7"/>
<circle cx="485.98" cy="90.4" r="2.1" fill="#8ed3a4" stroke="#1a1a1a" stroke-width="0.7"/>
<circle cx="486.64" cy="87.12" r="2.1" fill="#8ed3a4" stroke="#1a1a1a" stroke-width="0.7"/>
<circle cx="490.36" cy="104.64" r="2.1" fill="#8ed3a4" stroke="#1a1a1a" stroke-width="0.7"/>
<circle cx="485.54" cy="118.87" r="2.1" fill="#8ed3a4" stroke="#1a1a1a" stroke-width="0.7"/>
<circle cx="511.16" cy="35.66" r="2.1" fill="#9690d4" stroke="#1a1a1a" stroke-width="0.7"/>
<circle cx="508.97" cy="49.9" r="2.1" fill="#9690d4" stroke="#1a1a1a" stroke-width="0.7"/>
<circle cx="507.44" cy="57.12" r="2.1" fill="#9690d4" stroke="#1a1a1a" stroke-width="0.7"/>
<circle cx="510.07" cy="64.13" r="2.1" fill="#9690d4" stroke="#1a1a1a" stroke-width="0.7"/>
<circle cx="503.5" cy="77.27" r="2.1" fill="#9690d4" stroke="#1a1a1a" stroke-width="0.7"/>
<circle cx="505.69" cy="85.37" r="2.1" fill="#9690d4" stroke="#1a1a1a" stroke-width="0.7"/>
<circle cx="511.16" cy="88.65" r="2.1" fill="#9690d4" stroke="#1a1a1a" stroke-width="0.7"/>
<circle cx="505.69" cy="93.69" r="2.1" fill="#9690d4" stroke="#1a1a1a" stroke-width="0.7"/>
<circle cx="506.78" cy="111.86" r="2.1" fill="#9690d4" stroke="#1a1a1a" stroke-width="0.7"/>
<line x1="482.7" x2="491.46" y1="83.18" y2="83.18" stroke="#000" stroke-width="1.5"/>
<line x1="502.4" x2="511.16" y1="77.27" y2="77.27" stroke="#000" stroke-width="1.5"/>
</g>
<rect x="475.5" y="31.3" width="44.4" height="92.1" fill="none" stroke="#333333" stroke-width="0.75"/>
<rect x="475.5" y="8.2" width="44.4" height="11.6" fill="#d9d9d9" stroke="#333333" stroke-width="0.75"/>
<text x="499.12" y="16.09" font-size="6.22" fill="#1a1a1a" text-anchor="middle">Spike_WT</text>
<rect x="475.5" y="19.8" width="44.4" height="11.5" fill="#d9d9d9" stroke="#333333" stroke-width="0.75"/>
<text x="499.12" y="27.64" font-size="6.22" fill="#1a1a1a" text-anchor="middle">ADCP</text>
<line x1="474.2" x2="475.5" y1="52.74" y2="52.74" stroke="#333333" stroke-width="0.6"/>
<text x="473.8" y="55.59" font-size="7.12" fill="#2e2e2e" text-anchor="end" textLength="18.49" lengthAdjust="spacingAndGlyphs">15000</text>
<line x1="474.2" x2="475.5" y1="77.27" y2="77.27" stroke="#333333" stroke-width="0.6"/>
<text x="473.8" y="80.12" font-size="7.12" fill="#2e2e2e" text-anchor="end" textLength="18.49" lengthAdjust="spacingAndGlyphs">13000</text>
<line x1="474.2" x2="475.5" y1="101.79" y2="101.79" stroke="#333333" stroke-width="0.6"/>
<text x="473.8" y="104.64" font-size="7.12" fill="#2e2e2e" text-anchor="end" textLength="18" lengthAdjust="spacingAndGlyphs">11000</text>
<line x1="487.61" x2="487.61" y1="123.4" y2="124.7" stroke="#333333" stroke-width="0.6"/>
<text x="488.41" y="126" font-size="6.8" fill="#2e2e2e" text-anchor="end" dominant-baseline="hanging" transform="rotate(-45 488.41 126)">Adult</text>
<line x1="507.79" x2="507.79" y1="123.4" y2="124.7" stroke="#333333" stroke-width="0.6"/>
<text x="508.59" y="126" font-size="6.8" fill="#2e2e2e" text-anchor="end" dominant-baseline="hanging" transform="rotate(-45 508.59 126)">Child</text>
<clipPath id="c2"><rect x="542.4" y="31.3" width="44.2" height="92.1"/></clipPath>
<rect x="542.4" y="31.3" width="44.2" height="92.1" fill="#fff"/>
<g clip-path="url(#c2)">
<line x1="542.4" x2="586.6" y1="46.39" y2="46.39" stroke="#f5f5f5" stroke-width="0.5"/>
<line x1="542.4" x2="586.6" y1="62.27" y2="62.27" stroke="#f5f5f5" stroke-width="0.5"/>
<line x1="542.4" x2="586.6" y1="78.14" y2="78.14" stroke="#f5f5f5" stroke-width="0.5"/>
<line x1="542.4" x2="586.6" y1="94.02" y2="94.02" stroke="#f5f5f5" stroke-width="0.5"/>
<line x1="542.4" x2="586.6" y1="109.89" y2="109.89" stroke="#f5f5f5" stroke-width="0.5"/>
<line x1="542.4" x2="586.6" y1="38.51" y2="38.51" stroke="#ebebeb" stroke-width="0.7"/>
<line x1="542.4" x2="586.6" y1="54.28" y2="54.28" stroke="#ebebeb" stroke-width="0.7"/>
<line x1="542.4" x2="586.6" y1="70.26" y2="70.26" stroke="#ebebeb" stroke-width="0.7"/>
<line x1="542.4" x2="586.6" y1="86.02" y2="86.02" stroke="#ebebeb" stroke-width="0.7"/>
<line x1="542.4" x2="586.6" y1="102.01" y2="102.01" stroke="#ebebeb" stroke-width="0.7"/>
<line x1="542.4" x2="586.6" y1="117.77" y2="117.77" stroke="#ebebeb" stroke-width="0.7"/>
<line x1="554.45" x2="554.45" y1="31.3" y2="123.4" stroke="#ebebeb" stroke-width="0.7"/>
<line x1="574.55" x2="574.55" y1="31.3" y2="123.4" stroke="#ebebeb" stroke-width="0.7"/>
<path d="M559.77,48.8C559.88,49.35 560.25,50.81 560.43,52.09C560.61,53.36 560.32,53.55 560.87,56.47C561.41,59.38 563.6,65.22 563.71,69.6C563.82,73.98 562.66,79.46 561.52,82.74C560.39,86.02 557.91,87.48 556.93,89.31C555.94,91.13 555.87,88.58 555.61,93.69C555.36,98.8 555.43,115.58 555.39,119.96L553.64,119.96C553.64,115.58 553.9,98.8 553.64,93.69C553.39,88.58 552.98,91.13 552.11,89.31C551.23,87.48 549.55,86.02 548.39,82.74C547.22,79.46 544.85,73.98 545.1,69.6C545.36,65.22 548.64,59.38 549.92,56.47C551.2,53.55 551.63,53.36 552.77,52.09C553.9,50.81 556.05,49.35 556.71,48.8Z" fill="#a6dcb9" stroke="#1a1a1a" stroke-width="0.75"/>
<path d="M576.85,34.57C577.11,37.12 577.84,43.69 578.38,49.9C578.93,56.1 579.84,65.95 580.14,71.79C580.43,77.63 580.5,81.65 580.14,84.93C579.77,88.21 578.31,90.4 577.95,91.5L570.28,91.5C570.1,90.4 569.37,88.21 569.19,84.93C569.01,81.65 569.01,77.63 569.19,71.79C569.37,65.95 569.74,56.1 570.28,49.9C570.83,43.69 572.11,37.12 572.47,34.57Z" fill="#a5a1d8" stroke="#1a1a1a" stroke-width="0.75"/>
<circle cx="558.24" cy="49.9" r="2.1" fill="#8ed3a4" stroke="#1a1a1a" stroke-width="0.7"/>
<circle cx="552.77" cy="52.09" r="2.1" fill="#8ed3a4" stroke="#1a1a1a" stroke-width="0.7"/>
<circle cx="553.86" cy="63.03" r="2.1" fill="#8ed3a4" stroke="#1a1a1a" stroke-width="0.7"/>
<circle cx="550.58" cy="67.41" r="2.1" fill="#8ed3a4" stroke="#1a1a1a" stroke-width="0.7"/>
<circle cx="557.14" cy="65.66" r="2.1" fill="#8ed3a4" stroke="#1a1a1a" stroke-width="0.7"/>
<circle cx="554.96" cy="70.7" r="2.1" fill="#8ed3a4" stroke="#1a1a1a" stroke-width="0.7"/>
<circle cx="559.33" cy="73.98" r="2.1" fill="#8ed3a4" stroke="#1a1a1a" stroke-width="0.7"/>
<circle cx="550.58" cy="77.27" r="2.1" fill="#8ed3a4" stroke="#1a1a1a" stroke-width="0.7"/>
<circle cx="553.86" cy="77.27" r="2.1" fill="#8ed3a4" stroke="#1a1a1a" stroke-width="0.7"/>
<circle cx="556.05" cy="81.65" r="2.1" fill="#8ed3a4" stroke="#1a1a1a" stroke-width="0.7"/>
<circle cx="553.86" cy="84.93" r="2.1" fill="#8ed3a4" stroke="#1a1a1a" stroke-width="0.7"/>
<circle cx="552.11" cy="119.53" r="2.1" fill="#8ed3a4" stroke="#1a1a1a" stroke-width="0.7"/>
<circle cx="574" cy="35.66" r="2.1" fill="#9690d4" stroke="#1a1a1a" stroke-width="0.7"/>
<circle cx="573.13" cy="41.14" r="2.1" fill="#9690d4" stroke="#1a1a1a" stroke-width="0.7"/>
<circle cx="576.85" cy="55.37" r="2.1" fill="#9690d4" stroke="#1a1a1a" stroke-width="0.7"/>
<circle cx="571.38" cy="61.94" r="2.1" fill="#9690d4" stroke="#1a1a1a" stroke-width="0.7"/>
<circle cx="574.66" cy="77.27" r="2.1" fill="#9690d4" stroke="#1a1a1a" stroke-width="0.7"/>
<circle cx="578.6" cy="87.12" r="2.1" fill="#9690d4" stroke="#1a1a1a" stroke-width="0.7"/>
<circle cx="576.85" cy="89.75" r="2.1" fill="#9690d4" stroke="#1a1a1a" stroke-width="0.7"/>
<circle cx="575.32" cy="91.5" r="2.1" fill="#9690d4" stroke="#1a1a1a" stroke-width="0.7"/>
<line x1="550.58" x2="559.33" y1="74.42" y2="74.42" stroke="#000" stroke-width="1.5"/>
<line x1="570.28" x2="579.04" y1="73.54" y2="73.54" stroke="#000" stroke-width="1.5"/>
</g>
<rect x="542.4" y="31.3" width="44.2" height="92.1" fill="none" stroke="#333333" stroke-width="0.75"/>
<rect x="542.4" y="8.2" width="44.2" height="11.6" fill="#d9d9d9" stroke="#333333" stroke-width="0.75"/>
<text x="565.92" y="16.09" font-size="6.22" fill="#1a1a1a" text-anchor="middle">Spike_WT</text>
<rect x="542.4" y="19.8" width="44.2" height="11.5" fill="#d9d9d9" stroke="#333333" stroke-width="0.75"/>
<text x="565.92" y="27.64" font-size="6.22" fill="#1a1a1a" text-anchor="middle">ADNP</text>
<line x1="541.1" x2="542.4" y1="38.51" y2="38.51" stroke="#333333" stroke-width="0.6"/>
<text x="540.7" y="41.36" font-size="7.12" fill="#2e2e2e" text-anchor="end" textLength="18.49" lengthAdjust="spacingAndGlyphs">70000</text>
<line x1="541.1" x2="542.4" y1="54.28" y2="54.28" stroke="#333333" stroke-width="0.6"/>
<text x="540.7" y="57.13" font-size="7.12" fill="#2e2e2e" text-anchor="end" textLength="18.49" lengthAdjust="spacingAndGlyphs">60000</text>
<line x1="541.1" x2="542.4" y1="70.26" y2="70.26" stroke="#333333" stroke-width="0.6"/>
<text x="540.7" y="73.11" font-size="7.12" fill="#2e2e2e" text-anchor="end" textLength="18.49" lengthAdjust="spacingAndGlyphs">50000</text>
<line x1="541.1" x2="542.4" y1="86.02" y2="86.02" stroke="#333333" stroke-width="0.6"/>
<text x="540.7" y="88.87" font-size="7.12" fill="#2e2e2e" text-anchor="end" textLength="18.49" lengthAdjust="spacingAndGlyphs">40000</text>
<line x1="541.1" x2="542.4" y1="102.01" y2="102.01" stroke="#333333" stroke-width="0.6"/>
<text x="540.7" y="104.86" font-size="7.12" fill="#2e2e2e" text-anchor="end" textLength="18.49" lengthAdjust="spacingAndGlyphs">30000</text>
<line x1="541.1" x2="542.4" y1="117.77" y2="117.77" stroke="#333333" stroke-width="0.6"/>
<text x="540.7" y="120.62" font-size="7.12" fill="#2e2e2e" text-anchor="end" textLength="18.49" lengthAdjust="spacingAndGlyphs">20000</text>
<line x1="554.45" x2="554.45" y1="123.4" y2="124.7" stroke="#333333" stroke-width="0.6"/>
<text x="555.25" y="126" font-size="6.8" fill="#2e2e2e" text-anchor="end" dominant-baseline="hanging" transform="rotate(-45 555.25 126)">Adult</text>
<line x1="574.55" x2="574.55" y1="123.4" y2="124.7" stroke="#333333" stroke-width="0.6"/>
<text x="575.35" y="126" font-size="6.8" fill="#2e2e2e" text-anchor="end" dominant-baseline="hanging" transform="rotate(-45 575.35 126)">Child</text>
<clipPath id="c3"><rect x="640.5" y="31.3" width="44.4" height="92.1"/></clipPath>
<rect x="640.5" y="31.3" width="44.4" height="92.1" fill="#fff"/>
<g clip-path="url(#c3)">
<line x1="640.5" x2="684.9" y1="48.66" y2="48.66" stroke="#f5f5f5" stroke-width="0.5"/>
<line x1="640.5" x2="684.9" y1="73.84" y2="73.84" stroke="#f5f5f5" stroke-width="0.5"/>
<line x1="640.5" x2="684.9" y1="99.02" y2="99.02" stroke="#f5f5f5" stroke-width="0.5"/>
<line x1="640.5" x2="684.9" y1="36.03" y2="36.03" stroke="#ebebeb" stroke-width="0.7"/>
<line x1="640.5" x2="684.9" y1="61.28" y2="61.28" stroke="#ebebeb" stroke-width="0.7"/>
<line x1="640.5" x2="684.9" y1="86.39" y2="86.39" stroke="#ebebeb" stroke-width="0.7"/>
<line x1="640.5" x2="684.9" y1="111.65" y2="111.65" stroke="#ebebeb" stroke-width="0.7"/>
<line x1="652.61" x2="652.61" y1="31.3" y2="123.4" stroke="#ebebeb" stroke-width="0.7"/>
<line x1="672.79" x2="672.79" y1="31.3" y2="123.4" stroke="#ebebeb" stroke-width="0.7"/>
<path d="M656.53,34.57C656.78,37.12 657.38,41.26 657.99,49.9C658.6,58.54 659.82,76.66 660.18,86.39C660.55,96.13 660.43,102.82 660.18,108.29C659.94,113.77 658.97,117.42 658.72,119.24L646.31,119.24C646.07,117.42 645.1,113.77 644.85,108.29C644.61,102.82 644.49,96.13 644.85,86.39C645.22,76.66 646.44,58.54 647.04,49.9C647.65,41.26 648.26,37.12 648.5,34.57Z" fill="#a6dcb9" stroke="#1a1a1a" stroke-width="0.75"/>
<path d="M681.35,38.95C681.23,41.99 681.11,51.72 680.62,57.2C680.13,62.67 678.8,65.71 678.43,71.8C678.07,77.88 678.55,87.25 678.43,93.69C678.31,100.14 677.82,107.68 677.7,110.48L667.48,110.48C667.36,107.68 666.75,100.14 666.75,93.69C666.75,87.25 667.85,77.88 667.48,71.8C667.12,65.71 665.17,62.67 664.56,57.2C663.95,51.72 663.95,41.99 663.83,38.95Z" fill="#a5a1d8" stroke="#1a1a1a" stroke-width="0.75"/>
<circle cx="651.86" cy="35.3" r="2.1" fill="#8ed3a4" stroke="#1a1a1a" stroke-width="0.7"/>
<circle cx="656.24" cy="42.31" r="2.1" fill="#8ed3a4" stroke="#1a1a1a" stroke-width="0.7"/>
<circle cx="648.94" cy="48.88" r="2.1" fill="#8ed3a4" stroke="#1a1a1a" stroke-width="0.7"/>
<circle cx="650.99" cy="62.31" r="2.1" fill="#8ed3a4" stroke="#1a1a1a" stroke-width="0.7"/>
<circle cx="653.32" cy="73.55" r="2.1" fill="#8ed3a4" stroke="#1a1a1a" stroke-width="0.7"/>
<circle cx="655.51" cy="78.07" r="2.1" fill="#8ed3a4" stroke="#1a1a1a" stroke-width="0.7"/>
<circle cx="653.61" cy="84.2" r="2.1" fill="#8ed3a4" stroke="#1a1a1a" stroke-width="0.7"/>
<circle cx="649.53" cy="95.59" r="2.1" fill="#8ed3a4" stroke="#1a1a1a" stroke-width="0.7"/>
<circle cx="655.36" cy="99.82" r="2.1" fill="#8ed3a4" stroke="#1a1a1a" stroke-width="0.7"/>
<circle cx="651.42" cy="108.29" r="2.1" fill="#8ed3a4" stroke="#1a1a1a" stroke-width="0.7"/>
<circle cx="651.86" cy="113.84" r="2.1" fill="#8ed3a4" stroke="#1a1a1a" stroke-width="0.7"/>
<circle cx="650.4" cy="117.05" r="2.1" fill="#8ed3a4" stroke="#1a1a1a" stroke-width="0.7"/>
<circle cx="651.42" cy="119.68" r="2.1" fill="#8ed3a4" stroke="#1a1a1a" stroke-width="0.7"/>
<circle cx="671.86" cy="39.39" r="2.1" fill="#9690d4" stroke="#1a1a1a" stroke-width="0.7"/>
<circle cx="676.24" cy="43.04" r="2.1" fill="#9690d4" stroke="#1a1a1a" stroke-width="0.7"/>
<circle cx="671.13" cy="44.79" r="2.1" fill="#9690d4" stroke="#1a1a1a" stroke-width="0.7"/>
<circle cx="668.94" cy="48.88" r="2.1" fill="#9690d4" stroke="#1a1a1a" stroke-width="0.7"/>
<circle cx="675.22" cy="61.28" r="2.1" fill="#9690d4" stroke="#1a1a1a" stroke-width="0.7"/>
<circle cx="675.8" cy="80.99" r="2.1" fill="#9690d4" stroke="#1a1a1a" stroke-width="0.7"/>
<circle cx="671.13" cy="96.32" r="2.1" fill="#9690d4" stroke="#1a1a1a" stroke-width="0.7"/>
<circle cx="672.59" cy="101.43" r="2.1" fill="#9690d4" stroke="#1a1a1a" stroke-width="0.7"/>
<circle cx="673.32" cy="110.19" r="2.1" fill="#9690d4" stroke="#1a1a1a" stroke-width="0.7"/>
<line x1="649.23" x2="656.53" y1="83.77" y2="83.77" stroke="#000" stroke-width="1.5"/>
<line x1="668.94" x2="676.97" y1="60.99" y2="60.99" stroke="#000" stroke-width="1.5"/>
</g>
<rect x="640.5" y="31.3" width="44.4" height="92.1" fill="none" stroke="#333333" stroke-width="0.75"/>
<rect x="640.5" y="8.2" width="44.4" height="11.6" fill="#d9d9d9" stroke="#333333" stroke-width="0.75"/>
<text x="664.12" y="16.09" font-size="6.22" fill="#1a1a1a" text-anchor="middle">Spike_WT</text>
<rect x="640.5" y="19.8" width="44.4" height="11.5" fill="#d9d9d9" stroke="#333333" stroke-width="0.75"/>
<text x="664.12" y="27.64" font-size="6.22" fill="#1a1a1a" text-anchor="middle">ADCD</text>
<line x1="639.2" x2="640.5" y1="36.03" y2="36.03" stroke="#333333" stroke-width="0.6"/>
<text x="638.8" y="38.88" font-size="7.12" fill="#2e2e2e" text-anchor="end" textLength="18.68" lengthAdjust="spacingAndGlyphs">7e+05</text>
<line x1="639.2" x2="640.5" y1="61.28" y2="61.28" stroke="#333333" stroke-width="0.6"/>
<text x="638.8" y="64.13" font-size="7.12" fill="#2e2e2e" text-anchor="end" textLength="18.68" lengthAdjust="spacingAndGlyphs">6e+05</text>
<line x1="639.2" x2="640.5" y1="86.39" y2="86.39" stroke="#333333" stroke-width="0.6"/>
<text x="638.8" y="89.24" font-size="7.12" fill="#2e2e2e" text-anchor="end" textLength="18.68" lengthAdjust="spacingAndGlyphs">5e+05</text>
<line x1="639.2" x2="640.5" y1="111.65" y2="111.65" stroke="#333333" stroke-width="0.6"/>
<text x="638.8" y="114.5" font-size="7.12" fill="#2e2e2e" text-anchor="end" textLength="18.68" lengthAdjust="spacingAndGlyphs">4e+05</text>
<line x1="652.61" x2="652.61" y1="123.4" y2="124.7" stroke="#333333" stroke-width="0.6"/>
<text x="653.41" y="126" font-size="6.8" fill="#2e2e2e" text-anchor="end" dominant-baseline="hanging" transform="rotate(-45 653.41 126)">Adult</text>
<line x1="672.79" x2="672.79" y1="123.4" y2="124.7" stroke="#333333" stroke-width="0.6"/>
<text x="673.59" y="126" font-size="6.8" fill="#2e2e2e" text-anchor="end" dominant-baseline="hanging" transform="rotate(-45 673.59 126)">Child</text>
<clipPath id="c4"><rect x="475.5" y="167.8" width="44.4" height="92.1"/></clipPath>
<rect x="475.5" y="167.8" width="44.4" height="92.1" fill="#fff"/>
<g clip-path="url(#c4)">
<line x1="475.5" x2="519.9" y1="187.76" y2="187.76" stroke="#f5f5f5" stroke-width="0.5"/>
<line x1="475.5" x2="519.9" y1="210.31" y2="210.31" stroke="#f5f5f5" stroke-width="0.5"/>
<line x1="475.5" x2="519.9" y1="232.97" y2="232.97" stroke="#f5f5f5" stroke-width="0.5"/>
<line x1="475.5" x2="519.9" y1="255.64" y2="255.64" stroke="#f5f5f5" stroke-width="0.5"/>
<line x1="475.5" x2="519.9" y1="176.48" y2="176.48" stroke="#ebebeb" stroke-width="0.7"/>
<line x1="475.5" x2="519.9" y1="199.03" y2="199.03" stroke="#ebebeb" stroke-width="0.7"/>
<line x1="475.5" x2="519.9" y1="221.59" y2="221.59" stroke="#ebebeb" stroke-width="0.7"/>
<line x1="475.5" x2="519.9" y1="244.36" y2="244.36" stroke="#ebebeb" stroke-width="0.7"/>
<line x1="487.61" x2="487.61" y1="167.8" y2="259.9" stroke="#ebebeb" stroke-width="0.7"/>
<line x1="507.79" x2="507.79" y1="167.8" y2="259.9" stroke="#ebebeb" stroke-width="0.7"/>
<path d="M494.74,218.3C495,218.92 496.27,220.13 496.27,222.02C496.27,223.92 495.29,226.95 494.74,229.69C494.19,232.43 493.65,235.53 492.99,238.45C492.33,241.37 491.53,244.29 490.8,247.21C490.07,250.13 488.97,254.5 488.61,255.96L486.64,255.96C486.35,254.5 485.54,250.13 484.89,247.21C484.23,244.29 483.32,241.37 482.7,238.45C482.08,235.53 481.71,232.43 481.16,229.69C480.62,226.95 479.34,223.92 479.41,222.02C479.49,220.13 481.24,218.92 481.6,218.3Z" fill="#a6dcb9" stroke="#1a1a1a" stroke-width="0.75"/>
<path d="M513.35,177.14C512.99,180.42 511.35,191.01 511.16,196.84C510.98,202.68 512.8,204.69 512.26,212.17C511.71,219.65 508.61,236.8 507.88,241.73L505.69,241.73C505.25,236.8 503.24,219.65 503.06,212.17C502.88,204.69 504.34,202.68 504.59,196.84C504.85,191.01 504.59,180.42 504.59,177.14Z" fill="#a5a1d8" stroke="#1a1a1a" stroke-width="0.75"/>
<circle cx="484.45" cy="219.18" r="2.1" fill="#8ed3a4" stroke="#1a1a1a" stroke-width="0.7"/>
<circle cx="490.36" cy="221.37" r="2.1" fill="#8ed3a4" stroke="#1a1a1a" stroke-width="0.7"/>
<circle cx="481.6" cy="222.68" r="2.1" fill="#8ed3a4" stroke="#1a1a1a" stroke-width="0.7"/>
<circle cx="487.08" cy="227.5" r="2.1" fill="#8ed3a4" stroke="#1a1a1a" stroke-width="0.7"/>
<circle cx="488.61" cy="232.97" r="2.1" fill="#8ed3a4" stroke="#1a1a1a" stroke-width="0.7"/>
<circle cx="485.54" cy="238.45" r="2.1" fill="#8ed3a4" stroke="#1a1a1a" stroke-width="0.7"/>
<circle cx="490.36" cy="241.73" r="2.1" fill="#8ed3a4" stroke="#1a1a1a" stroke-width="0.7"/>
<circle cx="484.89" cy="246.11" r="2.1" fill="#8ed3a4" stroke="#1a1a1a" stroke-width="0.7"/>
<circle cx="488.17" cy="255.96" r="2.1" fill="#8ed3a4" stroke="#1a1a1a" stroke-width="0.7"/>
<circle cx="483.35" cy="222.02" r="2.1" fill="#8ed3a4" stroke="#1a1a1a" stroke-width="0.7"/>
<circle cx="509.63" cy="177.14" r="2.1" fill="#9690d4" stroke="#1a1a1a" stroke-width="0.7"/>
<circle cx="511.16" cy="177.14" r="2.1" fill="#9690d4" stroke="#1a1a1a" stroke-width="0.7"/>
<circle cx="507.88" cy="189.84" r="2.1" fill="#9690d4" stroke="#1a1a1a" stroke-width="0.7"/>
<circle cx="511.16" cy="190.28" r="2.1" fill="#9690d4" stroke="#1a1a1a" stroke-width="0.7"/>
<circle cx="503.94" cy="216.99" r="2.1" fill="#9690d4" stroke="#1a1a1a" stroke-width="0.7"/>
<circle cx="506.13" cy="213.27" r="2.1" fill="#9690d4" stroke="#1a1a1a" stroke-width="0.7"/>
<circle cx="510.07" cy="211.08" r="2.1" fill="#9690d4" stroke="#1a1a1a" stroke-width="0.7"/>
<circle cx="506.78" cy="241.07" r="2.1" fill="#9690d4" stroke="#1a1a1a" stroke-width="0.7"/>
<line x1="483.79" x2="491.46" y1="226.84" y2="226.84" stroke="#000" stroke-width="1.5"/>
<line x1="503.5" x2="511.82" y1="210.64" y2="210.64" stroke="#000" stroke-width="1.5"/>
</g>
<text x="501.31" y="172.93" font-size="4.66" fill="#111" text-anchor="middle">p = 0.00518</text>
<rect x="475.5" y="167.8" width="44.4" height="92.1" fill="none" stroke="#333333" stroke-width="0.75"/>
<rect x="475.5" y="144.4" width="44.4" height="11.7" fill="#d9d9d9" stroke="#333333" stroke-width="0.75"/>
<text x="499.12" y="152.34" font-size="6.22" fill="#1a1a1a" text-anchor="middle">RBD_WT</text>
<rect x="475.5" y="156.1" width="44.4" height="11.7" fill="#d9d9d9" stroke="#333333" stroke-width="0.75"/>
<text x="499.12" y="164.04" font-size="6.22" fill="#1a1a1a" text-anchor="middle">ADCP</text>
<line x1="474.2" x2="475.5" y1="176.48" y2="176.48" stroke="#333333" stroke-width="0.6"/>
<text x="473.8" y="179.33" font-size="7.12" fill="#2e2e2e" text-anchor="end" textLength="18.49" lengthAdjust="spacingAndGlyphs">12500</text>
<line x1="474.2" x2="475.5" y1="199.03" y2="199.03" stroke="#333333" stroke-width="0.6"/>
<text x="473.8" y="201.88" font-size="7.12" fill="#2e2e2e" text-anchor="end" textLength="18.49" lengthAdjust="spacingAndGlyphs">10000</text>
<line x1="474.2" x2="475.5" y1="221.59" y2="221.59" stroke="#333333" stroke-width="0.6"/>
<text x="473.8" y="224.44" font-size="7.12" fill="#2e2e2e" text-anchor="end" textLength="14.79" lengthAdjust="spacingAndGlyphs">7500</text>
<line x1="474.2" x2="475.5" y1="244.36" y2="244.36" stroke="#333333" stroke-width="0.6"/>
<text x="473.8" y="247.21" font-size="7.12" fill="#2e2e2e" text-anchor="end" textLength="14.79" lengthAdjust="spacingAndGlyphs">5000</text>
<line x1="487.61" x2="487.61" y1="259.9" y2="261.2" stroke="#333333" stroke-width="0.6"/>
<text x="488.41" y="262.5" font-size="6.8" fill="#2e2e2e" text-anchor="end" dominant-baseline="hanging" transform="rotate(-45 488.41 262.5)">Adult</text>
<line x1="507.79" x2="507.79" y1="259.9" y2="261.2" stroke="#333333" stroke-width="0.6"/>
<text x="508.59" y="262.5" font-size="6.8" fill="#2e2e2e" text-anchor="end" dominant-baseline="hanging" transform="rotate(-45 508.59 262.5)">Child</text>
<clipPath id="c5"><rect x="542.4" y="167.8" width="44.2" height="92.1"/></clipPath>
<rect x="542.4" y="167.8" width="44.2" height="92.1" fill="#fff"/>
<g clip-path="url(#c5)">
<line x1="542.4" x2="586.6" y1="172.1" y2="172.1" stroke="#f5f5f5" stroke-width="0.5"/>
<line x1="542.4" x2="586.6" y1="187.87" y2="187.87" stroke="#f5f5f5" stroke-width="0.5"/>
<line x1="542.4" x2="586.6" y1="203.52" y2="203.52" stroke="#f5f5f5" stroke-width="0.5"/>
<line x1="542.4" x2="586.6" y1="219.07" y2="219.07" stroke="#f5f5f5" stroke-width="0.5"/>
<line x1="542.4" x2="586.6" y1="234.62" y2="234.62" stroke="#f5f5f5" stroke-width="0.5"/>
<line x1="542.4" x2="586.6" y1="250.27" y2="250.27" stroke="#f5f5f5" stroke-width="0.5"/>
<line x1="542.4" x2="586.6" y1="179.98" y2="179.98" stroke="#ebebeb" stroke-width="0.7"/>
<line x1="542.4" x2="586.6" y1="195.75" y2="195.75" stroke="#ebebeb" stroke-width="0.7"/>
<line x1="542.4" x2="586.6" y1="211.3" y2="211.3" stroke="#ebebeb" stroke-width="0.7"/>
<line x1="542.4" x2="586.6" y1="226.84" y2="226.84" stroke="#ebebeb" stroke-width="0.7"/>
<line x1="542.4" x2="586.6" y1="242.39" y2="242.39" stroke="#ebebeb" stroke-width="0.7"/>
<line x1="542.4" x2="586.6" y1="258.15" y2="258.15" stroke="#ebebeb" stroke-width="0.7"/>
<line x1="554.45" x2="554.45" y1="167.8" y2="259.9" stroke="#ebebeb" stroke-width="0.7"/>
<line x1="574.55" x2="574.55" y1="167.8" y2="259.9" stroke="#ebebeb" stroke-width="0.7"/>
<path d="M560.43,211.73C560.65,212.35 561.38,212.46 561.74,215.46C562.11,218.45 563.02,225.86 562.62,229.69C562.22,233.52 560.43,234.07 559.33,238.45C558.24,242.83 556.6,253.04 556.05,255.96L553.86,255.96C553.31,253.04 551.67,242.83 550.58,238.45C549.48,234.07 547.73,233.52 547.29,229.69C546.85,225.86 547.58,218.45 547.95,215.46C548.31,212.46 549.23,212.35 549.48,211.73Z" fill="#a6dcb9" stroke="#1a1a1a" stroke-width="0.75"/>
<path d="M577.95,176.04C578.68,177.69 581.23,182.79 582.33,185.9C583.42,189 584.88,191.01 584.51,194.65C584.15,198.3 581.41,203.41 580.14,207.79C578.86,212.17 577.87,216.55 576.85,220.93C575.83,225.31 574.48,231.88 574,234.07L572.47,234.07C572.47,231.88 572.84,225.31 572.47,220.93C572.11,216.55 571.27,212.17 570.28,207.79C569.3,203.41 566.56,198.3 566.56,194.65C566.56,191.01 568.75,189 570.28,185.9C571.82,182.79 574.84,177.69 575.76,176.04Z" fill="#a5a1d8" stroke="#1a1a1a" stroke-width="0.75"/>
<circle cx="550.58" cy="212.61" r="2.1" fill="#8ed3a4" stroke="#1a1a1a" stroke-width="0.7"/>
<circle cx="554.96" cy="212.17" r="2.1" fill="#8ed3a4" stroke="#1a1a1a" stroke-width="0.7"/>
<circle cx="553.86" cy="221.37" r="2.1" fill="#8ed3a4" stroke="#1a1a1a" stroke-width="0.7"/>
<circle cx="557.8" cy="221.37" r="2.1" fill="#8ed3a4" stroke="#1a1a1a" stroke-width="0.7"/>
<circle cx="551.67" cy="227.5" r="2.1" fill="#8ed3a4" stroke="#1a1a1a" stroke-width="0.7"/>
<circle cx="556.05" cy="229.69" r="2.1" fill="#8ed3a4" stroke="#1a1a1a" stroke-width="0.7"/>
<circle cx="553.42" cy="233.63" r="2.1" fill="#8ed3a4" stroke="#1a1a1a" stroke-width="0.7"/>
<circle cx="555.61" cy="234.51" r="2.1" fill="#8ed3a4" stroke="#1a1a1a" stroke-width="0.7"/>
<circle cx="552.11" cy="245.45" r="2.1" fill="#8ed3a4" stroke="#1a1a1a" stroke-width="0.7"/>
<circle cx="557.14" cy="255.96" r="2.1" fill="#8ed3a4" stroke="#1a1a1a" stroke-width="0.7"/>
<circle cx="576.85" cy="176.04" r="2.1" fill="#9690d4" stroke="#1a1a1a" stroke-width="0.7"/>
<circle cx="575.76" cy="186.99" r="2.1" fill="#9690d4" stroke="#1a1a1a" stroke-width="0.7"/>
<circle cx="571.38" cy="192.03" r="2.1" fill="#9690d4" stroke="#1a1a1a" stroke-width="0.7"/>
<circle cx="579.04" cy="192.47" r="2.1" fill="#9690d4" stroke="#1a1a1a" stroke-width="0.7"/>
<circle cx="574.66" cy="198.6" r="2.1" fill="#9690d4" stroke="#1a1a1a" stroke-width="0.7"/>
<circle cx="578.38" cy="205.16" r="2.1" fill="#9690d4" stroke="#1a1a1a" stroke-width="0.7"/>
<circle cx="572.91" cy="208.23" r="2.1" fill="#9690d4" stroke="#1a1a1a" stroke-width="0.7"/>
<circle cx="573.13" cy="233.63" r="2.1" fill="#9690d4" stroke="#1a1a1a" stroke-width="0.7"/>
<line x1="550.58" x2="559.33" y1="225.97" y2="225.97" stroke="#000" stroke-width="1.5"/>
<line x1="571.38" x2="579.04" y1="195.31" y2="195.31" stroke="#000" stroke-width="1.5"/>
</g>
<text x="569.19" y="172.93" font-size="4.66" fill="#111" text-anchor="middle">p = 0.00518</text>
<rect x="542.4" y="167.8" width="44.2" height="92.1" fill="none" stroke="#333333" stroke-width="0.75"/>
<rect x="542.4" y="144.4" width="44.2" height="11.7" fill="#d9d9d9" stroke="#333333" stroke-width="0.75"/>
<text x="565.92" y="152.34" font-size="6.22" fill="#1a1a1a" text-anchor="middle">RBD_WT</text>
<rect x="542.4" y="156.1" width="44.2" height="11.7" fill="#d9d9d9" stroke="#333333" stroke-width="0.75"/>
<text x="565.92" y="164.04" font-size="6.22" fill="#1a1a1a" text-anchor="middle">ADNP</text>
<line x1="541.1" x2="542.4" y1="179.98" y2="179.98" stroke="#333333" stroke-width="0.6"/>
<text x="540.7" y="182.83" font-size="7.12" fill="#2e2e2e" text-anchor="end" textLength="11.1" lengthAdjust="spacingAndGlyphs">800</text>
<line x1="541.1" x2="542.4" y1="195.75" y2="195.75" stroke="#333333" stroke-width="0.6"/>
<text x="540.7" y="198.6" font-size="7.12" fill="#2e2e2e" text-anchor="end" textLength="11.1" lengthAdjust="spacingAndGlyphs">700</text>
<line x1="541.1" x2="542.4" y1="211.3" y2="211.3" stroke="#333333" stroke-width="0.6"/>
<text x="540.7" y="214.15" font-size="7.12" fill="#2e2e2e" text-anchor="end" textLength="11.1" lengthAdjust="spacingAndGlyphs">600</text>
<line x1="541.1" x2="542.4" y1="226.84" y2="226.84" stroke="#333333" stroke-width="0.6"/>
<text x="540.7" y="229.69" font-size="7.12" fill="#2e2e2e" text-anchor="end" textLength="11.1" lengthAdjust="spacingAndGlyphs">500</text>
<line x1="541.1" x2="542.4" y1="242.39" y2="242.39" stroke="#333333" stroke-width="0.6"/>
<text x="540.7" y="245.24" font-size="7.12" fill="#2e2e2e" text-anchor="end" textLength="11.1" lengthAdjust="spacingAndGlyphs">400</text>
<line x1="541.1" x2="542.4" y1="258.15" y2="258.15" stroke="#333333" stroke-width="0.6"/>
<text x="540.7" y="261" font-size="7.12" fill="#2e2e2e" text-anchor="end" textLength="11.1" lengthAdjust="spacingAndGlyphs">300</text>
<line x1="554.45" x2="554.45" y1="259.9" y2="261.2" stroke="#333333" stroke-width="0.6"/>
<text x="555.25" y="262.5" font-size="6.8" fill="#2e2e2e" text-anchor="end" dominant-baseline="hanging" transform="rotate(-45 555.25 262.5)">Adult</text>
<line x1="574.55" x2="574.55" y1="259.9" y2="261.2" stroke="#333333" stroke-width="0.6"/>
<text x="575.35" y="262.5" font-size="6.8" fill="#2e2e2e" text-anchor="end" dominant-baseline="hanging" transform="rotate(-45 575.35 262.5)">Child</text>
<clipPath id="c6"><rect x="640.5" y="167.8" width="44.4" height="92.1"/></clipPath>
<rect x="640.5" y="167.8" width="44.4" height="92.1" fill="#fff"/>
<g clip-path="url(#c6)">
<line x1="640.5" x2="684.9" y1="170.13" y2="170.13" stroke="#f5f5f5" stroke-width="0.5"/>
<line x1="640.5" x2="684.9" y1="193.49" y2="193.49" stroke="#f5f5f5" stroke-width="0.5"/>
<line x1="640.5" x2="684.9" y1="216.85" y2="216.85" stroke="#f5f5f5" stroke-width="0.5"/>
<line x1="640.5" x2="684.9" y1="240.2" y2="240.2" stroke="#f5f5f5" stroke-width="0.5"/>
<line x1="640.5" x2="684.9" y1="181.81" y2="181.81" stroke="#ebebeb" stroke-width="0.7"/>
<line x1="640.5" x2="684.9" y1="205.17" y2="205.17" stroke="#ebebeb" stroke-width="0.7"/>
<line x1="640.5" x2="684.9" y1="228.53" y2="228.53" stroke="#ebebeb" stroke-width="0.7"/>
<line x1="640.5" x2="684.9" y1="251.88" y2="251.88" stroke="#ebebeb" stroke-width="0.7"/>
<line x1="652.61" x2="652.61" y1="167.8" y2="259.9" stroke="#ebebeb" stroke-width="0.7"/>
<line x1="672.79" x2="672.79" y1="167.8" y2="259.9" stroke="#ebebeb" stroke-width="0.7"/>
<path d="M657.99,171.3C658.11,174.95 658.24,183.46 658.72,193.2C659.21,202.93 660.91,219.23 660.91,229.69C660.91,240.16 659.09,251.59 658.72,255.97L646.31,255.97C646.07,251.59 644.85,240.16 644.85,229.69C644.85,219.23 645.95,202.93 646.31,193.2C646.68,183.46 646.92,174.95 647.04,171.3Z" fill="#a6dcb9" stroke="#1a1a1a" stroke-width="0.75"/>
<path d="M679.89,177.14C680.13,179.82 681.59,185.65 681.35,193.2C681.11,200.74 678.92,213.88 678.43,222.39C677.94,230.91 678.43,239.06 678.43,244.29C678.43,249.52 678.43,252.2 678.43,253.78L667.48,253.78C667.36,252.2 666.87,249.52 666.75,244.29C666.63,239.06 667.24,230.91 666.75,222.39C666.27,213.88 664.08,200.74 663.83,193.2C663.59,185.65 665.05,179.82 665.29,177.14Z" fill="#a5a1d8" stroke="#1a1a1a" stroke-width="0.75"/>
<circle cx="651.42" cy="173.49" r="2.1" fill="#8ed3a4" stroke="#1a1a1a" stroke-width="0.7"/>
<circle cx="653.61" cy="171.3" r="2.1" fill="#8ed3a4" stroke="#1a1a1a" stroke-width="0.7"/>
<circle cx="656.24" cy="179.33" r="2.1" fill="#8ed3a4" stroke="#1a1a1a" stroke-width="0.7"/>
<circle cx="648.94" cy="182.98" r="2.1" fill="#8ed3a4" stroke="#1a1a1a" stroke-width="0.7"/>
<circle cx="653.32" cy="207.8" r="2.1" fill="#8ed3a4" stroke="#1a1a1a" stroke-width="0.7"/>
<circle cx="655.07" cy="209.99" r="2.1" fill="#8ed3a4" stroke="#1a1a1a" stroke-width="0.7"/>
<circle cx="650.69" cy="212.18" r="2.1" fill="#8ed3a4" stroke="#1a1a1a" stroke-width="0.7"/>
<circle cx="651.42" cy="234.07" r="2.1" fill="#8ed3a4" stroke="#1a1a1a" stroke-width="0.7"/>
<circle cx="649.53" cy="236.26" r="2.1" fill="#8ed3a4" stroke="#1a1a1a" stroke-width="0.7"/>
<circle cx="655.07" cy="239.62" r="2.1" fill="#8ed3a4" stroke="#1a1a1a" stroke-width="0.7"/>
<circle cx="651.42" cy="253.05" r="2.1" fill="#8ed3a4" stroke="#1a1a1a" stroke-width="0.7"/>
<circle cx="651.42" cy="255.97" r="2.1" fill="#8ed3a4" stroke="#1a1a1a" stroke-width="0.7"/>
<circle cx="669.38" cy="177.43" r="2.1" fill="#9690d4" stroke="#1a1a1a" stroke-width="0.7"/>
<circle cx="676.24" cy="179.77" r="2.1" fill="#9690d4" stroke="#1a1a1a" stroke-width="0.7"/>
<circle cx="671.86" cy="186.63" r="2.1" fill="#9690d4" stroke="#1a1a1a" stroke-width="0.7"/>
<circle cx="670.84" cy="201.23" r="2.1" fill="#9690d4" stroke="#1a1a1a" stroke-width="0.7"/>
<circle cx="675.51" cy="204.88" r="2.1" fill="#9690d4" stroke="#1a1a1a" stroke-width="0.7"/>
<circle cx="676.24" cy="209.99" r="2.1" fill="#9690d4" stroke="#1a1a1a" stroke-width="0.7"/>
<circle cx="673.76" cy="244" r="2.1" fill="#9690d4" stroke="#1a1a1a" stroke-width="0.7"/>
<circle cx="670.84" cy="251.3" r="2.1" fill="#9690d4" stroke="#1a1a1a" stroke-width="0.7"/>
<circle cx="672.59" cy="254.22" r="2.1" fill="#9690d4" stroke="#1a1a1a" stroke-width="0.7"/>
<line x1="649.23" x2="656.53" y1="211.88" y2="211.88" stroke="#000" stroke-width="1.5"/>
<line x1="668.94" x2="677.26" y1="204.88" y2="204.88" stroke="#000" stroke-width="1.5"/>
</g>
<rect x="640.5" y="167.8" width="44.4" height="92.1" fill="none" stroke="#333333" stroke-width="0.75"/>
<rect x="640.5" y="144.4" width="44.4" height="11.7" fill="#d9d9d9" stroke="#333333" stroke-width="0.75"/>
<text x="664.12" y="152.34" font-size="6.22" fill="#1a1a1a" text-anchor="middle">RBD_WT</text>
<rect x="640.5" y="156.1" width="44.4" height="11.7" fill="#d9d9d9" stroke="#333333" stroke-width="0.75"/>
<text x="664.12" y="164.04" font-size="6.22" fill="#1a1a1a" text-anchor="middle">ADCD</text>
<line x1="639.2" x2="640.5" y1="181.81" y2="181.81" stroke="#333333" stroke-width="0.6"/>
<text x="638.8" y="184.66" font-size="7.12" fill="#2e2e2e" text-anchor="end" textLength="18.68" lengthAdjust="spacingAndGlyphs">8e+05</text>
<line x1="639.2" x2="640.5" y1="205.17" y2="205.17" stroke="#333333" stroke-width="0.6"/>
<text x="638.8" y="208.02" font-size="7.12" fill="#2e2e2e" text-anchor="end" textLength="18.68" lengthAdjust="spacingAndGlyphs">7e+05</text>
<line x1="639.2" x2="640.5" y1="228.53" y2="228.53" stroke="#333333" stroke-width="0.6"/>
<text x="638.8" y="231.38" font-size="7.12" fill="#2e2e2e" text-anchor="end" textLength="18.68" lengthAdjust="spacingAndGlyphs">6e+05</text>
<line x1="639.2" x2="640.5" y1="251.88" y2="251.88" stroke="#333333" stroke-width="0.6"/>
<text x="638.8" y="254.73" font-size="7.12" fill="#2e2e2e" text-anchor="end" textLength="18.68" lengthAdjust="spacingAndGlyphs">5e+05</text>
<line x1="652.61" x2="652.61" y1="259.9" y2="261.2" stroke="#333333" stroke-width="0.6"/>
<text x="653.41" y="262.5" font-size="6.8" fill="#2e2e2e" text-anchor="end" dominant-baseline="hanging" transform="rotate(-45 653.41 262.5)">Adult</text>
<line x1="672.79" x2="672.79" y1="259.9" y2="261.2" stroke="#333333" stroke-width="0.6"/>
<text x="673.59" y="262.5" font-size="6.8" fill="#2e2e2e" text-anchor="end" dominant-baseline="hanging" transform="rotate(-45 673.59 262.5)">Child</text>
<text x="2.4" y="13.6" font-size="15.6" fill="#1a1a1a">A</text>
<text x="455.4" y="15.6" font-size="15.6" fill="#1a1a1a">C</text>
<text x="3.6" y="298" font-size="15.6" fill="#1a1a1a">B</text>
<text x="360.4" y="301" font-size="15.6" fill="#1a1a1a">D</text>
<text x="4.9" y="585.1" font-size="15.6" fill="#1a1a1a">E</text>
<text x="0" y="0" font-size="6.4" fill="#111" text-anchor="middle" transform="translate(6.8 144) rotate(-90)">log10(MFI)</text>
<text x="0" y="0" font-size="6.4" fill="#111" text-anchor="middle" transform="translate(6.4 429.4) rotate(-90)">log10(MFI)</text>
<text x="0" y="0" font-size="6.8" fill="#111" text-anchor="middle" transform="translate(452.9 143.5) rotate(-90)">Phagocytic score</text>
<text x="0" y="0" font-size="6.4" fill="#111" text-anchor="middle" transform="translate(613.6 138.4) rotate(-90)">MFI</text>
<rect x="424.2" y="296.2" width="203.7" height="315.2" fill="#fbeef0"/>
<rect x="425.2" y="297.2" width="16.81" height="19.56" fill="#e3e1f0" stroke="#f6cdd0" stroke-width="0.55"/>
<rect x="442.01" y="297.2" width="16.81" height="19.56" fill="#ffffff" stroke="#f6cdd0" stroke-width="0.55"/>
<rect x="458.82" y="297.2" width="16.81" height="19.56" fill="#8780c1" stroke="#f6cdd0" stroke-width="0.55"/>
<rect x="475.62" y="297.2" width="16.81" height="19.56" fill="#ffffff" stroke="#f6cdd0" stroke-width="0.55"/>
<rect x="492.43" y="297.2" width="16.81" height="19.56" fill="#c0bcde" stroke="#f6cdd0" stroke-width="0.55"/>
<rect x="509.24" y="297.2" width="16.81" height="19.56" fill="#bfe3cc" stroke="#f6cdd0" stroke-width="0.55"/>
<rect x="526.05" y="297.2" width="16.81" height="19.56" fill="#90cda6" stroke="#f6cdd0" stroke-width="0.55"/>
<rect x="542.86" y="297.2" width="16.81" height="19.56" fill="#88caa0" stroke="#f6cdd0" stroke-width="0.55"/>
<rect x="559.67" y="297.2" width="16.81" height="19.56" fill="#fcfcfe" stroke="#f6cdd0" stroke-width="0.55"/>
<rect x="576.48" y="297.2" width="16.81" height="19.56" fill="#f2f9f5" stroke="#f6cdd0" stroke-width="0.55"/>
<rect x="593.28" y="297.2" width="16.81" height="19.56" fill="#f5fbf7" stroke="#f6cdd0" stroke-width="0.55"/>
<rect x="610.09" y="297.2" width="16.81" height="19.56" fill="#dff1e6" stroke="#f6cdd0" stroke-width="0.55"/>
<rect x="425.2" y="316.76" width="16.81" height="19.56" fill="#d5d2e9" stroke="#f6cdd0" stroke-width="0.55"/>
<rect x="442.01" y="316.76" width="16.81" height="19.56" fill="#f8f8fb" stroke="#f6cdd0" stroke-width="0.55"/>
<rect x="458.82" y="316.76" width="16.81" height="19.56" fill="#f8f8fb" stroke="#f6cdd0" stroke-width="0.55"/>
<rect x="475.62" y="316.76" width="16.81" height="19.56" fill="#f8f8fb" stroke="#f6cdd0" stroke-width="0.55"/>
<rect x="492.43" y="316.76" width="16.81" height="19.56" fill="#ffffff" stroke="#f6cdd0" stroke-width="0.55"/>
<rect x="509.24" y="316.76" width="16.81" height="19.56" fill="#bfe3cc" stroke="#f6cdd0" stroke-width="0.55"/>
<rect x="526.05" y="316.76" width="16.81" height="19.56" fill="#98d1ac" stroke="#f6cdd0" stroke-width="0.55"/>
<rect x="542.86" y="316.76" width="16.81" height="19.56" fill="#88caa0" stroke="#f6cdd0" stroke-width="0.55"/>
<rect x="559.67" y="316.76" width="16.81" height="19.56" fill="#c0bcde" stroke="#f6cdd0" stroke-width="0.55"/>
<rect x="576.48" y="316.76" width="16.81" height="19.56" fill="#eff8f2" stroke="#f6cdd0" stroke-width="0.55"/>
<rect x="593.28" y="316.76" width="16.81" height="19.56" fill="#dcdaed" stroke="#f6cdd0" stroke-width="0.55"/>
<rect x="610.09" y="316.76" width="16.81" height="19.56" fill="#dff1e6" stroke="#f6cdd0" stroke-width="0.55"/>
<rect x="425.2" y="336.31" width="16.81" height="19.56" fill="#c7e6d3" stroke="#f6cdd0" stroke-width="0.55"/>
<rect x="442.01" y="336.31" width="16.81" height="19.56" fill="#f7fbf9" stroke="#f6cdd0" stroke-width="0.55"/>
<rect x="458.82" y="336.31" width="16.81" height="19.56" fill="#b0dcc0" stroke="#f6cdd0" stroke-width="0.55"/>
<rect x="475.62" y="336.31" width="16.81" height="19.56" fill="#eae9f4" stroke="#f6cdd0" stroke-width="0.55"/>
<rect x="492.43" y="336.31" width="16.81" height="19.56" fill="#f1f0f8" stroke="#f6cdd0" stroke-width="0.55"/>
<rect x="509.24" y="336.31" width="16.81" height="19.56" fill="#e7f4ec" stroke="#f6cdd0" stroke-width="0.55"/>
<rect x="526.05" y="336.31" width="16.81" height="19.56" fill="#a0d4b3" stroke="#f6cdd0" stroke-width="0.55"/>
<rect x="542.86" y="336.31" width="16.81" height="19.56" fill="#88caa0" stroke="#f6cdd0" stroke-width="0.55"/>
<rect x="559.67" y="336.31" width="16.81" height="19.56" fill="#dff1e6" stroke="#f6cdd0" stroke-width="0.55"/>
<rect x="576.48" y="336.31" width="16.81" height="19.56" fill="#e7f4ec" stroke="#f6cdd0" stroke-width="0.55"/>
<rect x="593.28" y="336.31" width="16.81" height="19.56" fill="#fbfbfd" stroke="#f6cdd0" stroke-width="0.55"/>
<rect x="610.09" y="336.31" width="16.81" height="19.56" fill="#dcdaed" stroke="#f6cdd0" stroke-width="0.55"/>
<rect x="425.2" y="355.87" width="16.81" height="19.56" fill="#aaa6d3" stroke="#f6cdd0" stroke-width="0.55"/>
<rect x="442.01" y="355.87" width="16.81" height="19.56" fill="#dcdaed" stroke="#f6cdd0" stroke-width="0.55"/>
<rect x="458.82" y="355.87" width="16.81" height="19.56" fill="#dcdaed" stroke="#f6cdd0" stroke-width="0.55"/>
<rect x="475.62" y="355.87" width="16.81" height="19.56" fill="#f2f9f5" stroke="#f6cdd0" stroke-width="0.55"/>
<rect x="492.43" y="355.87" width="16.81" height="19.56" fill="#8e88c5" stroke="#f6cdd0" stroke-width="0.55"/>
<rect x="509.24" y="355.87" width="16.81" height="19.56" fill="#e7f4ec" stroke="#f6cdd0" stroke-width="0.55"/>
<rect x="526.05" y="355.87" width="16.81" height="19.56" fill="#90cda6" stroke="#f6cdd0" stroke-width="0.55"/>
<rect x="542.86" y="355.87" width="16.81" height="19.56" fill="#88caa0" stroke="#f6cdd0" stroke-width="0.55"/>
<rect x="559.67" y="355.87" width="16.81" height="19.56" fill="#f4f3f9" stroke="#f6cdd0" stroke-width="0.55"/>
<rect x="576.48" y="355.87" width="16.81" height="19.56" fill="#e7f4ec" stroke="#f6cdd0" stroke-width="0.55"/>
<rect x="593.28" y="355.87" width="16.81" height="19.56" fill="#f4f3f9" stroke="#f6cdd0" stroke-width="0.55"/>
<rect x="610.09" y="355.87" width="16.81" height="19.56" fill="#f2f9f5" stroke="#f6cdd0" stroke-width="0.55"/>
<rect x="425.2" y="375.43" width="16.81" height="19.56" fill="#ffffff" stroke="#f6cdd0" stroke-width="0.55"/>
<rect x="442.01" y="375.43" width="16.81" height="19.56" fill="#ffffff" stroke="#f6cdd0" stroke-width="0.55"/>
<rect x="458.82" y="375.43" width="16.81" height="19.56" fill="#f7fbf9" stroke="#f6cdd0" stroke-width="0.55"/>
<rect x="475.62" y="375.43" width="16.81" height="19.56" fill="#eeedf6" stroke="#f6cdd0" stroke-width="0.55"/>
<rect x="492.43" y="375.43" width="16.81" height="19.56" fill="#eeedf6" stroke="#f6cdd0" stroke-width="0.55"/>
<rect x="509.24" y="375.43" width="16.81" height="19.56" fill="#d7eddf" stroke="#f6cdd0" stroke-width="0.55"/>
<rect x="526.05" y="375.43" width="16.81" height="19.56" fill="#b0dcc0" stroke="#f6cdd0" stroke-width="0.55"/>
<rect x="542.86" y="375.43" width="16.81" height="19.56" fill="#90cda6" stroke="#f6cdd0" stroke-width="0.55"/>
<rect x="559.67" y="375.43" width="16.81" height="19.56" fill="#e3e1f0" stroke="#f6cdd0" stroke-width="0.55"/>
<rect x="576.48" y="375.43" width="16.81" height="19.56" fill="#ffffff" stroke="#f6cdd0" stroke-width="0.55"/>
<rect x="593.28" y="375.43" width="16.81" height="19.56" fill="#dcdaed" stroke="#f6cdd0" stroke-width="0.55"/>
<rect x="610.09" y="375.43" width="16.81" height="19.56" fill="#f4faf6" stroke="#f6cdd0" stroke-width="0.55"/>
<rect x="425.2" y="394.98" width="16.81" height="19.56" fill="#d8d5eb" stroke="#f6cdd0" stroke-width="0.55"/>
<rect x="442.01" y="394.98" width="16.81" height="19.56" fill="#f8f8fb" stroke="#f6cdd0" stroke-width="0.55"/>
<rect x="458.82" y="394.98" width="16.81" height="19.56" fill="#8780c1" stroke="#f6cdd0" stroke-width="0.55"/>
<rect x="475.62" y="394.98" width="16.81" height="19.56" fill="#e3e1f0" stroke="#f6cdd0" stroke-width="0.55"/>
<rect x="492.43" y="394.98" width="16.81" height="19.56" fill="#dcdaed" stroke="#f6cdd0" stroke-width="0.55"/>
<rect x="509.24" y="394.98" width="16.81" height="19.56" fill="#90cda6" stroke="#f6cdd0" stroke-width="0.55"/>
<rect x="526.05" y="394.98" width="16.81" height="19.56" fill="#b7dfc6" stroke="#f6cdd0" stroke-width="0.55"/>
<rect x="542.86" y="394.98" width="16.81" height="19.56" fill="#bfe3cc" stroke="#f6cdd0" stroke-width="0.55"/>
<rect x="559.67" y="394.98" width="16.81" height="19.56" fill="#f8f8fb" stroke="#f6cdd0" stroke-width="0.55"/>
<rect x="576.48" y="394.98" width="16.81" height="19.56" fill="#ffffff" stroke="#f6cdd0" stroke-width="0.55"/>
<rect x="593.28" y="394.98" width="16.81" height="19.56" fill="#d5d2e9" stroke="#f6cdd0" stroke-width="0.55"/>
<rect x="610.09" y="394.98" width="16.81" height="19.56" fill="#eae9f4" stroke="#f6cdd0" stroke-width="0.55"/>
<rect x="425.2" y="414.54" width="16.81" height="19.56" fill="#e6e4f2" stroke="#f6cdd0" stroke-width="0.55"/>
<rect x="442.01" y="414.54" width="16.81" height="19.56" fill="#ffffff" stroke="#f6cdd0" stroke-width="0.55"/>
<rect x="458.82" y="414.54" width="16.81" height="19.56" fill="#9c97cc" stroke="#f6cdd0" stroke-width="0.55"/>
<rect x="475.62" y="414.54" width="16.81" height="19.56" fill="#f2f9f5" stroke="#f6cdd0" stroke-width="0.55"/>
<rect x="492.43" y="414.54" width="16.81" height="19.56" fill="#cecbe5" stroke="#f6cdd0" stroke-width="0.55"/>
<rect x="509.24" y="414.54" width="16.81" height="19.56" fill="#d7eddf" stroke="#f6cdd0" stroke-width="0.55"/>
<rect x="526.05" y="414.54" width="16.81" height="19.56" fill="#90cda6" stroke="#f6cdd0" stroke-width="0.55"/>
<rect x="542.86" y="414.54" width="16.81" height="19.56" fill="#90cda6" stroke="#f6cdd0" stroke-width="0.55"/>
<rect x="559.67" y="414.54" width="16.81" height="19.56" fill="#f9f9fc" stroke="#f6cdd0" stroke-width="0.55"/>
<rect x="576.48" y="414.54" width="16.81" height="19.56" fill="#e7f4ec" stroke="#f6cdd0" stroke-width="0.55"/>
<rect x="593.28" y="414.54" width="16.81" height="19.56" fill="#ffffff" stroke="#f6cdd0" stroke-width="0.55"/>
<rect x="610.09" y="414.54" width="16.81" height="19.56" fill="#fcfcfe" stroke="#f6cdd0" stroke-width="0.55"/>
<rect x="425.2" y="434.09" width="16.81" height="19.56" fill="#f1f0f8" stroke="#f6cdd0" stroke-width="0.55"/>
<rect x="442.01" y="434.09" width="16.81" height="19.56" fill="#fcfcfe" stroke="#f6cdd0" stroke-width="0.55"/>
<rect x="458.82" y="434.09" width="16.81" height="19.56" fill="#a39ed0" stroke="#f6cdd0" stroke-width="0.55"/>
<rect x="475.62" y="434.09" width="16.81" height="19.56" fill="#e7f4ec" stroke="#f6cdd0" stroke-width="0.55"/>
<rect x="492.43" y="434.09" width="16.81" height="19.56" fill="#cecbe5" stroke="#f6cdd0" stroke-width="0.55"/>
<rect x="509.24" y="434.09" width="16.81" height="19.56" fill="#cfead9" stroke="#f6cdd0" stroke-width="0.55"/>
<rect x="526.05" y="434.09" width="16.81" height="19.56" fill="#88caa0" stroke="#f6cdd0" stroke-width="0.55"/>
<rect x="542.86" y="434.09" width="16.81" height="19.56" fill="#88caa0" stroke="#f6cdd0" stroke-width="0.55"/>
<rect x="559.67" y="434.09" width="16.81" height="19.56" fill="#eae9f4" stroke="#f6cdd0" stroke-width="0.55"/>
<rect x="576.48" y="434.09" width="16.81" height="19.56" fill="#eff8f2" stroke="#f6cdd0" stroke-width="0.55"/>
<rect x="593.28" y="434.09" width="16.81" height="19.56" fill="#f4f3f9" stroke="#f6cdd0" stroke-width="0.55"/>
<rect x="610.09" y="434.09" width="16.81" height="19.56" fill="#fafdfb" stroke="#f6cdd0" stroke-width="0.55"/>
<rect x="425.2" y="453.65" width="16.81" height="19.56" fill="#ecf6f0" stroke="#f6cdd0" stroke-width="0.55"/>
<rect x="442.01" y="453.65" width="16.81" height="19.56" fill="#f8f8fb" stroke="#f6cdd0" stroke-width="0.55"/>
<rect x="458.82" y="453.65" width="16.81" height="19.56" fill="#aaa6d3" stroke="#f6cdd0" stroke-width="0.55"/>
<rect x="475.62" y="453.65" width="16.81" height="19.56" fill="#e7f4ec" stroke="#f6cdd0" stroke-width="0.55"/>
<rect x="492.43" y="453.65" width="16.81" height="19.56" fill="#c7c3e2" stroke="#f6cdd0" stroke-width="0.55"/>
<rect x="509.24" y="453.65" width="16.81" height="19.56" fill="#c7e6d3" stroke="#f6cdd0" stroke-width="0.55"/>
<rect x="526.05" y="453.65" width="16.81" height="19.56" fill="#88caa0" stroke="#f6cdd0" stroke-width="0.55"/>
<rect x="542.86" y="453.65" width="16.81" height="19.56" fill="#88caa0" stroke="#f6cdd0" stroke-width="0.55"/>
<rect x="559.67" y="453.65" width="16.81" height="19.56" fill="#c0bcde" stroke="#f6cdd0" stroke-width="0.55"/>
<rect x="576.48" y="453.65" width="16.81" height="19.56" fill="#ffffff" stroke="#f6cdd0" stroke-width="0.55"/>
<rect x="593.28" y="453.65" width="16.81" height="19.56" fill="#f1f0f8" stroke="#f6cdd0" stroke-width="0.55"/>
<rect x="610.09" y="453.65" width="16.81" height="19.56" fill="#f5fbf7" stroke="#f6cdd0" stroke-width="0.55"/>
<rect x="425.2" y="473.21" width="16.81" height="19.56" fill="#eeedf6" stroke="#f6cdd0" stroke-width="0.55"/>
<rect x="442.01" y="473.21" width="16.81" height="19.56" fill="#eeedf6" stroke="#f6cdd0" stroke-width="0.55"/>
<rect x="458.82" y="473.21" width="16.81" height="19.56" fill="#eae9f4" stroke="#f6cdd0" stroke-width="0.55"/>
<rect x="475.62" y="473.21" width="16.81" height="19.56" fill="#e7f4ec" stroke="#f6cdd0" stroke-width="0.55"/>
<rect x="492.43" y="473.21" width="16.81" height="19.56" fill="#aaa6d3" stroke="#f6cdd0" stroke-width="0.55"/>
<rect x="509.24" y="473.21" width="16.81" height="19.56" fill="#f2f9f5" stroke="#f6cdd0" stroke-width="0.55"/>
<rect x="526.05" y="473.21" width="16.81" height="19.56" fill="#98d1ac" stroke="#f6cdd0" stroke-width="0.55"/>
<rect x="542.86" y="473.21" width="16.81" height="19.56" fill="#88caa0" stroke="#f6cdd0" stroke-width="0.55"/>
<rect x="559.67" y="473.21" width="16.81" height="19.56" fill="#f1f0f8" stroke="#f6cdd0" stroke-width="0.55"/>
<rect x="576.48" y="473.21" width="16.81" height="19.56" fill="#fbfbfd" stroke="#f6cdd0" stroke-width="0.55"/>
<rect x="593.28" y="473.21" width="16.81" height="19.56" fill="#f8f8fb" stroke="#f6cdd0" stroke-width="0.55"/>
<rect x="610.09" y="473.21" width="16.81" height="19.56" fill="#fbfbfd" stroke="#f6cdd0" stroke-width="0.55"/>
<rect x="425.2" y="492.76" width="16.81" height="19.56" fill="#c7c3e2" stroke="#f6cdd0" stroke-width="0.55"/>
<rect x="442.01" y="492.76" width="16.81" height="19.56" fill="#f1f0f8" stroke="#f6cdd0" stroke-width="0.55"/>
<rect x="458.82" y="492.76" width="16.81" height="19.56" fill="#b8b4da" stroke="#f6cdd0" stroke-width="0.55"/>
<rect x="475.62" y="492.76" width="16.81" height="19.56" fill="#f2f9f5" stroke="#f6cdd0" stroke-width="0.55"/>
<rect x="492.43" y="492.76" width="16.81" height="19.56" fill="#dcdaed" stroke="#f6cdd0" stroke-width="0.55"/>
<rect x="509.24" y="492.76" width="16.81" height="19.56" fill="#d7eddf" stroke="#f6cdd0" stroke-width="0.55"/>
<rect x="526.05" y="492.76" width="16.81" height="19.56" fill="#90cda6" stroke="#f6cdd0" stroke-width="0.55"/>
<rect x="542.86" y="492.76" width="16.81" height="19.56" fill="#88caa0" stroke="#f6cdd0" stroke-width="0.55"/>
<rect x="559.67" y="492.76" width="16.81" height="19.56" fill="#e3e1f0" stroke="#f6cdd0" stroke-width="0.55"/>
<rect x="576.48" y="492.76" width="16.81" height="19.56" fill="#fafdfb" stroke="#f6cdd0" stroke-width="0.55"/>
<rect x="593.28" y="492.76" width="16.81" height="19.56" fill="#e3e1f0" stroke="#f6cdd0" stroke-width="0.55"/>
<rect x="610.09" y="492.76" width="16.81" height="19.56" fill="#cecbe5" stroke="#f6cdd0" stroke-width="0.55"/>
<rect x="425.2" y="512.32" width="16.81" height="19.56" fill="#8e88c5" stroke="#f6cdd0" stroke-width="0.55"/>
<rect x="442.01" y="512.32" width="16.81" height="19.56" fill="#eae9f4" stroke="#f6cdd0" stroke-width="0.55"/>
<rect x="458.82" y="512.32" width="16.81" height="19.56" fill="#b8b4da" stroke="#f6cdd0" stroke-width="0.55"/>
<rect x="475.62" y="512.32" width="16.81" height="19.56" fill="#ffffff" stroke="#f6cdd0" stroke-width="0.55"/>
<rect x="492.43" y="512.32" width="16.81" height="19.56" fill="#e3e1f0" stroke="#f6cdd0" stroke-width="0.55"/>
<rect x="509.24" y="512.32" width="16.81" height="19.56" fill="#dff1e6" stroke="#f6cdd0" stroke-width="0.55"/>
<rect x="526.05" y="512.32" width="16.81" height="19.56" fill="#c7e6d3" stroke="#f6cdd0" stroke-width="0.55"/>
<rect x="542.86" y="512.32" width="16.81" height="19.56" fill="#90cda6" stroke="#f6cdd0" stroke-width="0.55"/>
<rect x="559.67" y="512.32" width="16.81" height="19.56" fill="#eae9f4" stroke="#f6cdd0" stroke-width="0.55"/>
<rect x="576.48" y="512.32" width="16.81" height="19.56" fill="#f1f0f8" stroke="#f6cdd0" stroke-width="0.55"/>
<rect x="593.28" y="512.32" width="16.81" height="19.56" fill="#e3e1f0" stroke="#f6cdd0" stroke-width="0.55"/>
<rect x="610.09" y="512.32" width="16.81" height="19.56" fill="#9f9acd" stroke="#f6cdd0" stroke-width="0.55"/>
<rect x="425.2" y="531.88" width="16.81" height="19.56" fill="#f9fcfa" stroke="#f6cdd0" stroke-width="0.55"/>
<rect x="442.01" y="531.88" width="16.81" height="19.56" fill="#ffffff" stroke="#f6cdd0" stroke-width="0.55"/>
<rect x="458.82" y="531.88" width="16.81" height="19.56" fill="#dff1e6" stroke="#f6cdd0" stroke-width="0.55"/>
<rect x="475.62" y="531.88" width="16.81" height="19.56" fill="#fafdfb" stroke="#f6cdd0" stroke-width="0.55"/>
<rect x="492.43" y="531.88" width="16.81" height="19.56" fill="#cecbe5" stroke="#f6cdd0" stroke-width="0.55"/>
<rect x="509.24" y="531.88" width="16.81" height="19.56" fill="#90cda6" stroke="#f6cdd0" stroke-width="0.55"/>
<rect x="526.05" y="531.88" width="16.81" height="19.56" fill="#98d1ac" stroke="#f6cdd0" stroke-width="0.55"/>
<rect x="542.86" y="531.88" width="16.81" height="19.56" fill="#90cda6" stroke="#f6cdd0" stroke-width="0.55"/>
<rect x="559.67" y="531.88" width="16.81" height="19.56" fill="#dff1e6" stroke="#f6cdd0" stroke-width="0.55"/>
<rect x="576.48" y="531.88" width="16.81" height="19.56" fill="#ffffff" stroke="#f6cdd0" stroke-width="0.55"/>
<rect x="593.28" y="531.88" width="16.81" height="19.56" fill="#eae9f4" stroke="#f6cdd0" stroke-width="0.55"/>
<rect x="610.09" y="531.88" width="16.81" height="19.56" fill="#f9f9fc" stroke="#f6cdd0" stroke-width="0.55"/>
<rect x="425.2" y="551.43" width="16.81" height="19.56" fill="#b1add7" stroke="#f6cdd0" stroke-width="0.55"/>
<rect x="442.01" y="551.43" width="16.81" height="19.56" fill="#dcdaed" stroke="#f6cdd0" stroke-width="0.55"/>
<rect x="458.82" y="551.43" width="16.81" height="19.56" fill="#dcdaed" stroke="#f6cdd0" stroke-width="0.55"/>
<rect x="475.62" y="551.43" width="16.81" height="19.56" fill="#eff8f2" stroke="#f6cdd0" stroke-width="0.55"/>
<rect x="492.43" y="551.43" width="16.81" height="19.56" fill="#c7c3e2" stroke="#f6cdd0" stroke-width="0.55"/>
<rect x="509.24" y="551.43" width="16.81" height="19.56" fill="#d7eddf" stroke="#f6cdd0" stroke-width="0.55"/>
<rect x="526.05" y="551.43" width="16.81" height="19.56" fill="#b7dfc6" stroke="#f6cdd0" stroke-width="0.55"/>
<rect x="542.86" y="551.43" width="16.81" height="19.56" fill="#88caa0" stroke="#f6cdd0" stroke-width="0.55"/>
<rect x="559.67" y="551.43" width="16.81" height="19.56" fill="#c0bcde" stroke="#f6cdd0" stroke-width="0.55"/>
<rect x="576.48" y="551.43" width="16.81" height="19.56" fill="#f2f9f5" stroke="#f6cdd0" stroke-width="0.55"/>
<rect x="593.28" y="551.43" width="16.81" height="19.56" fill="#eeedf6" stroke="#f6cdd0" stroke-width="0.55"/>
<rect x="610.09" y="551.43" width="16.81" height="19.56" fill="#dcdaed" stroke="#f6cdd0" stroke-width="0.55"/>
<rect x="425.2" y="570.99" width="16.81" height="19.56" fill="#bfe3cc" stroke="#f6cdd0" stroke-width="0.55"/>
<rect x="442.01" y="570.99" width="16.81" height="19.56" fill="#b7dfc6" stroke="#f6cdd0" stroke-width="0.55"/>
<rect x="458.82" y="570.99" width="16.81" height="19.56" fill="#cfead9" stroke="#f6cdd0" stroke-width="0.55"/>
<rect x="475.62" y="570.99" width="16.81" height="19.56" fill="#e3e1f0" stroke="#f6cdd0" stroke-width="0.55"/>
<rect x="492.43" y="570.99" width="16.81" height="19.56" fill="#dcdaed" stroke="#f6cdd0" stroke-width="0.55"/>
<rect x="509.24" y="570.99" width="16.81" height="19.56" fill="#ffffff" stroke="#f6cdd0" stroke-width="0.55"/>
<rect x="526.05" y="570.99" width="16.81" height="19.56" fill="#b0dcc0" stroke="#f6cdd0" stroke-width="0.55"/>
<rect x="542.86" y="570.99" width="16.81" height="19.56" fill="#90cda6" stroke="#f6cdd0" stroke-width="0.55"/>
<rect x="559.67" y="570.99" width="16.81" height="19.56" fill="#eae9f4" stroke="#f6cdd0" stroke-width="0.55"/>
<rect x="576.48" y="570.99" width="16.81" height="19.56" fill="#eeedf6" stroke="#f6cdd0" stroke-width="0.55"/>
<rect x="593.28" y="570.99" width="16.81" height="19.56" fill="#f1f0f8" stroke="#f6cdd0" stroke-width="0.55"/>
<rect x="610.09" y="570.99" width="16.81" height="19.56" fill="#ecf6f0" stroke="#f6cdd0" stroke-width="0.55"/>
<rect x="425.2" y="590.54" width="16.81" height="19.56" fill="#b7dfc6" stroke="#f6cdd0" stroke-width="0.55"/>
<rect x="442.01" y="590.54" width="16.81" height="19.56" fill="#b7dfc6" stroke="#f6cdd0" stroke-width="0.55"/>
<rect x="458.82" y="590.54" width="16.81" height="19.56" fill="#98d1ac" stroke="#f6cdd0" stroke-width="0.55"/>
<rect x="475.62" y="590.54" width="16.81" height="19.56" fill="#f1f0f8" stroke="#f6cdd0" stroke-width="0.55"/>
<rect x="492.43" y="590.54" width="16.81" height="19.56" fill="#cecbe5" stroke="#f6cdd0" stroke-width="0.55"/>
<rect x="509.24" y="590.54" width="16.81" height="19.56" fill="#f7fbf9" stroke="#f6cdd0" stroke-width="0.55"/>
<rect x="526.05" y="590.54" width="16.81" height="19.56" fill="#c7e6d3" stroke="#f6cdd0" stroke-width="0.55"/>
<rect x="542.86" y="590.54" width="16.81" height="19.56" fill="#ecf6f0" stroke="#f6cdd0" stroke-width="0.55"/>
<rect x="559.67" y="590.54" width="16.81" height="19.56" fill="#ffffff" stroke="#f6cdd0" stroke-width="0.55"/>
<rect x="576.48" y="590.54" width="16.81" height="19.56" fill="#b0dcc0" stroke="#f6cdd0" stroke-width="0.55"/>
<rect x="593.28" y="590.54" width="16.81" height="19.56" fill="#f2f9f5" stroke="#f6cdd0" stroke-width="0.55"/>
<rect x="610.09" y="590.54" width="16.81" height="19.56" fill="#a6d7b8" stroke="#f6cdd0" stroke-width="0.55"/>
<text x="517.65" y="310.18" font-size="8" fill="#111" text-anchor="middle">***</text>
<text x="534.45" y="310.18" font-size="8" fill="#111" text-anchor="middle">**</text>
<text x="551.26" y="310.18" font-size="8" fill="#111" text-anchor="middle">**</text>
<text x="517.65" y="329.73" font-size="8" fill="#111" text-anchor="middle">*</text>
<text x="534.45" y="329.73" font-size="8" fill="#111" text-anchor="middle">***</text>
<text x="551.26" y="329.73" font-size="8" fill="#111" text-anchor="middle">****</text>
<text x="534.45" y="349.29" font-size="8" fill="#111" text-anchor="middle">***</text>
<text x="551.26" y="349.29" font-size="8" fill="#111" text-anchor="middle">***</text>
<text x="500.84" y="368.85" font-size="8" fill="#111" text-anchor="middle">*</text>
<text x="517.65" y="368.85" font-size="8" fill="#111" text-anchor="middle">**</text>
<text x="534.45" y="368.85" font-size="8" fill="#111" text-anchor="middle">***</text>
<text x="551.26" y="368.85" font-size="8" fill="#111" text-anchor="middle">****</text>
<text x="517.65" y="388.4" font-size="8" fill="#111" text-anchor="middle">*</text>
<text x="534.45" y="388.4" font-size="8" fill="#111" text-anchor="middle">**</text>
<text x="551.26" y="388.4" font-size="8" fill="#111" text-anchor="middle">***</text>
<text x="517.65" y="407.96" font-size="8" fill="#111" text-anchor="middle">***</text>
<text x="534.45" y="407.96" font-size="8" fill="#111" text-anchor="middle">*</text>
<text x="551.26" y="407.96" font-size="8" fill="#111" text-anchor="middle">*</text>
<text x="517.65" y="427.52" font-size="8" fill="#111" text-anchor="middle">**</text>
<text x="534.45" y="427.52" font-size="8" fill="#111" text-anchor="middle">**</text>
<text x="551.26" y="427.52" font-size="8" fill="#111" text-anchor="middle">**</text>
<text x="500.84" y="447.07" font-size="8" fill="#111" text-anchor="middle">*</text>
<text x="517.65" y="447.07" font-size="8" fill="#111" text-anchor="middle">**</text>
<text x="534.45" y="447.07" font-size="8" fill="#111" text-anchor="middle">**</text>
<text x="551.26" y="447.07" font-size="8" fill="#111" text-anchor="middle">**</text>
<text x="517.65" y="466.63" font-size="8" fill="#111" text-anchor="middle">**</text>
<text x="534.45" y="466.63" font-size="8" fill="#111" text-anchor="middle">**</text>
<text x="551.26" y="466.63" font-size="8" fill="#111" text-anchor="middle">**</text>
<text x="517.65" y="486.18" font-size="8" fill="#111" text-anchor="middle">**</text>
<text x="534.45" y="486.18" font-size="8" fill="#111" text-anchor="middle">**</text>
<text x="551.26" y="486.18" font-size="8" fill="#111" text-anchor="middle">**</text>
<text x="500.84" y="505.74" font-size="8" fill="#111" text-anchor="middle">**</text>
<text x="517.65" y="505.74" font-size="8" fill="#111" text-anchor="middle">*</text>
<text x="534.45" y="505.74" font-size="8" fill="#111" text-anchor="middle">**</text>
<text x="551.26" y="505.74" font-size="8" fill="#111" text-anchor="middle">**</text>
<text x="433.6" y="525.3" font-size="8" fill="#111" text-anchor="middle">*</text>
<text x="500.84" y="525.3" font-size="8" fill="#111" text-anchor="middle">*</text>
<text x="517.65" y="525.3" font-size="8" fill="#111" text-anchor="middle">**</text>
<text x="534.45" y="525.3" font-size="8" fill="#111" text-anchor="middle">*</text>
<text x="551.26" y="525.3" font-size="8" fill="#111" text-anchor="middle">**</text>
<text x="517.65" y="544.85" font-size="8" fill="#111" text-anchor="middle">**</text>
<text x="534.45" y="544.85" font-size="8" fill="#111" text-anchor="middle">**</text>
<text x="551.26" y="544.85" font-size="8" fill="#111" text-anchor="middle">**</text>
<text x="517.65" y="564.41" font-size="8" fill="#111" text-anchor="middle">**</text>
<text x="534.45" y="564.41" font-size="8" fill="#111" text-anchor="middle">**</text>
<text x="551.26" y="564.41" font-size="8" fill="#111" text-anchor="middle">***</text>
<text x="467.22" y="583.97" font-size="8" fill="#111" text-anchor="middle">**</text>
<text x="534.45" y="583.97" font-size="8" fill="#111" text-anchor="middle">***</text>
<text x="551.26" y="583.97" font-size="8" fill="#111" text-anchor="middle">***</text>
<text x="433.6" y="603.52" font-size="8" fill="#111" text-anchor="middle">**</text>
<text x="467.22" y="603.52" font-size="8" fill="#111" text-anchor="middle">*</text>
<text x="534.45" y="603.52" font-size="8" fill="#111" text-anchor="middle">*</text>
<text x="551.26" y="603.52" font-size="8" fill="#111" text-anchor="middle">*</text>
<path d="M423.5,295.3 V612.4 H627.2" fill="none" stroke="#3a3a3a" stroke-width="1.05"/>
<line x1="420.6" x2="423.5" y1="307.58" y2="307.58" stroke="#222" stroke-width="0.7"/>
<text x="417.2" y="312.98" font-size="8.5" fill="#1a1a1a" text-anchor="end" textLength="34.59" lengthAdjust="spacingAndGlyphs">Spike_WT</text>
<line x1="420.6" x2="423.5" y1="327.13" y2="327.13" stroke="#222" stroke-width="0.7"/>
<text x="417.2" y="329.43" font-size="8.5" fill="#1a1a1a" text-anchor="end" textLength="41.28" lengthAdjust="spacingAndGlyphs">Spike_alpha</text>
<line x1="420.6" x2="423.5" y1="346.69" y2="346.69" stroke="#222" stroke-width="0.7"/>
<text x="417.2" y="349.94" font-size="8.5" fill="#1a1a1a" text-anchor="end" textLength="37.53" lengthAdjust="spacingAndGlyphs">Spike_beta</text>
<line x1="420.6" x2="423.5" y1="366.25" y2="366.25" stroke="#222" stroke-width="0.7"/>
<text x="417.2" y="368.95" font-size="8.5" fill="#1a1a1a" text-anchor="end" textLength="47.94" lengthAdjust="spacingAndGlyphs">Spike_gamma</text>
<line x1="420.6" x2="423.5" y1="385.8" y2="385.8" stroke="#222" stroke-width="0.7"/>
<text x="417.2" y="388.9" font-size="8.5" fill="#1a1a1a" text-anchor="end" textLength="39.2" lengthAdjust="spacingAndGlyphs">Spike_delta</text>
<line x1="420.6" x2="423.5" y1="405.36" y2="405.36" stroke="#222" stroke-width="0.7"/>
<text x="417.2" y="407.28" font-size="8.5" fill="#1a1a1a" text-anchor="end" textLength="49.61" lengthAdjust="spacingAndGlyphs">Spike_omicron</text>
<line x1="420.6" x2="423.5" y1="424.92" y2="424.92" stroke="#222" stroke-width="0.7"/>
<text x="417.2" y="428.32" font-size="8.5" fill="#1a1a1a" text-anchor="end" textLength="31.67" lengthAdjust="spacingAndGlyphs">RBD_WT</text>
<line x1="420.6" x2="423.5" y1="444.47" y2="444.47" stroke="#222" stroke-width="0.7"/>
<text x="417.2" y="448.87" font-size="8.5" fill="#1a1a1a" text-anchor="end" textLength="38.36" lengthAdjust="spacingAndGlyphs">RBD_alpha</text>
<line x1="420.6" x2="423.5" y1="464.03" y2="464.03" stroke="#222" stroke-width="0.7"/>
<text x="417.2" y="469.23" font-size="8.5" fill="#1a1a1a" text-anchor="end" textLength="34.6" lengthAdjust="spacingAndGlyphs">RBD_beta</text>
<line x1="420.6" x2="423.5" y1="483.58" y2="483.58" stroke="#222" stroke-width="0.7"/>
<text x="417.2" y="485.78" font-size="8.5" fill="#1a1a1a" text-anchor="end" textLength="45.02" lengthAdjust="spacingAndGlyphs">RBD_gamma</text>
<line x1="420.6" x2="423.5" y1="503.14" y2="503.14" stroke="#222" stroke-width="0.7"/>
<text x="417.2" y="505.34" font-size="8.5" fill="#1a1a1a" text-anchor="end" textLength="36.27" lengthAdjust="spacingAndGlyphs">RBD_delta</text>
<line x1="420.6" x2="423.5" y1="522.7" y2="522.7" stroke="#222" stroke-width="0.7"/>
<text x="417.2" y="524.9" font-size="8.5" fill="#1a1a1a" text-anchor="end" textLength="46.68" lengthAdjust="spacingAndGlyphs">RBD_omicron</text>
<line x1="420.6" x2="423.5" y1="542.25" y2="542.25" stroke="#222" stroke-width="0.7"/>
<text x="417.2" y="544.45" font-size="8.5" fill="#1a1a1a" text-anchor="end" textLength="15.41" lengthAdjust="spacingAndGlyphs">NTD</text>
<line x1="420.6" x2="423.5" y1="561.81" y2="561.81" stroke="#222" stroke-width="0.7"/>
<text x="417.2" y="564.91" font-size="8.5" fill="#1a1a1a" text-anchor="end" textLength="9.17" lengthAdjust="spacingAndGlyphs">S1</text>
<line x1="420.6" x2="423.5" y1="581.37" y2="581.37" stroke="#222" stroke-width="0.7"/>
<text x="417.2" y="583.97" font-size="8.5" fill="#1a1a1a" text-anchor="end" textLength="9.17" lengthAdjust="spacingAndGlyphs">S2</text>
<line x1="420.6" x2="423.5" y1="600.92" y2="600.92" stroke="#222" stroke-width="0.7"/>
<text x="417.2" y="603.42" font-size="8.5" fill="#1a1a1a" text-anchor="end" textLength="45.03" lengthAdjust="spacingAndGlyphs">Nucleocapsid</text>
<line x1="433.6" x2="433.6" y1="612.4" y2="615" stroke="#333" stroke-width="0.7"/>
<text x="432" y="618" font-size="8.6" fill="#1a1a1a" text-anchor="end" dominant-baseline="hanging" textLength="13.38" lengthAdjust="spacingAndGlyphs" transform="rotate(-45 432 618)">IgG</text>
<line x1="450.41" x2="450.41" y1="612.4" y2="615" stroke="#333" stroke-width="0.7"/>
<text x="448.81" y="618" font-size="8.6" fill="#1a1a1a" text-anchor="end" dominant-baseline="hanging" textLength="17.99" lengthAdjust="spacingAndGlyphs" transform="rotate(-45 448.81 618)">IgG1</text>
<line x1="467.22" x2="467.22" y1="612.4" y2="615" stroke="#333" stroke-width="0.7"/>
<text x="465.62" y="618" font-size="8.6" fill="#1a1a1a" text-anchor="end" dominant-baseline="hanging" textLength="17.99" lengthAdjust="spacingAndGlyphs" transform="rotate(-45 465.62 618)">IgG2</text>
<line x1="484.03" x2="484.03" y1="612.4" y2="615" stroke="#333" stroke-width="0.7"/>
<text x="482.43" y="618" font-size="8.6" fill="#1a1a1a" text-anchor="end" dominant-baseline="hanging" textLength="17.99" lengthAdjust="spacingAndGlyphs" transform="rotate(-45 482.43 618)">IgG3</text>
<line x1="500.84" x2="500.84" y1="612.4" y2="615" stroke="#333" stroke-width="0.7"/>
<text x="499.24" y="618" font-size="8.6" fill="#1a1a1a" text-anchor="end" dominant-baseline="hanging" textLength="17.99" lengthAdjust="spacingAndGlyphs" transform="rotate(-45 499.24 618)">IgG4</text>
<line x1="517.65" x2="517.65" y1="612.4" y2="615" stroke="#333" stroke-width="0.7"/>
<text x="516.05" y="618" font-size="8.6" fill="#1a1a1a" text-anchor="end" dominant-baseline="hanging" textLength="13.84" lengthAdjust="spacingAndGlyphs" transform="rotate(-45 516.05 618)">IgM</text>
<line x1="534.45" x2="534.45" y1="612.4" y2="615" stroke="#333" stroke-width="0.7"/>
<text x="532.85" y="618" font-size="8.6" fill="#1a1a1a" text-anchor="end" dominant-baseline="hanging" textLength="17.07" lengthAdjust="spacingAndGlyphs" transform="rotate(-45 532.85 618)">IgA1</text>
<line x1="551.26" x2="551.26" y1="612.4" y2="615" stroke="#333" stroke-width="0.7"/>
<text x="549.66" y="618" font-size="8.6" fill="#1a1a1a" text-anchor="end" dominant-baseline="hanging" textLength="20.01" lengthAdjust="spacingAndGlyphs" transform="rotate(-45 549.66 618)">FcαR</text>
<line x1="568.07" x2="568.07" y1="612.4" y2="615" stroke="#333" stroke-width="0.7"/>
<text x="566.47" y="618" font-size="8.6" fill="#1a1a1a" text-anchor="end" dominant-baseline="hanging" textLength="29.52" lengthAdjust="spacingAndGlyphs" transform="rotate(-45 566.47 618)">FcγR2A</text>
<line x1="584.88" x2="584.88" y1="612.4" y2="615" stroke="#333" stroke-width="0.7"/>
<text x="583.28" y="618" font-size="8.6" fill="#1a1a1a" text-anchor="end" dominant-baseline="hanging" textLength="29.52" lengthAdjust="spacingAndGlyphs" transform="rotate(-45 583.28 618)">FcγR2B</text>
<line x1="601.69" x2="601.69" y1="612.4" y2="615" stroke="#333" stroke-width="0.7"/>
<text x="600.09" y="618" font-size="8.6" fill="#1a1a1a" text-anchor="end" dominant-baseline="hanging" textLength="29.52" lengthAdjust="spacingAndGlyphs" transform="rotate(-45 600.09 618)">FcγR3A</text>
<line x1="618.5" x2="618.5" y1="612.4" y2="615" stroke="#333" stroke-width="0.7"/>
<text x="616.9" y="618" font-size="8.6" fill="#1a1a1a" text-anchor="end" dominant-baseline="hanging" textLength="29.52" lengthAdjust="spacingAndGlyphs" transform="rotate(-45 616.9 618)">FcγR3B</text>
<defs><linearGradient id="cb" x1="0" x2="1" y1="0" y2="0"><stop offset="0" stop-color="#8179bf"/><stop offset="0.5" stop-color="#ffffff"/><stop offset="1" stop-color="#76c492"/></linearGradient></defs>
<rect x="481.6" y="675.3" width="69.5" height="14.6" fill="url(#cb)"/>
<text x="485.2" y="670.7" font-size="6.6" fill="#333" text-anchor="start" transform="rotate(-90 485.2 670.7)">1.0</text>
<text x="502" y="670.7" font-size="6.6" fill="#333" text-anchor="start" transform="rotate(-90 502 670.7)">0.5</text>
<text x="519.2" y="670.7" font-size="6.6" fill="#333" text-anchor="start" transform="rotate(-90 519.2 670.7)">0.0</text>
<text x="536.4" y="670.7" font-size="6.6" fill="#333" text-anchor="start" transform="rotate(-90 536.4 670.7)">−0.5</text>
<text x="553.4" y="670.7" font-size="6.6" fill="#333" text-anchor="start" transform="rotate(-90 553.4 670.7)">−1.0</text>
<text x="476" y="681.8" font-size="6.3" fill="#222" text-anchor="middle" transform="rotate(-90 476 681.8)">Child</text>
<text x="561.5" y="680.6" font-size="6.3" fill="#222" text-anchor="middle" transform="rotate(-90 561.5 680.6)">Adult</text>
<line x1="25.4" x2="25.4" y1="600" y2="684.5" stroke="#222" stroke-width="0.7"/>
<line x1="25.4" x2="271.5" y1="684.5" y2="684.5" stroke="#222" stroke-width="0.7"/>
<line x1="21.8" x2="25.4" y1="684.5" y2="684.5" stroke="#222" stroke-width="0.6"/>
<text x="20.6" y="686.6" font-size="6" fill="#222" text-anchor="end">0</text>
<line x1="21.8" x2="25.4" y1="667.58" y2="667.58" stroke="#222" stroke-width="0.6"/>
<text x="20.6" y="669.68" font-size="6" fill="#222" text-anchor="end">20</text>
<line x1="21.8" x2="25.4" y1="650.66" y2="650.66" stroke="#222" stroke-width="0.6"/>
<text x="20.6" y="652.76" font-size="6" fill="#222" text-anchor="end">40</text>
<line x1="21.8" x2="25.4" y1="633.74" y2="633.74" stroke="#222" stroke-width="0.6"/>
<text x="20.6" y="635.84" font-size="6" fill="#222" text-anchor="end">60</text>
<line x1="21.8" x2="25.4" y1="616.82" y2="616.82" stroke="#222" stroke-width="0.6"/>
<text x="20.6" y="618.92" font-size="6" fill="#222" text-anchor="end">80</text>
<line x1="21.8" x2="25.4" y1="599.9" y2="599.9" stroke="#222" stroke-width="0.6"/>
<text x="20.6" y="602" font-size="6" fill="#222" text-anchor="end">100</text>
<line x1="58.6" x2="58.6" y1="598.2" y2="697.6" stroke="#222" stroke-width="0.7"/>
<line x1="95.5" x2="95.5" y1="598.2" y2="697.6" stroke="#222" stroke-width="0.7"/>
<line x1="132.6" x2="132.6" y1="598.2" y2="697.6" stroke="#222" stroke-width="0.7"/>
<line x1="166.4" x2="166.4" y1="598.2" y2="697.6" stroke="#222" stroke-width="0.7"/>
<line x1="202.5" x2="202.5" y1="598.2" y2="697.6" stroke="#222" stroke-width="0.7"/>
<line x1="238.6" x2="238.6" y1="598.2" y2="697.6" stroke="#222" stroke-width="0.7"/>
<text x="40.8" y="692.2" font-size="6.5" fill="#222" text-anchor="middle">IgG</text>
<text x="76.6" y="692.2" font-size="6.5" fill="#222" text-anchor="middle">IgG1</text>
<text x="113.8" y="692.2" font-size="6.5" fill="#222" text-anchor="middle">IgG2</text>
<text x="148.4" y="692.2" font-size="6.5" fill="#222" text-anchor="middle">IgG3</text>
<text x="184.5" y="692.2" font-size="6.5" fill="#222" text-anchor="middle">IgG4</text>
<text x="220.3" y="692.2" font-size="6.5" fill="#222" text-anchor="middle">IgM</text>
<text x="254.6" y="692.2" font-size="6.5" fill="#222" text-anchor="middle">IgA1</text>
<path d="M29.6,606.1 L34.3,605.4 L39,606.1 L34.3,606.8 Z" fill="#95d7ab" stroke="#95d7ab" stroke-width="0.9"/>
<path d="M42.9,606.1 L47.55,605.4 L52.2,606.1 L47.55,606.8 Z" fill="#a19cda" stroke="#a19cda" stroke-width="0.9"/>
<path d="M71.41,600.11C71.68,600.37 72.59,601.12 72.99,601.69C73.4,602.25 73.64,602.6 73.84,603.51C74.05,604.42 74.41,605.54 74.21,607.16C74.01,608.78 73.2,611.21 72.63,613.24C72.06,615.26 71.19,617.7 70.81,619.32C70.42,620.94 70.36,620.94 70.32,622.96C70.28,624.99 70.38,629.04 70.56,631.47C70.74,633.91 71.07,635.32 71.41,637.55C71.76,639.78 72.67,642.82 72.63,644.85C72.59,646.87 71.53,647.89 71.17,649.71C70.81,651.53 70.62,653.56 70.44,655.79C70.26,658.02 70.14,661.87 70.08,663.09L69.59,663.09C69.55,661.87 69.51,658.02 69.35,655.79C69.18,653.56 68.98,651.53 68.62,649.71C68.25,647.89 67.2,646.87 67.16,644.85C67.12,642.82 68.03,639.78 68.37,637.55C68.72,635.32 69.04,633.91 69.22,631.47C69.41,629.04 69.51,624.99 69.47,622.96C69.43,620.94 69.37,620.94 68.98,619.32C68.6,617.7 67.71,615.26 67.16,613.24C66.61,611.21 65.9,608.78 65.7,607.16C65.5,605.54 65.76,604.42 65.94,603.51C66.12,602.6 66.39,602.25 66.79,601.69C67.2,601.12 68.11,600.37 68.37,600.11Z" fill="#95d7ab" stroke="none"/>
<path d="M85.64,600.11C85.86,600.37 86.65,601.12 86.98,601.69C87.3,602.25 87.44,602.6 87.58,603.51C87.73,604.42 88.03,605.54 87.83,607.16C87.62,608.78 86.87,611.21 86.37,613.24C85.86,615.26 85.19,617.49 84.79,619.32C84.38,621.14 83.94,622.15 83.94,624.18C83.94,626.21 84.5,628.23 84.79,631.47C85.07,634.72 85.64,639.98 85.64,643.63C85.64,647.28 85.07,650.12 84.79,653.36C84.5,656.6 84.16,659.84 83.94,663.09C83.71,666.33 83.53,671.19 83.45,672.81L83.21,672.81C83.13,671.19 82.92,666.33 82.72,663.09C82.52,659.84 82.25,656.6 81.99,653.36C81.73,650.12 81.14,647.28 81.14,643.63C81.14,639.98 81.73,634.72 81.99,631.47C82.25,628.23 82.72,626.21 82.72,624.18C82.72,622.15 82.42,621.14 81.99,619.32C81.57,617.49 80.67,615.26 80.17,613.24C79.66,611.21 79.11,608.78 78.95,607.16C78.79,605.54 79.05,604.42 79.19,603.51C79.34,602.6 79.48,602.25 79.8,601.69C80.13,601.12 80.92,600.37 81.14,600.11Z" fill="#a19cda" stroke="none"/>
<path d="M105.7,613.24C105.76,613.64 106.06,614.66 106.06,615.67C106.06,616.68 105.6,617.7 105.7,619.32C105.8,620.94 105.9,623.88 106.67,625.4C107.44,626.91 110.22,627.52 110.32,628.43C110.42,629.35 107.73,630.16 107.28,630.87C106.83,631.58 107.64,632.08 107.64,632.69C107.64,633.3 107.58,633.7 107.28,634.51C106.98,635.32 106.06,637.05 105.82,637.55L105.09,637.55C104.85,637.05 103.92,635.32 103.63,634.51C103.35,633.7 103.39,633.3 103.39,632.69C103.39,632.08 104.04,631.58 103.63,630.87C103.23,630.16 100.86,629.35 100.96,628.43C101.06,627.52 103.53,626.91 104.24,625.4C104.95,623.88 105.11,620.94 105.21,619.32C105.31,617.7 104.85,616.68 104.85,615.67C104.85,614.66 105.15,613.64 105.21,613.24Z" fill="#95d7ab" stroke="none"/>
<path d="M119.44,615.06C119.52,615.47 119.92,616.58 119.92,617.49C119.92,618.4 119.4,618.97 119.44,620.53C119.48,622.09 119.4,625.54 120.17,626.85C120.94,628.17 123.98,627.97 124.06,628.43C124.14,628.9 121.4,629.14 120.65,629.65C119.9,630.16 119.58,630.72 119.56,631.47C119.54,632.22 120.55,633.34 120.53,634.15C120.51,634.96 119.62,635.97 119.44,636.34L118.95,636.34C118.77,635.97 117.88,634.96 117.86,634.15C117.84,633.34 118.87,632.22 118.83,631.47C118.79,630.72 118.32,630.16 117.61,629.65C116.9,629.14 114.47,628.9 114.57,628.43C114.68,627.97 117.49,628.17 118.22,626.85C118.95,625.54 118.91,622.09 118.95,620.53C118.99,618.97 118.47,618.4 118.47,617.49C118.47,616.58 118.87,615.47 118.95,615.06Z" fill="#a19cda" stroke="none"/>
<path d="M141.82,600.16C142.22,600.66 143.56,602.2 144.26,603.15C144.96,604.1 146.03,604.96 146.03,605.87C146.03,606.77 144.85,607.68 144.26,608.58C143.67,609.49 142.84,610.17 142.5,611.3C142.16,612.43 142.18,613.56 142.22,615.37C142.27,617.18 142.81,620.35 142.77,622.16C142.72,623.98 142.13,624.99 141.95,626.24C141.77,627.48 141.73,629.07 141.68,629.63L141.41,629.63C141.36,629.07 141.32,627.48 141.14,626.24C140.96,624.99 140.37,623.98 140.32,622.16C140.28,620.35 140.82,617.18 140.87,615.37C140.91,613.56 140.93,612.43 140.59,611.3C140.25,610.17 139.42,609.49 138.83,608.58C138.24,607.68 137.06,606.77 137.06,605.87C137.06,604.96 138.13,604.1 138.83,603.15C139.53,602.2 140.87,600.66 141.27,600.16Z" fill="#95d7ab" stroke="none"/>
<path d="M157.84,600.16C158,600.43 158.57,600.84 158.79,601.79C159.02,602.74 159.25,604.73 159.2,605.87C159.16,607 158.91,607.45 158.52,608.58C158.14,609.71 157.35,611.3 156.89,612.66C156.44,614.02 155.9,615.15 155.81,616.73C155.72,618.32 156.4,620.58 156.35,622.16C156.3,623.75 155.76,624.84 155.53,626.24C155.31,627.64 155.08,629.86 154.99,630.59L154.72,630.59C154.63,629.86 154.4,627.64 154.18,626.24C153.95,624.84 153.41,623.75 153.36,622.16C153.32,620.58 154,618.32 153.9,616.73C153.81,615.15 153.23,614.02 152.82,612.66C152.41,611.3 151.87,609.71 151.46,608.58C151.05,607.45 150.44,607 150.37,605.87C150.31,604.73 150.83,602.74 151.05,601.79C151.28,600.84 151.62,600.43 151.73,600.16Z" fill="#a19cda" stroke="none"/>
<path d="M177.67,660.87C177.76,661.44 178.08,663.02 178.22,664.27C178.35,665.51 178.42,666.76 178.49,668.34C178.56,669.93 178.42,671.97 178.62,673.78C178.83,675.59 179.21,677.74 179.71,679.21C180.21,680.68 181.21,681.7 181.61,682.61C182.02,683.51 182.07,684.3 182.16,684.64L172.92,684.64C173.01,684.3 173.06,683.51 173.46,682.61C173.87,681.7 174.87,680.68 175.37,679.21C175.86,677.74 176.25,675.59 176.45,673.78C176.66,671.97 176.52,669.93 176.59,668.34C176.66,666.76 176.72,665.51 176.86,664.27C176.99,663.02 177.31,661.44 177.4,660.87Z" fill="#95d7ab" stroke="none"/>
<path d="M190.58,626.24C190.71,627.82 191.12,631.9 191.39,635.75C191.66,639.6 192.21,645.25 192.21,649.33C192.21,653.4 191.39,656.57 191.39,660.2C191.39,663.82 191.8,667.89 192.21,671.06C192.61,674.23 193.38,676.95 193.84,679.21C194.29,681.47 194.74,683.74 194.92,684.64L186.37,684.64C186.48,683.74 186.66,681.47 187.05,679.21C187.43,676.95 188.27,674.23 188.68,671.06C189.08,667.89 189.49,663.82 189.49,660.2C189.49,656.57 188.65,653.4 188.68,649.33C188.7,645.25 189.35,639.6 189.63,635.75C189.9,631.9 190.19,627.82 190.31,626.24Z" fill="#a19cda" stroke="none"/>
<path d="M213.31,601.11C213.42,602.36 213.67,605.98 213.99,608.58C214.31,611.19 214.92,614.24 215.21,616.73C215.51,619.22 215.85,620.81 215.76,623.52C215.66,626.24 214.9,630.31 214.67,633.03C214.44,635.75 214.24,637.78 214.4,639.82C214.56,641.86 215.48,642.54 215.62,645.25C215.76,647.97 215.01,652.5 215.21,656.12C215.42,659.74 216.48,663.59 216.84,666.99C217.2,670.38 217.29,673.66 217.39,676.49C217.48,679.32 217.39,682.72 217.39,683.96L209.24,683.96C209.24,682.72 209.15,679.32 209.24,676.49C209.33,673.66 209.46,670.38 209.78,666.99C210.1,663.59 210.96,659.74 211.14,656.12C211.32,652.5 210.71,647.97 210.87,645.25C211.02,642.54 211.93,641.86 212.09,639.82C212.25,637.78 212.02,635.75 211.82,633.03C211.61,630.31 210.93,626.24 210.87,623.52C210.8,620.81 211.16,619.22 211.41,616.73C211.66,614.24 212.09,611.19 212.36,608.58C212.63,605.98 212.93,602.36 213.04,601.11Z" fill="#95d7ab" stroke="none"/>
<path d="M226.62,677.17C226.69,677.74 226.49,679.6 227.03,680.57C227.57,681.54 229.22,682.38 229.88,683.01C230.54,683.65 230.79,684.15 230.97,684.37L222.41,684.37C222.64,684.15 223.18,683.65 223.77,683.01C224.36,682.38 225.51,681.54 225.94,680.57C226.37,679.6 226.28,677.74 226.35,677.17Z" fill="#a19cda" stroke="none"/>
<path d="M249.03,600.43C249.35,601.79 250.21,605.75 250.93,608.58C251.66,611.41 253.31,614.47 253.38,617.41C253.45,620.35 251.82,623.64 251.34,626.24C250.87,628.84 250.53,630.77 250.53,633.03C250.53,635.29 251.27,637.56 251.34,639.82C251.41,642.09 251.16,643.9 250.93,646.61C250.71,649.33 250.23,652.95 249.98,656.12C249.73,659.29 249.55,660.99 249.44,665.63C249.33,670.27 249.33,680.91 249.3,683.96L248.49,683.96C248.47,680.91 248.47,670.27 248.35,665.63C248.24,660.99 248.06,659.29 247.81,656.12C247.56,652.95 247.09,649.33 246.86,646.61C246.63,643.9 246.34,642.09 246.45,639.82C246.56,637.56 247.47,635.29 247.54,633.03C247.61,630.77 247.36,628.84 246.86,626.24C246.36,623.64 244.55,620.35 244.55,617.41C244.55,614.47 246.16,611.41 246.86,608.58C247.56,605.75 248.44,601.79 248.76,600.43Z" fill="#95d7ab" stroke="none"/>
<path d="M262.61,643.9C262.86,645.25 263.79,649.78 264.11,652.05C264.43,654.31 264.61,655.22 264.52,657.48C264.43,659.74 263.43,663.14 263.57,665.63C263.7,668.12 264.83,670.16 265.33,672.42C265.83,674.68 266.4,677.29 266.55,679.21C266.71,681.13 266.33,683.17 266.28,683.96L258.68,683.96C258.63,683.17 258.22,681.13 258.4,679.21C258.59,677.29 259.26,674.68 259.76,672.42C260.26,670.16 261.26,668.12 261.39,665.63C261.53,663.14 260.62,659.74 260.58,657.48C260.53,655.22 260.83,654.31 261.12,652.05C261.41,649.78 262.14,645.25 262.34,643.9Z" fill="#a19cda" stroke="none"/>
<text x="220.6" y="587.6" font-size="6.3" fill="#111" text-anchor="middle">p = 0.02</text>
<path d="M213.3,590.9 V593.3 M213.3,592.1 H227.6 M227.6,590.9 V593.3" fill="none" stroke="#333" stroke-width="0.6"/>
<text x="256.2" y="588.4" font-size="6.3" fill="#111" text-anchor="middle">p = 0.004</text>
<path d="M248.4,591.4 V593.8 M248.4,592.6 H263.2 M263.2,591.4 V593.8" fill="none" stroke="#555" stroke-width="0.6"/>
<rect x="269.8" y="603.1" width="9.7" height="6" fill="#95d7ab"/>
<text x="282.4" y="608.4" font-size="6.4" fill="#111">Adult</text>
<rect x="269.8" y="615.4" width="9.7" height="5.8" fill="#a19cda"/>
<text x="282.4" y="620.6" font-size="6.4" fill="#111">Children</text>
</svg></body></html>
